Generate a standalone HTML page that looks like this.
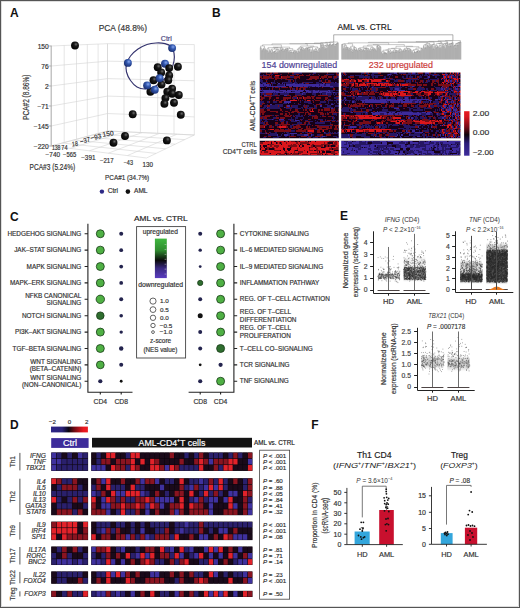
<!DOCTYPE html>
<html><head><meta charset="utf-8"><style>
html,body{margin:0;padding:0;background:#fff;}
#fig{position:relative;width:520px;height:608px;overflow:hidden;background:#fff;}
svg{position:absolute;left:0;top:0;font-family:"Liberation Sans",sans-serif;}
</style></head><body><div id="fig">
<svg width="520" height="608" viewBox="0 0 520 608">
<defs>
<radialGradient id="gk" cx="0.62" cy="0.35" r="0.7"><stop offset="0" stop-color="#6a6a6a"/><stop offset="0.35" stop-color="#1a1a1a"/><stop offset="1" stop-color="#000"/></radialGradient>
<radialGradient id="gb" cx="0.62" cy="0.35" r="0.7"><stop offset="0" stop-color="#86a6ee"/><stop offset="0.4" stop-color="#3358ae"/><stop offset="1" stop-color="#182a6c"/></radialGradient>
<linearGradient id="gbar" x1="0" y1="0" x2="0" y2="1"><stop offset="0" stop-color="#e81c22"/><stop offset="0.12" stop-color="#d8161e"/><stop offset="0.35" stop-color="#7a0a16"/><stop offset="0.53" stop-color="#0e040c"/><stop offset="0.72" stop-color="#2a1c78"/><stop offset="1" stop-color="#3e2c9c"/></linearGradient>
<linearGradient id="ggr" x1="0" y1="0" x2="0" y2="1"><stop offset="0" stop-color="#3fb83f"/><stop offset="0.3" stop-color="#2f8a2f"/><stop offset="0.55" stop-color="#0a0a0a"/><stop offset="0.75" stop-color="#3a2a80"/><stop offset="1" stop-color="#5a3cc0"/></linearGradient>
<linearGradient id="gd" x1="0" y1="0" x2="1" y2="0"><stop offset="0" stop-color="#2e2688"/><stop offset="0.3" stop-color="#2a2278"/><stop offset="0.48" stop-color="#0a0610"/><stop offset="0.62" stop-color="#6a0a14"/><stop offset="0.88" stop-color="#e81820"/><stop offset="1" stop-color="#f01c22"/></linearGradient>
<filter id="hb" x="-5%" y="-5%" width="110%" height="110%"><feGaussianBlur stdDeviation="0.45"/></filter>
<filter id="vb" x="-20%" y="-50%" width="140%" height="200%"><feGaussianBlur stdDeviation="0.4 1.1"/></filter>
</defs>
<rect x="0" y="0" width="520" height="608" fill="#fff"/>
<text x="10" y="16.8" font-size="12" font-weight="bold" fill="#111">A</text>
<text x="98.7" y="30.6" font-size="9.9" textLength="48.4" lengthAdjust="spacingAndGlyphs" fill="#333" stroke="#333" stroke-width="0.18">PCA (48.8%)</text>
<path d="M51.2 46.00L51.2 146.00M64.2 45.47L64.2 142.54M76.5 44.97L76.5 139.26M87.3 44.53L87.3 136.38M98.1 44.08L98.1 133.50M107.5 43.70L107.5 131.00M51.2 46.00L107.5 43.70M51.2 66.00L107.5 61.16M51.2 86.00L107.5 78.62M51.2 106.00L107.5 96.08M51.2 126.00L107.5 113.54M51.2 146.00L107.5 131.00M107.5 43.70L107.5 131.00M124 43.87L124 131.76M140.4 44.04L140.4 132.52M157.7 44.22L157.7 133.31M174 44.39L174 134.06M194.3 44.60L194.3 135.00M107.5 43.70L194.3 44.60M107.5 61.16L194.3 62.68M107.5 78.62L194.3 80.76M107.5 96.08L194.3 98.84M107.5 113.54L194.3 116.92M107.5 131.00L194.3 135.00M51.20 146.00L146.50 158.00M107.50 131.00L51.20 146.00M62.46 143.00L156.06 153.40M124.86 131.80L70.26 148.40M73.72 140.00L165.62 148.80M142.22 132.60L89.32 150.80M84.98 137.00L175.18 144.20M159.58 133.40L108.38 153.20M96.24 134.00L184.74 139.60M176.94 134.20L127.44 155.60M107.50 131.00L194.30 135.00M194.30 135.00L146.50 158.00" stroke="#d4d4d4" stroke-width="0.6" fill="none"/>
<path d="M51.2 45.5L51.2 146.5M48.5 46H51.2M48.5 66H51.2M48.5 86H51.2M48.5 106H51.2M48.5 126H51.2M48.5 146H51.2" stroke="#999" stroke-width="0.7" fill="none"/>
<text x="48.7" y="48.65" font-size="6.6" text-anchor="end" fill="#333" stroke="#333" stroke-width="0.18">150</text>
<text x="48.7" y="69.15" font-size="6.6" text-anchor="end" fill="#333" stroke="#333" stroke-width="0.18">76</text>
<text x="48.7" y="89.15" font-size="6.6" text-anchor="end" fill="#333" stroke="#333" stroke-width="0.18">2</text>
<text x="48.7" y="109.15" font-size="6.6" text-anchor="end" fill="#333" stroke="#333" stroke-width="0.18">−71</text>
<text x="48.7" y="128.65" font-size="6.6" text-anchor="end" fill="#333" stroke="#333" stroke-width="0.18">−145</text>
<text x="48.7" y="148.65" font-size="6.6" text-anchor="end" fill="#333" stroke="#333" stroke-width="0.18">−220</text>
<text x="29.4" y="97.2" font-size="8.3" text-anchor="middle" textLength="45.4" lengthAdjust="spacingAndGlyphs" fill="#333" stroke="#333" stroke-width="0.18" transform="rotate(-90 29.4 97.2)">PCA#2 (8.86%)</text>
<text x="56.2" y="150.3" font-size="6.6" text-anchor="middle" fill="#333" stroke="#333" stroke-width="0.18" textLength="8.5" lengthAdjust="spacingAndGlyphs" transform="rotate(0 56.2 148.0)">138</text>
<text x="64.4" y="149.6" font-size="6.6" text-anchor="middle" fill="#333" stroke="#333" stroke-width="0.18" textLength="6.2" lengthAdjust="spacingAndGlyphs" transform="rotate(0 64.4 147.3)">74</text>
<text x="75.0" y="146.1" font-size="6.6" text-anchor="middle" fill="#333" stroke="#333" stroke-width="0.18" textLength="6.0" lengthAdjust="spacingAndGlyphs" transform="rotate(-8 75.0 143.8)">18</text>
<text x="84.9" y="142.8" font-size="6.6" text-anchor="middle" fill="#333" stroke="#333" stroke-width="0.18" textLength="10.2" lengthAdjust="spacingAndGlyphs" transform="rotate(-14 84.9 140.5)">−37</text>
<text x="95.8" y="139.3" font-size="6.6" text-anchor="middle" fill="#333" stroke="#333" stroke-width="0.18" textLength="10.9" lengthAdjust="spacingAndGlyphs" transform="rotate(-14 95.8 137.0)">−93</text>
<text x="108.1" y="136.1" font-size="6.6" text-anchor="middle" fill="#333" stroke="#333" stroke-width="0.18" textLength="11.2" lengthAdjust="spacingAndGlyphs" transform="rotate(-8 108.1 133.8)">150</text>
<text x="52.8" y="156.8" font-size="6.6" text-anchor="middle" fill="#333" stroke="#333" stroke-width="0.18" textLength="14.5" lengthAdjust="spacingAndGlyphs">−740</text>
<text x="69.6" y="156.8" font-size="6.6" text-anchor="middle" fill="#333" stroke="#333" stroke-width="0.18" textLength="13.2" lengthAdjust="spacingAndGlyphs">−565</text>
<text x="88.3" y="159.8" font-size="6.6" text-anchor="middle" fill="#333" stroke="#333" stroke-width="0.18" textLength="14.3" lengthAdjust="spacingAndGlyphs">−391</text>
<text x="106.8" y="162.8" font-size="6.6" text-anchor="middle" fill="#333" stroke="#333" stroke-width="0.18" textLength="13.7" lengthAdjust="spacingAndGlyphs">−217</text>
<text x="128.3" y="164.8" font-size="6.6" text-anchor="middle" fill="#333" stroke="#333" stroke-width="0.18" textLength="9.3" lengthAdjust="spacingAndGlyphs">−43</text>
<text x="147.8" y="166.5" font-size="6.6" text-anchor="middle" fill="#333" stroke="#333" stroke-width="0.18" textLength="10.5" lengthAdjust="spacingAndGlyphs">130</text>
<text x="29.6" y="170.4" font-size="8.3" textLength="45.6" lengthAdjust="spacingAndGlyphs" fill="#333" stroke="#333" stroke-width="0.18">PCA#3 (5.24%)</text>
<text x="105.1" y="179.5" font-size="7.8" textLength="44.1" lengthAdjust="spacingAndGlyphs" fill="#333" stroke="#333" stroke-width="0.18">PCA#1 (34.7%)</text>
<circle cx="101.9" cy="191.6" r="2.2" fill="#2e2a86"/>
<text x="107.7" y="193.2" font-size="6.4" textLength="10.4" lengthAdjust="spacingAndGlyphs" fill="#333" stroke="#333" stroke-width="0.18">Ctrl</text>
<circle cx="127.9" cy="191.6" r="2.3" fill="#111"/>
<text x="134" y="193.2" font-size="6.4" textLength="13.5" lengthAdjust="spacingAndGlyphs" fill="#333" stroke="#333" stroke-width="0.18">AML</text>
<path d="M156.00 43.00 C159.00 42.85 162.50 43.02 165.00 43.60 C167.50 44.18 169.50 44.93 171.00 46.50 C172.50 48.07 173.50 50.58 174.00 53.00 C174.50 55.42 174.50 58.17 174.00 61.00 C173.50 63.83 172.67 66.92 171.00 70.00 C169.33 73.08 166.67 76.75 164.00 79.50 C161.33 82.25 158.17 84.92 155.00 86.50 C151.83 88.08 148.00 88.92 145.00 89.00 C142.00 89.08 139.42 88.42 137.00 87.00 C134.58 85.58 132.25 83.00 130.50 80.50 C128.75 78.00 127.17 74.75 126.50 72.00 C125.83 69.25 125.83 66.67 126.50 64.00 C127.17 61.33 128.58 58.50 130.50 56.00 C132.42 53.50 135.25 50.92 138.00 49.00 C140.75 47.08 144.00 45.50 147.00 44.50 C150.00 43.50 153.00 43.15 156.00 43.00 Z" fill="none" stroke="#34336e" stroke-width="1.15"/>
<text x="160.8" y="40.8" font-size="6.5" textLength="11" lengthAdjust="spacingAndGlyphs" fill="#4b4a80" stroke="#4b4a80" stroke-width="0.18">Ctrl</text>
<circle cx="75" cy="45.5" r="3.95" fill="url(#gk)"/>
<circle cx="177.9" cy="66.7" r="3.95" fill="url(#gk)"/>
<circle cx="157.7" cy="67.3" r="3.95" fill="url(#gk)"/>
<circle cx="161.2" cy="72.5" r="3.95" fill="url(#gk)"/>
<circle cx="169.2" cy="75.4" r="3.95" fill="url(#gk)"/>
<circle cx="153.5" cy="80.2" r="3.95" fill="url(#gk)"/>
<circle cx="168.3" cy="80.2" r="3.95" fill="url(#gk)"/>
<circle cx="161.5" cy="84.6" r="3.95" fill="url(#gk)"/>
<circle cx="172.1" cy="88.8" r="3.95" fill="url(#gk)"/>
<circle cx="150.4" cy="91.7" r="3.95" fill="url(#gk)"/>
<circle cx="167.3" cy="91.7" r="3.95" fill="url(#gk)"/>
<circle cx="172.1" cy="93.7" r="3.95" fill="url(#gk)"/>
<circle cx="178.8" cy="95" r="3.95" fill="url(#gk)"/>
<circle cx="165.4" cy="98.1" r="3.95" fill="url(#gk)"/>
<circle cx="174" cy="102.7" r="3.95" fill="url(#gk)"/>
<circle cx="164.4" cy="103.8" r="3.95" fill="url(#gk)"/>
<circle cx="132.7" cy="114.2" r="3.95" fill="url(#gk)"/>
<circle cx="180.8" cy="114.8" r="3.95" fill="url(#gk)"/>
<circle cx="125" cy="136" r="3.95" fill="url(#gk)"/>
<circle cx="166.9" cy="140.4" r="3.95" fill="url(#gk)"/>
<circle cx="113.5" cy="142.7" r="3.95" fill="url(#gk)"/>
<circle cx="172.1" cy="48.1" r="3.95" fill="url(#gb)"/>
<circle cx="127.9" cy="62.9" r="3.95" fill="url(#gb)"/>
<circle cx="165" cy="63.8" r="3.95" fill="url(#gb)"/>
<circle cx="159.6" cy="78.3" r="3.95" fill="url(#gb)"/>
<circle cx="147.1" cy="85.4" r="3.95" fill="url(#gb)"/>
<circle cx="154.8" cy="89.8" r="3.95" fill="url(#gb)"/>
<circle cx="169.2" cy="68.1" r="3.95" fill="url(#gk)"/>
<text x="212.1" y="16.7" font-size="12" font-weight="bold" fill="#111">B</text>
<text x="337.4" y="29.8" font-size="8.9" textLength="54.2" lengthAdjust="spacingAndGlyphs" fill="#222" stroke="#222" stroke-width="0.18">AML vs. CTRL</text>
<path d="M260.77 59.80V48.00H261.28V59.80M260.26 59.80V47.64H261.02V48.00M262.30 59.80V50.78H262.81V59.80M261.79 59.80V50.40H262.55V50.78M263.32 59.80V50.55H263.83V59.80M262.17 50.40V49.26H263.57V50.55M262.87 49.26V49.16H264.34V59.80M265.36 59.80V50.36H265.87V59.80M264.85 59.80V49.49H265.61V50.36M263.60 49.16V48.16H265.23V49.49M260.64 47.64V45.97H264.42V48.16M267.91 59.80V52.73H268.42V59.80M267.40 59.80V51.58H268.17V52.73M266.89 59.80V50.80H267.78V51.58M266.38 59.80V50.46H267.34V50.80M268.93 59.80V50.22H269.44V59.80M266.86 50.46V48.91H269.19V50.22M270.97 59.80V53.06H271.48V59.80M270.46 59.80V51.87H271.23V53.06M269.95 59.80V51.54H270.85V51.87M271.99 59.80V50.24H272.50V59.80M270.40 51.54V50.14H272.25V50.24M273.01 59.80V52.14H273.53V59.80M274.04 59.80V52.64H274.55V59.80M275.06 59.80V53.06H275.57V59.80M274.29 52.64V51.92H275.31V53.06M273.27 52.14V51.79H274.80V51.92M276.08 59.80V52.50H276.59V59.80M274.04 51.79V51.51H276.33V52.50M277.10 59.80V52.81H277.61V59.80M277.35 52.81V51.56H278.12V59.80M275.18 51.51V50.27H277.74V51.56M279.14 59.80V51.35H279.65V59.80M278.63 59.80V50.12H279.39V51.35M276.46 50.27V49.42H279.01V50.12M271.32 50.14V49.12H277.74V49.42M280.16 59.80V49.63H280.67V59.80M281.69 59.80V50.27H282.20V59.80M281.18 59.80V50.07H281.95V50.27M282.71 59.80V50.82H283.22V59.80M281.56 50.07V49.38H282.97V50.82M282.27 49.38V49.25H283.73V59.80M280.42 49.63V48.09H283.00V49.25M274.53 49.12V47.80H281.71V48.09M268.02 48.91V47.63H278.12V47.80M284.24 59.80V50.75H284.75V59.80M284.50 50.75V49.72H285.26V59.80M285.77 59.80V49.59H286.29V59.80M284.88 49.72V49.20H286.03V49.59M286.80 59.80V50.01H287.31V59.80M287.82 59.80V49.68H288.33V59.80M287.05 50.01V48.95H288.07V49.68M285.46 49.20V48.71H287.56V48.95M288.84 59.80V52.38H289.35V59.80M289.09 52.38V50.99H289.86V59.80M290.37 59.80V52.54H290.88V59.80M291.39 59.80V52.21H291.90V59.80M290.62 52.54V52.06H291.64V52.21M289.48 50.99V50.71H291.13V52.06M292.92 59.80V53.51H293.43V59.80M293.18 53.51V52.75H293.94V59.80M293.56 52.75V52.57H294.45V59.80M292.41 59.80V52.31H294.00V52.57M294.96 59.80V51.87H295.47V59.80M293.21 52.31V51.41H295.22V51.87M295.98 59.80V51.70H296.49V59.80M294.21 51.41V50.92H296.24V51.70M290.30 50.71V50.29H295.22V50.92M286.51 48.71V48.61H292.76V50.29M273.07 47.63V47.14H289.64V48.61M262.53 45.97V44.85H281.35V47.14M297.51 59.80V53.08H298.02V59.80M297.77 53.08V51.79H298.53V59.80M299.04 59.80V52.15H299.56V59.80M298.15 51.79V51.21H299.30V52.15M297.00 59.80V49.61H298.73V51.21M297.86 49.61V48.65H300.07V59.80M300.58 59.80V49.12H301.09V59.80M301.60 59.80V48.89H302.11V59.80M300.83 49.12V48.73H301.85V48.89M302.62 59.80V49.90H303.13V59.80M302.87 49.90V48.40H303.64V59.80M301.34 48.73V47.68H303.26V48.40M298.97 48.65V47.30H302.30V47.68M304.15 59.80V49.67H304.66V59.80M305.17 59.80V50.54H305.68V59.80M305.42 50.54V49.19H306.19V59.80M304.40 49.67V48.92H305.81V49.19M307.72 59.80V49.71H308.23V59.80M307.21 59.80V49.42H307.98V49.71M307.59 49.42V48.60H308.74V59.80M306.70 59.80V48.46H308.17V48.60M305.11 48.92V48.22H307.43V48.46M309.25 59.80V49.78H309.76V59.80M309.51 49.78V49.36H310.27V59.80M306.27 48.22V47.66H309.89V49.36M310.78 59.80V52.26H311.29V59.80M311.04 52.26V51.90H311.80V59.80M311.42 51.90V50.63H312.31V59.80M312.83 59.80V50.34H313.34V59.80M311.87 50.63V49.23H313.08V50.34M308.08 47.66V47.39H312.47V49.23M313.85 59.80V51.24H314.36V59.80M314.87 59.80V51.13H315.38V59.80M314.10 51.24V50.19H315.12V51.13M315.89 59.80V51.00H316.40V59.80M316.14 51.00V49.72H316.91V59.80M314.61 50.19V49.41H316.53V49.72M317.93 59.80V51.81H318.44V59.80M317.42 59.80V51.66H318.18V51.81M317.80 51.66V50.20H318.95V59.80M318.38 50.20V49.48H319.46V59.80M318.92 49.48V48.63H319.97V59.80M315.57 49.41V48.09H319.44V48.63M310.28 47.39V46.85H317.51V48.09M300.63 47.30V46.02H313.89V46.85M271.94 44.85V43.87H307.26V46.02M320.99 59.80V44.87H321.50V59.80M320.48 59.80V44.53H321.25V44.87M289.60 43.87V43.72H320.86V44.53M322.01 59.80V47.26H322.52V59.80M322.27 47.26V44.87H323.03V59.80M322.65 44.87V44.71H323.54V59.80M305.23 43.72V43.50H323.10V44.71M324.05 59.80V47.38H324.56V59.80M325.07 59.80V49.06H325.59V59.80M325.33 49.06V48.39H326.10V59.80M326.61 59.80V48.29H327.12V59.80M325.71 48.39V46.61H326.86V48.29M324.31 47.38V45.55H326.29V46.61M325.30 45.55V45.13H327.63V59.80M326.46 45.13V44.88H328.14V59.80M314.16 43.50V43.01H327.30V44.88M328.65 59.80V45.25H329.16V59.80M328.90 45.25V44.83H329.67V59.80M329.29 44.83V44.43H330.18V59.80M329.73 44.43V44.05H330.69V59.80M320.73 43.01V42.68H330.21V44.05M331.20 59.80V45.65H331.71V59.80M331.45 45.65V45.04H332.22V59.80M331.84 45.04V44.90H332.73V59.80M332.28 44.90V44.49H333.24V59.80M332.76 44.49V44.14H333.75V59.80M333.26 44.14V43.80H334.26V59.80M325.47 42.68V42.33H333.76V43.80M334.77 59.80V46.15H335.28V59.80M335.03 46.15V44.52H335.79V59.80M335.41 44.52V44.36H336.30V59.80M335.86 44.36V44.20H336.81V59.80M336.34 44.20V43.77H337.32V59.80M336.83 43.77V43.47H337.83V59.80M337.33 43.47V42.96H338.34V59.80M329.62 42.33V42.00H337.84V42.96" stroke="#7a7a7a" stroke-width="0.4" fill="none"/>
<path d="M342.17 59.50V44.73H342.69V59.50M341.66 59.50V44.49H342.43V44.73M343.21 59.50V49.34H343.72V59.50M343.47 49.34V48.28H344.24V59.50M343.85 48.28V46.23H344.76V59.50M345.79 59.50V48.67H346.31V59.50M346.82 59.50V49.07H347.34V59.50M347.08 49.07V48.70H347.85V59.50M346.05 48.67V48.09H347.47V48.70M346.76 48.09V47.43H348.37V59.50M345.27 59.50V47.26H347.56V47.43M344.30 46.23V45.37H346.42V47.26M342.05 44.49V44.18H345.36V45.37M348.89 59.50V49.81H349.40V59.50M349.92 59.50V48.90H350.44V59.50M349.15 49.81V48.34H350.18V48.90M351.99 59.50V51.98H352.50V59.50M351.47 59.50V51.14H352.24V51.98M351.86 51.14V50.39H353.02V59.50M350.95 59.50V49.57H352.44V50.39M349.66 48.34V47.89H351.70V49.57M354.57 59.50V49.43H355.08V59.50M354.05 59.50V49.32H354.83V49.43M355.60 59.50V50.16H356.12V59.50M357.15 59.50V51.20H357.67V59.50M356.63 59.50V50.10H357.41V51.20M355.86 50.16V49.80H357.02V50.10M354.44 49.32V47.92H356.44V49.80M353.53 59.50V47.44H355.44V47.92M350.68 47.89V46.24H354.49V47.44M343.70 44.18V43.70H352.58V46.24M358.18 59.50V48.65H358.70V59.50M359.22 59.50V50.40H359.73V59.50M359.47 50.40V50.01H360.25V59.50M360.76 59.50V50.61H361.28V59.50M361.02 50.61V49.59H361.80V59.50M359.86 50.01V49.40H361.41V49.59M358.44 48.65V48.38H360.64V49.40M362.31 59.50V50.92H362.83V59.50M364.38 59.50V51.35H364.90V59.50M363.86 59.50V50.51H364.64V51.35M363.35 59.50V50.04H364.25V50.51M362.57 50.92V49.87H363.80V50.04M365.41 59.50V50.39H365.93V59.50M363.18 49.87V48.83H365.67V50.39M366.44 59.50V49.41H366.96V59.50M364.43 48.83V48.60H366.70V49.41M367.48 59.50V50.47H367.99V59.50M369.03 59.50V50.68H369.54V59.50M368.51 59.50V49.63H369.28V50.68M367.74 50.47V48.76H368.90V49.63M365.56 48.60V48.36H368.32V48.76M359.54 48.38V47.77H366.94V48.36M370.58 59.50V51.23H371.09V59.50M370.83 51.23V49.94H371.61V59.50M370.06 59.50V49.13H371.22V49.94M373.16 59.50V49.96H373.67V59.50M372.64 59.50V49.41H373.42V49.96M372.12 59.50V48.98H373.03V49.41M374.19 59.50V49.49H374.71V59.50M375.74 59.50V50.81H376.26V59.50M375.22 59.50V50.14H376.00V50.81M374.45 49.49V49.01H375.61V50.14M372.58 48.98V48.67H375.03V49.01M370.64 49.13V47.61H373.80V48.67M363.24 47.77V46.09H372.22V47.61M377.29 59.50V46.25H377.80V59.50M376.77 59.50V45.94H377.55V46.25M378.32 59.50V48.14H378.84V59.50M379.35 59.50V48.82H379.87V59.50M378.58 48.14V47.40H379.61V48.82M380.39 59.50V47.08H380.90V59.50M379.10 47.40V46.59H380.64V47.08M377.16 45.94V45.70H379.87V46.59M367.73 46.09V44.98H378.51V45.70M381.42 59.50V52.71H381.94V59.50M382.45 59.50V54.34H382.97V59.50M382.71 54.34V53.46H383.48V59.50M384.00 59.50V53.68H384.52V59.50M385.03 59.50V53.52H385.55V59.50M384.26 53.68V53.14H385.29V53.52M386.58 59.50V53.73H387.10V59.50M386.07 59.50V53.42H386.84V53.73M384.78 53.14V52.91H386.45V53.42M383.10 53.46V52.72H385.61V52.91M381.68 52.71V51.67H384.36V52.72M387.62 59.50V51.73H388.13V59.50M388.65 59.50V51.55H389.17V59.50M387.87 51.73V51.21H388.91V51.55M383.02 51.67V50.19H388.39V51.21M390.20 59.50V53.03H390.71V59.50M390.46 53.03V52.74H391.23V59.50M390.84 52.74V52.30H391.75V59.50M389.68 59.50V51.10H391.30V52.30M385.70 50.19V49.89H390.49V51.10M392.26 59.50V51.97H392.78V59.50M393.30 59.50V52.33H393.81V59.50M393.55 52.33V52.26H394.33V59.50M392.52 51.97V51.38H393.94V52.26M395.88 59.50V52.29H396.39V59.50M395.36 59.50V52.08H396.14V52.29M395.75 52.08V51.84H396.91V59.50M394.85 59.50V51.16H396.33V51.84M395.59 51.16V50.59H397.43V59.50M393.23 51.38V50.20H396.51V50.59M388.10 49.89V48.70H394.87V50.20M397.94 59.50V51.10H398.46V59.50M399.49 59.50V52.27H400.01V59.50M398.98 59.50V51.82H399.75V52.27M399.36 51.82V50.78H400.53V59.50M398.20 51.10V50.20H399.94V50.78M401.04 59.50V51.36H401.56V59.50M402.07 59.50V51.46H402.59V59.50M401.30 51.36V50.47H402.33V51.46M399.07 50.20V49.46H401.82V50.47M391.48 48.70V48.33H400.44V49.46M403.62 59.50V51.05H404.14V59.50M403.11 59.50V50.53H403.88V51.05M405.17 59.50V51.38H405.69V59.50M405.43 51.38V50.13H406.21V59.50M404.66 59.50V50.03H405.82V50.13M403.49 50.53V49.48H405.24V50.03M406.72 59.50V50.01H407.24V59.50M406.98 50.01V49.16H407.75V59.50M408.27 59.50V51.33H408.79V59.50M408.53 51.33V50.21H409.30V59.50M409.82 59.50V50.12H410.34V59.50M410.85 59.50V50.66H411.37V59.50M410.08 50.12V49.65H411.11V50.66M408.92 50.21V49.16H410.59V49.65M407.37 49.16V48.52H409.76V49.16M404.37 49.48V48.33H408.56V48.52M412.92 59.50V53.70H413.43V59.50M412.40 59.50V53.07H413.18V53.70M411.89 59.50V52.06H412.79V53.07M414.47 59.50V52.40H414.98V59.50M414.73 52.40V52.27H415.50V59.50M413.95 59.50V52.06H415.11V52.27M412.34 52.06V50.70H414.53V52.06M416.02 59.50V52.01H416.53V59.50M417.57 59.50V52.44H418.08V59.50M417.05 59.50V51.83H417.82V52.44M417.44 51.83V51.59H418.60V59.50M416.27 52.01V51.41H418.02V51.59M419.12 59.50V51.75H419.63V59.50M419.37 51.75V51.11H420.15V59.50M417.15 51.41V50.79H419.76V51.11M413.43 50.70V49.63H418.45V50.79M420.66 59.50V50.47H421.18V59.50M420.92 50.47V48.75H421.70V59.50M422.21 59.50V49.52H422.73V59.50M421.31 48.75V48.43H422.47V49.52M415.94 49.63V48.08H421.89V48.43M406.46 48.33V46.71H418.92V48.08M395.96 48.33V46.30H412.69V46.71M373.12 44.98V44.59H404.33V46.30M348.14 43.70V42.85H388.72V44.59M423.76 59.50V46.82H424.28V59.50M423.25 59.50V46.66H424.02V46.82M424.80 59.50V48.40H425.31V59.50M425.05 48.40V48.09H425.83V59.50M425.44 48.09V47.18H426.34V59.50M423.63 46.66V45.02H425.89V47.18M427.38 59.50V46.60H427.89V59.50M427.64 46.60V46.17H428.41V59.50M426.86 59.50V45.47H428.02V46.17M424.76 45.02V44.63H427.44V45.47M429.44 59.50V47.11H429.96V59.50M430.48 59.50V46.15H430.99V59.50M429.70 47.11V44.98H430.73V46.15M428.93 59.50V44.04H430.22V44.98M426.10 44.63V43.42H429.57V44.04M368.43 42.85V42.34H427.84V43.42M432.02 59.50V45.60H432.54V59.50M431.51 59.50V44.79H432.28V45.60M433.57 59.50V49.32H434.09V59.50M433.06 59.50V48.75H433.83V49.32M433.44 48.75V46.83H434.61V59.50M431.90 44.79V44.53H434.03V46.83M432.96 44.53V44.16H435.12V59.50M398.14 42.34V41.96H434.04V44.16M436.16 59.50V48.03H436.67V59.50M437.19 59.50V47.47H437.70V59.50M436.41 48.03V46.98H437.45V47.47M436.93 46.98V46.76H438.22V59.50M435.64 59.50V45.61H437.58V46.76M439.25 59.50V48.46H439.77V59.50M438.74 59.50V46.78H439.51V48.46M440.29 59.50V48.38H440.80V59.50M440.54 48.38V47.46H441.32V59.50M439.12 46.78V45.57H440.93V47.46M436.61 45.61V43.59H440.03V45.57M438.32 43.59V43.40H441.84V59.50M440.08 43.40V43.01H442.35V59.50M416.09 41.96V41.63H441.21V43.01M442.87 59.50V46.39H443.38V59.50M443.13 46.39V44.34H443.90V59.50M444.93 59.50V48.64H445.45V59.50M444.42 59.50V46.91H445.19V48.64M445.97 59.50V45.09H446.48V59.50M444.80 46.91V44.92H446.23V45.09M443.51 44.34V43.62H445.51V44.92M444.51 43.62V43.33H447.00V59.50M445.76 43.33V43.02H447.52V59.50M446.64 43.02V42.74H448.03V59.50M428.65 41.63V41.39H447.33V42.74M448.55 59.50V46.35H449.07V59.50M450.10 59.50V46.07H450.61V59.50M450.36 46.07V45.66H451.13V59.50M449.58 59.50V44.31H450.74V45.66M448.81 46.35V43.98H450.16V44.31M449.48 43.98V43.64H451.65V59.50M450.57 43.64V43.44H452.16V59.50M451.36 43.44V43.17H452.68V59.50M452.02 43.17V42.76H453.20V59.50M437.99 41.39V40.81H452.61V42.76M453.71 59.50V46.16H454.23V59.50M455.26 59.50V48.02H455.78V59.50M454.75 59.50V45.79H455.52V48.02M453.97 46.16V45.45H455.13V45.79M454.55 45.45V45.32H456.29V59.50M455.42 45.32V43.86H456.81V59.50M457.33 59.50V45.18H457.84V59.50M457.59 45.18V44.88H458.36V59.50M456.12 43.86V43.46H457.97V44.88M457.04 43.46V43.01H458.88V59.50M457.96 43.01V42.75H459.39V59.50M458.68 42.75V42.32H459.91V59.50M459.29 42.32V42.15H460.43V59.50M459.86 42.15V41.96H460.94V59.50M445.30 40.81V40.50H460.40V41.96" stroke="#7a7a7a" stroke-width="0.4" fill="none"/>
<path d="M333.7 42.0V34.8H452.9V40.5" stroke="#7a7a7a" stroke-width="0.6" fill="none"/>
<text x="261.6" y="68.4" font-size="8.6" textLength="75.6" lengthAdjust="spacingAndGlyphs" fill="#4e3f94" stroke="#4e3f94" stroke-width="0.18">154 downregulated</text>
<text x="368.8" y="68.4" font-size="8.6" textLength="64.2" lengthAdjust="spacingAndGlyphs" fill="#cc3b3b" stroke="#cc3b3b" stroke-width="0.18">232 upregulated</text>
<clipPath id="c1"><rect x="259.7" y="72.4" width="79.1" height="65.9"/></clipPath><g clip-path="url(#c1)"><g filter="url(#hb)">
<rect x="258.7" y="71.4" width="81.1" height="67.9" fill="#1a0616"/>
<path stroke="#da161c" stroke-width="1.318" shape-rendering="crispEdges" d="M274.7 75.7h4m2 1.31h1m38 1.32h1m-24 19.77h1m5 0h1m-14 2.64h7m10 0h3m2 9.22h1m-3 1.32h4m-50 15.82h1m14 0h7m-16 2.63h4m34 1.32h6m9 0h1"/>
<path stroke="#7a0818" stroke-width="1.318" shape-rendering="crispEdges" d="M265.7 73.06h1m3 0h2m2 0h4m10 0h1m3 0h2m33 0h1m8 0h1m-71 1.32h5m10 0h1m14 0h3m3 0h1m6 0h1m3 0h1m22 0h3.1m-76.1 1.32h1m5 0h1m1 0h1m7 0h1m7 0h1m2 0h4m5 0h5m2 0h4m9 0h1m4 0h4m9 0h2.1m-79.1 1.31h2m1 0h9m3 0h4m3 0h8m4 0h6m10 0h9m2 0h6m1 0h4m2 0h3m-76 1.32h8m2 0h3m1 0h12m7 0h3m2 0h1m9 0h10m3 0h2m3 0h1m6 0h1m-60 1.32h2m9 0h5m16 0h5m3 0h2m-51 1.32h1m23 0h1m2 0h1m27 0h1m3 0h1m2 0h2m-27 1.32h1m19 0h8m8 0h0.1m-72.1 1.31h3m1 0h1m34 0h3m-43 3.96h1m5 0h1m2 0h3m4 0h6m1 0h3m4 0h2m2 0h7m15 0h1m-63 1.32h1m11 0h1m6 0h1m10 0h1m1 0h1m3 0h2m1 0h2m2 0h2m28 0h2m-72 5.27h1m2 0h6m66 0h1.1m-69.1 1.32h1m4 0h2m1 0h1m8 0h3m5 0h2m1 0h3m17 0h10m-68 1.31h2m2 0h8m18 0h1m2 0h4m5 0h2m3 0h3m1 0h4m14 0h2m5 0h3m-78 1.32h3m5 0h2m5 0h3m4 0h8m1 0h1m6 0h3m2 0h7m1 0h2m2 0h5m4 0h3m-68 1.32h3m6 0h1m4 0h1m8 0h3m1 0h1m5 0h2m3 0h1m5 0h2m8 0h1m10 0h2m1 0h1m8 0h2m-78 1.32h1m11 0h2m1 0h3m2 0h5m12 0h1m1 0h1m4 0h1m4 0h1m1 0h1m2 0h5m4 0h1m2 0h1m-59 1.32h1m9 0h3m31 0h1m-52 1.31h3m33 0h1m-37 1.32h1m53 0h6m-62 1.32h2m5 0h3m8 0h1m7 0h1m4 0h1m12 0h1m1 0h1m9 0h1m-31 1.32h3m15 0h3m-27 1.32h1m30 0h4m9 0h6m4 0h1m4 0h0.1m-79.1 1.31h4m3 0h3m10 0h2m8 0h1m4 0h3m5 0h1m1 0h2m2 0h2m7 0h2m1 0h2m1 0h6m1 0h4m3 0h1.1m-79.1 1.32h6m4 0h8m4 0h1m2 0h3m4 0h7m8 0h1m10 0h1m12 0h3m1 0h1m3 0h0.1m-79.1 1.32h5m11 0h2m10 0h2m1 0h3m3 0h7m1 0h4m9 0h5m6 0h10.1m-79.1 1.32h1m1 0h2m16 0h3m2 0h2m2 0h1m15 0h1m2 0h3m9 0h4m1 0h1m1 0h2m3 0h1m-68 1.32h1m1 0h5m3 0h3m6 0h5m1 0h2m12 0h1m10 0h2m-55 1.31h8m15 0h6m3 0h1m17 0h6m4 0h4m2 0h3m-71 1.32h3m1 0h3m9 0h3m1 0h5m27 0h1m1 0h4m14 0h1m-66 1.32h1m32 0h1m7 0h2m-33 1.32h1m2 0h1m9 0h1m10 0h1m18 0h1m4 0h1m1 0h4m6 0h1m-76 1.32h1m20 0h1m21 0h4m11 0h4m8 0h3m3 0h1m-75 1.31h1m1 0h2m7 0h3m3 0h3m3 0h1m16 0h2m3 0h1m-45 1.32h4m7 0h1m2 0h11m2 0h1m5 0h1m1 0h5m25 0h3m-73 1.32h6m4 0h2m3 0h1m4 0h1m1 0h5m9 0h4m12 0h1m2 0h4m13 0h1m1 0h5m-79 1.32h4m5 0h3m1 0h1m3 0h2m7 0h2m5 0h8m5 0h2m1 0h1m7 0h12m1 0h2m3 0h2m1 0h1.1m-59.1 1.32h1m7 0h1m2 0h4m1 0h2m3 0h2m3 0h5m1 0h4m3 0h3m4 0h6m2 0h3m-77 1.31h1m7 0h2m5 0h4m1 0h4m4 0h3m7 0h4m2 0h10m4 0h10m6 0h4m1 0h0.1m-79.1 1.32h2m3 0h1m8 0h17m5 0h10m1 0h1m9 0h3m2 0h1m6 0h1m9 0h0.1m-73.1 1.32h1m2 0h1m42 0h2m3 0h4m-56 1.32h1m1 0h2m31 0h2m5 0h5m17 0h1m3 0h1m-26 1.31h1m11 0h3m3 0h5m-67 1.32h2m2 0h3m18 0h7m5 0h5m9 0h6m-12 1.32h2"/>
<path stroke="#180414" stroke-width="1.318" shape-rendering="crispEdges" d="M260.7 73.06h5m1 0h3m2 0h1m5 0h10m1 0h3m10 0h11m3 0h11m1 0h8m2 0h1.1m-79.1 1.32h3m1 0h2m7 0h7m2 0h10m7 0h3m1 0h6m2 0h1m2 0h4m1 0h7m8 0h2m-69 1.32h2m1 0h1m1 0h3m5 0h7m1 0h2m4 0h3m1 0h1m5 0h2m4 0h9m1 0h4m4 0h8m-74 1.31h1m9 0h2m5 0h2m19 0h10m9 0h2m6 0h1m4 0h1m-73 1.32h1m13 0h1m12 0h7m3 0h2m1 0h9m10 0h1m1 0h1m2 0h3m1 0h5m4 0h2.1m-77.1 1.32h3m3 0h7m2 0h4m1 0h3m8 0h2m1 0h10m6 0h3m2 0h8m3 0h6m1 0h3m1 0h0.1m-76.1 1.32h3m1 0h7m1 0h13m3 0h2m1 0h1m1 0h23m3 0h3m1 0h2m3 0h8m-79 1.32h1m7 0h3m4 0h2m1 0h4m10 0h2m3 0h5m11 0h3m3 0h3m12 0h1m2 0h2m-78 1.31h1m4 0h1m3 0h1m5 0h2m2 0h2m1 0h1m1 0h1m12 0h1m5 0h1m4 0h7m6 0h1m2 0h1m13 0h0.1m-68.1 1.32h1m1 0h4m8 0h1m53 0h0.1m-53.1 1.32h3m3 0h1m-33 1.32h6m1 0h5m2 0h1m5 0h1m7 0h1m3 0h4m2 0h2m8 0h1m1 0h8m1 0h3m1 0h7m4 0h5.1m-78.1 1.32h1m1 0h6m1 0h2m1 0h6m1 0h10m1 0h1m3 0h1m2 0h1m2 0h2m3 0h27m2 0h4.1m-53.1 1.31h1m17 0h1m30 0h1m3 0h0.1m-79.1 1.32h2m29 0h1m11 0h3m27 0h6m-39 1.32h2m-42 1.32h1m11 0h1m5 0h2m9 0h6m11 0h6m4 0h4m1 0h1m10 0h1m1 0h1m2 0h1m-78 1.32h1m1 0h2m16 0h4m7 0h4m7 0h12m2 0h2m13 0h3m1 0h4.1m-77.1 1.31h2m8 0h18m1 0h2m4 0h5m2 0h3m3 0h1m4 0h13m3 0h5m-76 1.32h1m4 0h4m2 0h5m3 0h4m8 0h1m6 0h1m3 0h1m8 0h1m2 0h2m5 0h4m3 0h6m5 0h0.1m-76.1 1.32h6m1 0h4m1 0h8m3 0h1m1 0h5m2 0h3m1 0h5m2 0h8m1 0h10m2 0h1m3 0h5m3 0h0.1m-79.1 1.32h1m1 0h11m2 0h1m3 0h2m5 0h4m7 0h1m1 0h1m1 0h1m1 0h2m1 0h1m4 0h1m2 0h1m5 0h4m1 0h2m6 0h1m5 0h0.1m-75.1 1.32h3m3 0h3m4 0h2m3 0h2m7 0h9m1 0h3m7 0h2m1 0h6m6 0h2m1 0h7m1 0h2.1m-74.1 1.31h18m4 0h1m1 0h5m1 0h3m1 0h9m4 0h7m2 0h7m1 0h2m2 0h1m1 0h2m-74 1.32h4m1 0h2m2 0h3m8 0h15m3 0h3m1 0h8m1 0h2m6 0h3m3 0h3m3 0h5.1m-77.1 1.32h2m19 0h3m4 0h1m7 0h5m6 0h5m3 0h3m2 0h5m4 0h4m-75 1.32h3m3 0h1m13 0h4m14 0h3m2 0h1m4 0h1m4 0h1m3 0h6m10 0h1m1 0h4.1m-74.1 1.32h1m15 0h5m6 0h3m6 0h1m1 0h2m12 0h7m6 0h1m4 0h3m-74 1.31h3m3 0h10m2 0h8m1 0h4m3 0h5m1 0h1m2 0h2m2 0h1m1 0h5m2 0h1m2 0h1m6 0h1m4 0h3m-72 1.32h4m8 0h4m1 0h2m3 0h4m7 0h8m1 0h2m4 0h4m1 0h12m3 0h1m1 0h3m-74 1.32h11m2 0h10m2 0h1m3 0h3m7 0h1m4 0h9m5 0h4m1 0h1m-68 1.32h1m2 0h16m3 0h2m2 0h2m1 0h8m2 0h5m1 0h2m3 0h9m4 0h1m1 0h1m2 0h3m5 0h2.1m-78.1 1.32h4m9 0h1m4 0h5m5 0h1m2 0h1m1 0h1m5 0h1m2 0h1m1 0h4m8 0h5m2 0h12m1 0h2.1m-69.1 1.31h6m1 0h8m6 0h2m2 0h1m7 0h5m1 0h3m6 0h2m1 0h1m4 0h2m6 0h5.1m-72.1 1.32h6m6 0h1m5 0h6m1 0h3m3 0h5m1 0h8m1 0h1m4 0h14m3 0h4.1m-77.1 1.32h1m11 0h5m5 0h4m6 0h1m1 0h4m3 0h5m3 0h7m5 0h2m1 0h7m1 0h5.1m-77.1 1.32h3m2 0h8m3 0h1m6 0h5m4 0h1m5 0h1m1 0h3m3 0h7m1 0h4m3 0h2m1 0h1m9 0h1m-76 1.32h1m1 0h1m4 0h12m4 0h2m2 0h3m6 0h2m1 0h5m8 0h4m1 0h2m10 0h2m3 0h1m3 0h0.1m-74.1 1.31h1m2 0h7m3 0h3m3 0h2m2 0h9m5 0h2m2 0h2m2 0h5m10 0h5m1 0h8.1m-79.1 1.32h3m6 0h6m15 0h2m14 0h1m4 0h19m3 0h5m1 0h0.1m-72.1 1.32h2m3 0h3m3 0h1m2 0h1m5 0h3m4 0h2m4 0h7m1 0h4m1 0h2m18 0h1m-69 1.32h4m5 0h3m11 0h2m2 0h1m8 0h5m2 0h1m1 0h7m12 0h1m2 0h3m2 0h1m-78 1.32h20m1 0h7m1 0h2m4 0h1m3 0h2m2 0h3m11 0h2m3 0h4m6 0h2m4 0h1.1m-74.1 1.31h3m6 0h1m4 0h1m4 0h1m6 0h7m4 0h2m10 0h1m13 0h6m4 0h1m-77 1.32h3m1 0h8m21 0h1m10 0h1m7 0h3m3 0h2m2 0h5m1 0h9m-77 1.32h3m2 0h2m2 0h4m2 0h7m1 0h1m3 0h13m2 0h1m3 0h1m5 0h3m4 0h3m2 0h2m3 0h1m1 0h1m2 0h1m2 0h0.1m-70.1 1.32h1m7 0h5m1 0h4m10 0h3m2 0h5m5 0h12m-64 1.31h8m10 0h3m1 0h2m6 0h1m3 0h3m12 0h2m3 0h3m6 0h3m5 0h7m1 0h0.1m-79.1 1.32h4m3 0h1m3 0h6m4 0h4m2 0h2m7 0h5m6 0h1m4 0h3m12 0h6m4 0h2m-79 1.32h3m3 0h7m6 0h10m1 0h9m1 0h7m4 0h2m5 0h2m3 0h13"/>
<path stroke="#281664" stroke-width="1.318" shape-rendering="crispEdges" d="M259.7 73.06h1m12 0h1m20 0h8m11 0h3m21 0h1m-75 1.32h1m7 0h2m7 0h1m11 0h4m14 0h1m1 0h1m5 0h1m7 0h8m-74 1.32h3m1 0h3m30 0h1m38 0h1m-63 1.31h1m15 0h4m39 0h1m3 0h2.1m-70.1 1.32h2m62 0h1m1 0h2m-77 1.32h2m3 0h3m13 0h1m3 0h1m5 0h2m2 0h1m10 0h1m18 0h3m6 0h1m3 0h1m-79 1.32h3m11 0h1m13 0h2m5 0h1m23 0h2m9 0h1m8 0h0.1m-78.1 1.32h7m4 0h3m2 0h1m4 0h10m2 0h3m5 0h1m1 0h9m3 0h3m12 0h3m2 0h1m-77 1.31h1m1 0h1m9 0h4m8 0h1m1 0h7m2 0h3m1 0h3m1 0h1m1 0h1m10 0h6m4 0h13m-76 1.32h1m5 0h1m2 0h1m4 0h7m35 0h1m4 0h2m4 0h9m-75 1.32h3m36 0h1m4 0h4m3 0h1m5 0h1m11 0h6.1m-66.1 1.32h1m4 0h2m1 0h1m25 0h1m1 0h1m8 0h1m11 0h4m-72 1.32h1m6 0h1m23 0h2m10 0h1m-44 1.31h1m12 0h5m17 0h1m11 0h4m2 0h3m1 0h9m2 0h5m1 0h3m-77 1.32h2m15 0h4m9 0h3m16 0h2m6 0h1m8 0h1m1 0h3m-60 1.32h1m1 0h1m8 0h1m1 0h1m15 0h1m2 0h1m1 0h1m3 0h2m5 0h1m3 0h4m5 0h2m2 0h4.1m-78.1 1.32h2m1 0h2m7 0h5m2 0h9m6 0h7m1 0h3m6 0h4m4 0h1m1 0h4m1 0h5m1 0h1m1 0h2m-76 1.32h1m5 0h3m1 0h4m2 0h1m1 0h1m10 0h1m6 0h1m3 0h1m12 0h2m12 0h3m3 0h1m-7 1.31h1m10 0h0.1m-75.1 1.32h1m28 0h4m37 0h5m-10 1.32h2m5 0h1m-35 1.32h1m10 0h1m14 0h5m1 0h5m-79 1.32h4m3 0h2m4 0h4m23 0h1m3 0h7m9 0h6m2 0h1m7 0h1m-77 1.31h2m21 0h4m7 0h1m13 0h4m7 0h2m7 0h1m2 0h2m1 0h1m2 0h2.1m-79.1 1.32h2m5 0h1m7 0h8m15 0h3m3 0h1m8 0h1m11 0h3m5 0h1m-70 1.32h3m3 0h8m1 0h4m9 0h6m5 0h1m1 0h1m1 0h2m5 0h2m11 0h4m4 0h4.1m-76.1 1.32h3m2 0h12m5 0h1m3 0h9m3 0h2m4 0h1m1 0h4m1 0h3m6 0h10m1 0h1m-75 1.32h5m1 0h14m6 0h6m3 0h6m1 0h1m2 0h6m4 0h2m16 0h1m4 0h1m-12 3.95h1m-30 1.32h2m33 0h4m-77 1.32h1m5 0h1m5 0h2m4 0h1m14 0h1m1 0h5m1 0h2m6 0h6m7 0h2m12 0h1m-77 1.31h2m14 0h1m16 0h1m2 0h7m5 0h1m11 0h1m10 0h3m-71 1.32h1m9 0h3m15 0h1m3 0h3m5 0h1m29 0h2m-75 1.32h2m1 0h4m1 0h4m1 0h1m14 0h6m1 0h1m5 0h2m7 0h1m7 0h5m2 0h1m7 0h1m-74 1.32h2m3 0h2m8 0h2m2 0h1m1 0h4m6 0h3m5 0h1m5 0h3m7 0h1m5 0h2m8 0h5m2 0h1.1m-79.1 1.32h1m3 0h4m12 0h3m3 0h2m3 0h6m2 0h1m9 0h4m4 0h1m6 0h6m6 0h2m-78 1.31h4m22 0h1m10 0h5m6 0h1m6 0h10m5 0h1m-68 1.32h2m10 0h1m1 0h2m14 0h5m1 0h1m5 0h1m1 0h4m27 0h1m-73 1.32h1m2 0h1m6 0h2m1 0h1m10 0h4m13 0h1m11 0h13m7 0h0.1m-67.1 1.32h1m17 0h2m6 1.32h1m12 0h1m4 0h1m20 0h1m-77 1.31h4m20 0h3m27 0h3m-27 1.32h4m-35 1.32h2m3 0h1m4 0h1m4 0h2m7 0h1m1 0h3m13 0h2m1 0h3m1 0h3m13 0h1m2 0h3m1 0h1m1 0h2m1 0h1m-78 1.32h5m5 0h7m5 0h1m4 0h3m34 0h5m1 0h3m1 0h5.1m-71.1 1.31h9m4 0h1m6 0h2m1 0h3m3 0h7m8 0h2m3 0h3m18 0h1m-73 1.32h1m10 0h4m4 0h2m19 0h1m1 0h4m9 0h1m3 0h2m6 0h4m2 0h0.1m-76.1 1.32h3m7 0h6m10 0h1m9 0h1m7 0h2m4 0h5m2 0h3m13 0h3.1"/>
<path stroke="#3e2a9c" stroke-width="1.318" shape-rendering="crispEdges" d="M270.7 82.29h1m50 0h1m12 0h1m-73 1.31h3m12 0h2m2 0h1m10 0h2m7 0h1m20 0h2m-65 1.32h3m1 0h5m1 0h1m13 0h1m1 0h33m1 0h4m2 0h4m-70 1.32h4m3 0h19m3 0h3m1 0h10m1 0h4m4 0h3m1 0h5m1 0h11m-73 3.95h2m1 0h12m5 0h6m1 0h10m1 0h6m1 0h4m4 0h2m3 0h1m9 0h2m-66 1.32h15m4 0h8m4 0h8m3 0h5m2 0h6m1 0h8m1 0h1m9 0h0.1m-79.1 1.32h13m1 0h1m1 0h8m1 0h1m1 0h13m3 0h2m1 0h1m1 0h3m2 0h5m1 0h3m4 0h5m2 0h2m-33 1.32h1m23 0h1m-63 1.32h3m17 0h3m-3 6.59h7m-3 1.31h1m-19 1.32h2m59 0h2m-46 1.32h3m30 0h2m-55 1.32h1m16 0h1m46 1.32h2m-61 10.54h1m6 0h5m11 1.32h4m25 11.86h1m13 0h1m-73 1.32h1m23 0h7m-20 1.31h1m6 0h4m16 0h4m3 0h1m10 1.32h3"/>
</g></g>
<clipPath id="c2"><rect x="259.7" y="140.7" width="79.1" height="14.8"/></clipPath><g clip-path="url(#c2)"><g filter="url(#hb)">
<rect x="258.7" y="139.7" width="81.1" height="16.8" fill="#1a0616"/>
<path stroke="#da161c" stroke-width="1.480" shape-rendering="crispEdges" d="M264.7 141.44h1m3 0h2m1 0h2m2 0h8m2 0h2m1 0h2m9 0h5m2 0h1m3 0h4m1 0h13m5 0h1m2 0h1m1 0h0.1m-76.1 1.48h8m1 0h4m2 0h1m3 0h4m1 0h9m2 0h2m9 0h15m1 0h2m6 0h1m3 0h2.1m-79.1 1.48h7m7 0h7m1 0h9m1 0h1m3 0h2m1 0h1m3 0h4m3 0h2m2 0h7m9 0h2m5 0h2.1m-78.1 1.48h2m4 0h3m2 0h2m5 0h9m9 0h2m1 0h2m2 0h7m12 0h1m12 0h2m-76 1.48h2m1 0h1m4 0h2m2 0h2m2 0h5m1 0h6m2 0h8m2 0h7m4 0h2m2 0h4m5 0h5m1 0h4m-75 1.48h4m10 0h8m2 0h2m4 0h6m1 0h11m1 0h6m2 0h11m-69 1.48h2m4 0h8m7 0h3m1 0h3m2 0h4m4 0h6m1 0h4m4 0h1m6 0h1m3 0h2m4 0h4m-74 1.48h1m1 0h2m4 0h17m2 0h7m1 0h3m5 0h4m1 0h9m1 0h1m1 0h2m3 0h1m9 0h3m-78 1.48h9m2 0h6m4 0h3m5 0h1m2 0h1m8 0h9m13 0h3m1 0h4m6 0h2.1m-78.1 1.48h15m1 0h2m6 0h1m5 0h1m7 0h3m6 0h2m1 0h6m4 0h1m1 0h2m3 0h5m2 0h4.1"/>
<path stroke="#7a0818" stroke-width="1.480" shape-rendering="crispEdges" d="M265.7 141.44h3m2 0h1m13 0h1m5 0h4m2 0h2m6 0h2m2 0h1m19 0h5m1 0h2m-77 1.48h3m14 0h1m1 0h1m1 0h1m4 0h1m9 0h2m2 0h9m15 0h1m2 0h1m6 0h3m-70 1.48h1m1 0h5m17 0h1m1 0h3m2 0h1m2 0h2m9 0h2m7 0h9m2 0h5m-67 1.48h2m2 0h5m9 0h9m14 0h2m2 0h8m3 0h2m1 0h2m4 0h1m2 0h1.1m-79.1 1.48h2m4 0h4m2 0h2m2 0h2m5 0h1m7 0h1m8 0h2m8 0h3m3 0h1m8 0h1m5 0h1m4 0h3.1m-72.1 1.48h2m5 0h1m22 0h1m11 0h1m6 0h2m11 0h3m1 0h6.1m-65.1 1.48h6m14 0h1m9 0h1m4 0h4m3 0h4m1 0h3m2 0h4m-69 1.48h1m2 0h4m17 0h2m7 0h1m3 0h5m14 0h1m13 0h4m3 0h1.1m-70.1 1.48h1m7 0h4m3 0h1m2 0h2m1 0h1m2 0h5m1 0h2m9 0h13m3 0h1m4 0h6m-77 1.48h1m18 0h6m2 0h4m1 0h7m3 0h6m2 0h1m6 0h4m5 0h2m5 0h1"/>
<path stroke="#180414" stroke-width="1.480" shape-rendering="crispEdges" d="M259.7 141.44h5m9 0h2m8 0h1m3 0h1m6 0h2m2 0h1m8 0h1m1 0h1m4 0h1m22 0h1m-68 1.48h1m4 0h1m3 0h1m47 0h5m-65 1.48h1m12 0h1m18 0h1m6 0h3m-50 1.48h1m2 0h4m32 0h1m2 0h2m9 0h2m9 0h2m2 0h1m2 0h4m-71 1.48h1m25 0h1m18 0h1m5 0h1m5 0h4m-65 1.48h1m4 0h2m2 0h5m9 0h2m2 0h4m41 0h1m-71 1.48h4m14 0h1m3 0h1m3 0h2m5 0h3m16 0h2m18 0h5.1m-32.1 1.48h1m11 0h1m2 0h3m1 0h5m-61 1.48h1m14 0h2m4 0h1m6 0h1m-23 1.48h1m9 0h1m35 0h1m2 0h1m8 0h1"/>
</g></g>
<clipPath id="c3"><rect x="341.2" y="72.4" width="119.3" height="65.9"/></clipPath><g clip-path="url(#c3)"><g filter="url(#hb)">
<rect x="340.2" y="71.4" width="121.3" height="67.9" fill="#1a0616"/>
<path stroke="#da161c" stroke-width="1.318" shape-rendering="crispEdges" d="M450.2 73.06h1m2 0h1m3 0h1m-16 1.32h3m10 1.32h1m-12 1.31h2m2 0h1m2 0h1m-10 1.32h1m1 0h1m8 0h3m1 0h1m1 0h1m-116 1.32h5m2 0h1m6 0h1m3 0h7m1 0h2m2 0h11m61 0h1m7 0h4m-116 1.32h2m6 0h1m3 0h2m2 0h4m5 0h2m2 0h10m5 0h2m56 0h1m1 0h2m9 0h1m-16 1.32h2m4 0h1m5 0h1m-111 1.31h1m1 0h1m6 0h1m1 0h3m5 0h2m2 0h10m1 0h5m1 0h5m5 0h1m48 0h1m2 0h1m3 0h1m1 0h2m-113 1.32h1m10 0h2m3 0h1m1 0h7m1 0h1m6 0h1m1 0h4m1 0h4m1 0h1m1 0h4m5 0h2m1 0h1m1 0h6m46 1.32h1m4 0h1.3m-14.3 1.32h1m6 0h1m-9 2.63h1m1 0h1m-97 1.32h1m36 0h3m2 0h4m2 0h1m1 0h9m5 0h3m3 0h4m4 0h2m6 0h1m16 0h3m2 0h1.3m-110.3 1.32h1m13 0h1m18 0h1m11 0h1m2 0h5m5 0h2m3 0h5m2 0h1m3 0h9m2 0h10m2 0h1m6 0h1m5 0h0.3m-103.3 1.32h2m22 0h1m1 0h1m1 0h4m1 0h2m1 0h4m3 0h6m22 0h3m6 0h2m7 0h1m-97 1.32h1m2 0h1m30 0h9m1 0h1m3 0h14m11 0h1m4 0h1m16 0h1m13 0h1.3m-18.3 1.31h1m-2 2.64h1m2 0h1m2 0h1m-7 1.32h1m4 0h1m11 0h1m-12 1.32h1m7 1.31h1m-111 1.32h1m98 0h3m1 0h1m8 0h1m2 0h0.3m-91.3 1.32h1m59 0h1m13 0h1m0 1.32h1m6 0h2m-1 1.32h1m-12 1.31h1m4 0h1m-5 1.32h3m2 0h2m1 1.32h1m-9 1.32h2m6 0h1m4 0h1m-115 1.32h4m1 0h3m6 0h18m3 0h2m67 0h1m3 0h1m-106 1.31h1m6 0h1m1 0h1m4 0h6m1 0h4m3 0h4m4 0h2m62 0h1m5 0h1m4 0h1m2 0h1m-113 1.32h1m9 0h1m2 0h22m2 0h1m9 0h8m55 0h1m-13 1.32h1m9 0h1m-99 1.32h1m39 0h1m1 0h2m1 0h3m9 0h2m5 0h2m8 0h1m1 0h3m2 0h1m1 0h3m9 0h1m-61 1.32h6m2 0h3m1 0h2m9 0h11m4 0h2m4 0h4m1 0h2m10 0h1m-76 1.31h3m2 0h1m13 0h4m2 0h1m17 0h12m1 0h2m22 0h1m-10 1.32h3m-9 1.32h1m1 0h1m2 0h4m8 0h1m-13 1.32h2m2 0h1m4 0h1m-3 1.32h2m-115 1.31h1m4 0h8m2 0h3m4 0h28m51 0h2m-102 1.32h2m3 0h3m1 0h1m4 0h7m1 0h1m4 0h5m2 0h6m60 0h1m10 0h1m1 0h1m-13 1.32h2m11 0h1m-14 1.32h1m4 0h2m4 0h4m-13 1.31h1m5 1.32h2"/>
<path stroke="#7a0818" stroke-width="1.318" shape-rendering="crispEdges" d="M343.2 73.06h2m19 0h2m2 0h1m9 0h3m30 0h1m6 0h5m6 0h2m15 0h1m8 0h1m4 0h0.3m-116.3 1.32h2m55 0h1m1 0h3m28 0h3m12 0h1m1 0h2m1 0h2m1 0h1m1 0h1m-95 1.32h3m12 0h3m46 0h1m14 0h1m2 0h3m7 0h1m1 0h1m-110 1.31h4m41 0h3m19 0h2m28 0h1m8 0h1m-116 1.32h1m21 0h1m1 0h2m2 0h1m3 0h1m12 0h1m2 0h3m14 0h5m1 0h5m24 0h1m9 0h2m-112 1.32h3m8 0h3m2 0h1m1 0h3m7 0h1m2 0h2m11 0h1m32 0h1m9 0h1m9 0h1m6 0h1m2 0h2m8 0h1m1 0h0.3m-119.3 1.32h1m2 0h6m1 0h3m10 0h3m14 0h1m6 0h2m8 0h6m8 0h1m2 0h1m4 0h3m3 0h1m5 0h3m1 0h3m10 0h1m2 0h3m-109 1.32h3m6 0h1m6 0h3m6 0h2m15 0h1m28 0h1m1 0h2m1 0h1m9 0h2m4 0h1m5 0h2m14 0h0.3m-119.3 1.31h1m1 0h1m3 0h6m7 0h3m3 0h1m16 0h1m5 0h2m1 0h1m4 0h1m1 0h2m4 0h6m6 0h1m13 0h2m1 0h2m2 0h1m2 0h1m9 0h1m4 0h4m-118 1.32h7m2 0h1m3 0h2m9 0h1m1 0h2m1 0h3m1 0h1m9 0h1m1 0h1m4 0h2m1 0h2m4 0h1m6 0h8m1 0h5m1 0h4m4 0h2m5 0h13m2 0h1m-108 1.32h1m4 0h2m2 0h5m8 0h1m74 0h6m6 0h1m-103 1.32h1m14 0h1m6 0h1m4 0h6m20 0h1m3 0h2m10 0h2m18 0h1m1 0h1m15 0h0.3m-117.3 1.32h3m13 0h1m7 0h1m2 0h2m4 0h2m35 0h3m15 0h3m11 0h1m3 0h1m4 0h1m3 0h1m-104 1.31h3m18 0h1m50 0h1m7 0h1m10 0h1m6 0h3m4 0h0.3m-108.3 1.32h7m7 0h2m1 0h1m1 0h3m6 0h3m8 0h2m5 0h1m1 0h1m9 0h2m6 0h1m6 0h4m2 0h2m5 0h7m-104 1.32h3m4 0h1m3 0h2m1 0h4m2 0h3m1 0h4m1 0h4m1 0h4m1 0h1m3 0h6m1 0h3m9 0h1m6 0h3m6 0h1m1 0h1m12 0h1m11 0h1m8 0h5m-119 1.32h4m6 0h3m1 0h1m3 0h3m1 0h5m1 0h6m4 0h2m1 0h1m1 0h1m4 0h1m2 0h1m4 0h2m8 0h4m5 0h5m3 0h4m7 0h2m2 0h3m3 0h1m10 0h1m1 0h1m-117 1.32h8m4 0h1m13 0h1m13 0h2m12 0h2m14 0h2m4 0h5m3 0h2m6 0h1m2 0h3m3 0h1m2 0h1m2 0h1m3 0h1m3 0h1m-68 1.31h6m5 0h3m21 0h1m2 0h1m15 0h6m2 0h1m1 0h3m2 0h1.3m-107.3 1.32h1m17 0h1m8 0h1m47 0h2m11 0h2m6 0h2m1 0h1m5 0h1m1 0h0.3m-119.3 1.32h1m87 0h2m23 0h1m2 0h3m-18 1.32h1m8 0h1m1 0h3m3 0h1m-39 1.32h2m16 0h3m12 0h1m2 0h1m-114 1.31h1m10 0h1m1 0h6m1 0h1m16 0h3m2 0h1m5 0h2m4 0h1m2 0h2m1 0h12m3 0h3m1 0h1m1 0h1m1 0h1m1 0h7m7 0h2m3 0h2m1 0h4m3 0h2.3m-112.3 1.32h2m1 0h1m1 0h4m2 0h9m2 0h3m2 0h6m5 0h2m3 0h1m1 0h1m9 0h4m1 0h1m2 0h1m12 0h9m10 0h1m6 0h2m1 0h1m-113 1.32h1m6 0h1m1 0h11m1 0h2m8 0h1m3 0h1m4 0h1m3 0h2m2 0h5m9 0h4m4 0h3m5 0h8m1 0h1m5 0h3m5 0h1m9 0h2m2 0h1m3 0h0.3m-119.3 1.32h1m7 0h2m14 0h1m23 0h1m7 0h2m22 0h2m5 0h3m7 0h1m4 0h1m6 0h1m6 0h1m1 0h1m-56 1.32h1m25 0h2m16 0h1m9 0h1m-105 1.31h1m6 0h1m4 0h3m82 0h1m5 0h1m1 0h1.3m-109.3 1.32h1m1 0h10m3 0h3m4 0h2m50 0h5m4 0h1m14 0h1m6 0h1m-23 1.32h5m3 0h1m4 0h2m2 0h1m2 0h1m4 0h1.3m-116.3 1.32h1m96 0h1m15 0h1m2 0h0.3m-115.3 1.32h1m3 0h6m20 0h1m3 0h15m1 0h7m11 0h1m23 0h1m6 0h1m1 0h3m6 0h1m-115 1.31h3m1 0h6m1 0h1m2 0h3m6 0h1m4 0h3m11 0h4m3 0h1m1 0h3m11 0h3m7 0h1m5 0h2m4 0h5m13 0h3m11 0h0.3m-119.3 1.32h5m3 0h7m1 0h2m22 0h2m1 0h2m1 0h2m2 0h2m13 0h1m17 0h1m8 0h2m11 0h2m10 0h2m-119 1.32h2m13 0h2m3 0h1m12 0h3m10 0h5m1 0h2m12 0h5m10 0h6m7 0h1m20 0h1m2 0h1m-119 1.32h5m1 0h2m4 0h1m1 0h1m7 0h2m6 0h3m8 0h2m1 0h1m1 0h9m1 0h1m2 0h1m3 0h8m3 0h4m3 0h8m1 0h1m3 0h2m7 0h5m3 0h1m2 0h3m-110 1.32h3m2 0h3m7 0h6m1 0h1m5 0h1m4 0h4m5 0h1m14 0h1m1 0h7m11 0h4m2 0h4m4 0h1m8 0h1m8 0h2m1 0h0.3m-119.3 1.31h1m2 0h1m7 0h2m5 0h12m5 0h1m3 0h2m4 0h2m7 0h1m7 0h9m3 0h5m12 0h1m5 0h5m1 0h1m6 0h2m2 0h1m4 0h0.3m-119.3 1.32h1m11 0h1m6 0h2m40 0h1m5 0h1m15 0h3m7 0h1m16 0h1m2 0h4m-114 1.32h6m95 0h2m4 0h1m2 0h2m-97 1.32h2m14 0h3m37 0h3m14 0h5m13 0h1m4 0h1m-89 1.32h1m1 0h1m5 0h5m19 0h1m46 0h1m2 0h4m4 0h3m-118 1.31h4m8 0h2m3 0h4m67 0h1m8 0h1m8 0h2m1 0h1m2 0h1m3 0h1m-118 1.32h1m3 0h1m17 0h1m1 0h4m5 0h1m8 0h4m2 0h4m1 0h2m6 0h3m3 0h2m12 0h1m20 0h1m2 0h4m4 0h1m2 0h1m2 0h0.3m-119.3 1.32h4m11 0h1m19 0h1m8 0h1m2 0h1m21 0h1m14 0h4m7 0h1m4 0h2m6 0h7m-92 1.32h1m3 0h5m10 0h2m4 0h1m16 0h2m34 0h1m8 0h1m-102 1.31h3m21 0h2m3 0h3m4 0h3m36 0h1m2 0h1m4 0h2m3 0h2m7 0h1m2 0h3m2 0h2m1 0h1m-109 1.32h2m27 0h2m9 0h5m41 0h1m12 0h2m4 0h1m-104 1.32h1m27 0h2m64 0h1m1 0h1m3 0h1m2 0h1m2 0h1"/>
<path stroke="#180414" stroke-width="1.318" shape-rendering="crispEdges" d="M341.2 73.06h1m4 0h15m8 0h3m9 0h9m7 0h2m7 0h2m8 0h1m6 0h2m6 0h3m2 0h6m1 0h2m2 0h3m1 0h1m2 0h1m4 0h1m-119 1.32h1m1 0h1m3 0h14m1 0h5m3 0h1m3 0h13m5 0h4m2 0h3m1 0h1m16 0h3m1 0h2m2 0h1m11 0h3m6 0h1m4 0h1m-112 1.32h1m1 0h1m1 0h4m4 0h1m9 0h1m3 0h3m12 0h4m2 0h1m1 0h1m1 0h13m2 0h2m1 0h4m1 0h4m1 0h1m1 0h1m4 0h1m1 0h2m8 0h3m11 0h1m5 0h0.3m-118.3 1.31h6m6 0h5m11 0h2m2 0h1m3 0h6m2 0h3m1 0h5m3 0h4m2 0h2m2 0h1m4 0h2m1 0h1m5 0h5m3 0h5m2 0h6m15 0h2.3m-118.3 1.32h4m1 0h3m1 0h12m1 0h1m2 0h1m2 0h3m1 0h9m10 0h10m15 0h1m1 0h4m5 0h8m2 0h2m6 0h2m-100 1.32h2m4 0h2m29 0h4m5 0h1m5 0h7m11 0h9m1 0h1m9 0h2m1 0h1m4 0h1m2 0h1m8 0h1m-104 1.32h2m4 0h2m5 0h2m11 0h4m4 0h4m11 0h1m5 0h1m2 0h1m1 0h4m4 0h2m4 0h2m7 0h5m15 0h1.3m-119.3 1.32h4m9 0h1m1 0h6m7 0h2m2 0h5m11 0h2m1 0h1m1 0h12m2 0h1m2 0h4m3 0h1m2 0h1m2 0h1m3 0h4m2 0h3m2 0h3m4 0h1m5 0h1m2 0h1m2 0h1m-117 1.31h1m2 0h1m8 0h1m3 0h2m5 0h1m11 0h1m13 0h1m1 0h1m1 0h2m1 0h1m12 0h6m1 0h13m2 0h1m2 0h2m1 0h2m1 0h1m1 0h2m2 0h2m4 0h2m4 0h0.3m-111.3 1.32h2m3 0h1m3 0h1m11 0h1m9 0h1m18 0h1m16 0h1m5 0h1m4 0h4m2 0h5m14 0h1m1 0h3m-116 1.32h2m4 0h4m2 0h2m6 0h4m2 0h1m2 0h2m2 0h7m1 0h3m3 0h1m1 0h5m4 0h1m1 0h1m2 0h4m7 0h4m2 0h13m1 0h7m7 0h2m-110 1.32h4m4 0h1m2 0h1m1 0h7m2 0h1m1 0h1m1 0h1m1 0h2m15 0h3m13 0h3m2 0h3m3 0h5m6 0h11m5 0h1m8 0h4m3 0h1m1 0h2m-119 1.32h2m3 0h4m1 0h1m6 0h1m1 0h2m1 0h4m1 0h2m8 0h12m3 0h1m7 0h7m8 0h1m8 0h1m2 0h3m3 0h2m16 0h1m-111 1.31h2m2 0h6m9 0h4m5 0h1m7 0h9m1 0h3m1 0h1m12 0h1m1 0h9m5 0h1m1 0h4m2 0h1m7 0h1m6 0h1m3 0h3m-110 1.32h2m1 0h1m3 0h3m10 0h5m2 0h1m1 0h1m6 0h3m3 0h5m9 0h1m14 0h3m4 0h2m12 0h4m14 0h1m-108 1.32h4m1 0h1m1 0h1m2 0h1m4 0h2m8 0h1m4 0h1m4 0h1m1 0h2m11 0h1m1 0h2m6 0h4m10 0h1m3 0h2m9 0h1m15 0h1m1 0h2m-107 1.32h5m3 0h1m1 0h1m11 0h1m6 0h4m20 0h1m6 0h1m6 0h3m5 0h3m7 0h4m8 0h2m3 0h1m-108 1.32h1m9 0h2m2 0h13m1 0h13m11 0h1m1 0h1m18 0h4m6 0h2m4 0h4m1 0h2m3 0h2m6 0h1m1 0h2m4 0h1m1 0h1m-118 1.31h6m10 0h1m17 0h3m4 0h2m5 0h1m6 0h3m12 0h8m3 0h3m1 0h2m1 0h9m1 0h1m11 0h1m5 0h2m-118 1.32h3m2 0h6m3 0h1m13 0h2m5 0h1m1 0h1m4 0h3m2 0h3m4 0h2m6 0h1m5 0h1m1 0h4m2 0h4m2 0h2m1 0h2m4 0h6m5 0h2m8 0h1m2 0h1m-115 1.32h1m4 0h8m41 0h1m34 0h4m8 0h1m9 0h1m-110 1.32h1m6 0h1m3 0h1m1 0h1m1 0h1m43 0h2m17 0h4m1 0h1m4 0h3m3 0h2m4 0h1m3 0h3m5 0h2m-116 1.32h2m1 0h4m1 0h2m4 0h6m27 0h1m39 0h1m1 0h2m9 0h3m11 0h1m1 0h1m-118 1.31h3m1 0h10m1 0h1m6 0h1m1 0h16m4 0h1m1 0h5m2 0h4m1 0h2m2 0h1m12 0h3m3 0h1m1 0h1m1 0h1m1 0h1m10 0h2m1 0h1m3 0h1m3 0h1m5 0h1m-116 1.32h4m1 0h2m2 0h1m1 0h1m4 0h2m9 0h2m3 0h2m6 0h5m2 0h3m1 0h1m1 0h9m4 0h1m1 0h2m1 0h5m3 0h4m9 0h1m5 0h4m6 0h1m2 0h1m3 0h1m2 0h1m-118 1.32h6m1 0h1m11 0h1m2 0h5m1 0h1m2 0h3m1 0h4m1 0h3m2 0h2m5 0h4m4 0h1m4 0h4m3 0h1m3 0h1m8 0h1m19 0h1m7 0h1m-114 1.32h1m8 0h4m3 0h7m1 0h1m1 0h4m1 0h4m2 0h3m5 0h2m1 0h1m8 0h8m3 0h3m13 0h1m7 0h4m1 0h2m5 0h1m9 0h1m1 0h1m-118 1.32h1m10 0h5m1 0h2m6 0h6m2 0h2m1 0h6m1 0h10m5 0h4m2 0h4m4 0h4m3 0h4m8 0h7m1 0h1m16 0h1m-109 1.31h1m6 0h5m1 0h4m6 0h10m6 0h8m4 0h9m2 0h2m10 0h1m1 0h10m1 0h1m1 0h1m1 0h1m3 0h1m7 0h1m5 0h1m-118 1.32h1m10 0h1m16 0h4m2 0h2m1 0h1m17 0h4m12 0h13m6 0h2m3 0h6m3 0h1m-105 1.32h9m3 0h1m14 0h3m16 0h2m6 0h2m29 0h1m5 0h2m5 0h3m10 0h1m-112 1.32h2m3 0h10m5 0h1m1 0h2m3 0h4m61 0h3m10 0h4m1 0h1m7 0h1m-87 1.32h2m3 0h1m15 0h1m7 0h1m1 0h4m4 0h1m1 0h2m3 0h3m4 0h6m1 0h4m3 0h4m9 0h1m-100 1.31h1m21 0h4m2 0h1m4 0h3m1 0h1m3 0h8m2 0h1m5 0h3m3 0h3m4 0h1m1 0h2m5 0h1m1 0h2m1 0h2m9 0h1m1 0h1m2 0h1m4 0h1m-113 1.32h2m37 0h1m2 0h1m11 0h5m1 0h1m2 0h1m3 0h1m3 0h2m7 0h2m2 0h2m3 0h2m10 0h1m1 0h2m1 0h2m-112 1.32h8m1 0h4m7 0h9m1 0h1m3 0h9m6 0h1m2 0h2m1 0h2m5 0h2m6 0h1m3 0h1m1 0h3m8 0h5m1 0h5m1 0h2m2 0h1m8 0h1m-107 1.32h4m1 0h1m2 0h6m2 0h6m4 0h7m2 0h1m1 0h1m25 0h1m6 0h1m18 0h1m3 0h2m14 0h2m-119 1.32h7m3 0h2m3 0h1m2 0h4m8 0h5m1 0h4m4 0h5m7 0h2m3 0h1m3 0h1m35 0h1m1 0h4m1 0h3m-110 1.31h2m1 0h7m2 0h5m12 0h5m7 0h3m2 0h7m5 0h2m10 0h3m20 0h3m5 0h1m2 0h1m6 0h2m-113 1.32h2m1 0h4m2 0h1m2 0h2m7 0h2m4 0h6m1 0h1m1 0h1m7 0h2m4 0h1m5 0h1m7 0h2m1 0h4m4 0h3m7 0h2m1 0h1m1 0h2m4 0h5m2 0h2m5 0h2m-113 1.32h2m7 0h7m4 0h1m5 0h1m2 0h1m1 0h2m1 0h1m8 0h1m2 0h1m2 0h2m7 0h4m7 0h5m6 0h2m2 0h2m2 0h2m2 0h2m2 0h3m13 0h1m4 0h1m1 0h0.3m-119.3 1.32h2m1 0h4m9 0h2m5 0h1m9 0h1m3 0h1m2 0h1m5 0h1m1 0h15m15 0h3m1 0h5m1 0h2m6 0h10m2 0h1m4 0h1m-114 1.32h1m1 0h2m1 0h2m4 0h1m1 0h5m3 0h5m1 0h1m3 0h1m7 0h1m4 0h13m6 0h2m3 0h1m1 0h8m2 0h3m2 0h1m1 0h6m1 0h1m1 0h9m2 0h1m-52 1.31h6m12 0h1m3 0h8m2 0h1m1 0h8m1 0h1m6 0h1m7 0h3m2 0h0.3m-116.3 1.32h1m1 0h1m3 0h1m1 0h4m19 0h1m6 0h1m4 0h2m4 0h1m2 0h6m3 0h1m4 0h2m3 0h4m1 0h2m7 0h2m2 0h3m3 0h1m10 0h1m5 0h1m-112 1.32h1m1 0h4m4 0h1m3 0h5m1 0h1m2 0h6m1 0h1m1 0h1m11 0h4m1 0h2m6 0h2m19 0h2m4 0h6m2 0h2m18 0h1m-117 1.32h14m2 0h5m4 0h2m7 0h1m4 0h3m2 0h2m10 0h1m2 0h3m2 0h1m2 0h1m2 0h3m8 0h1m2 0h3m2 0h5m2 0h4m11 0h1m5 0h1m-93 1.31h5m6 0h2m3 0h3m13 0h1m1 0h1m2 0h6m11 0h2m5 0h1m1 0h3m4 0h1m4 0h1m2 0h1m1 0h1m10 0h1m1 0h1m-104 1.32h5m9 0h3m1 0h1m7 0h2m1 0h3m9 0h3m1 0h3m5 0h4m2 0h2m5 0h1m2 0h1m7 0h3m3 0h1m1 0h4m1 0h1m10 0h1m-108 1.32h2m4 0h8m6 0h10m6 0h2m1 0h1m3 0h7m2 0h10m4 0h7m2 0h1m2 0h3m4 0h1m2 0h3m6 0h1m2 0h1m3 0h1m1 0h1"/>
<path stroke="#281664" stroke-width="1.318" shape-rendering="crispEdges" d="M342.2 73.06h1m2 0h1m15 0h3m2 0h2m4 0h6m12 0h4m5 0h7m2 0h3m4 0h1m1 0h1m16 0h2m6 0h1m2 0h1m6 0h1m3 0h1m-115 1.32h1m3 0h1m14 0h1m5 0h3m1 0h3m13 0h1m3 0h1m4 0h2m8 0h13m3 0h1m2 0h2m1 0h6m3 0h2m11 0h1m5 0h1m1 0h1m1 0h0.3m-119.3 1.32h1m1 0h1m1 0h1m4 0h4m1 0h9m7 0h9m7 0h2m1 0h1m1 0h1m13 0h2m2 0h1m4 0h1m4 0h1m1 0h1m1 0h4m4 0h1m1 0h6m5 0h1m4 0h1m5 0h1m1 0h1m-118 1.31h1m6 0h2m9 0h11m2 0h2m1 0h3m6 0h2m3 0h1m12 0h2m2 0h2m1 0h4m2 0h1m3 0h3m5 0h1m7 0h2m9 0h1m5 0h4m-110 1.32h1m3 0h1m17 0h1m14 0h3m1 0h2m3 0h1m10 0h3m5 0h1m5 0h1m1 0h1m4 0h5m8 0h2m4 0h1m1 0h1m3 0h2m5 0h1m1 0h1m-69 1.32h5m1 0h5m7 0h10m12 0h8m5 0h2m6 0h3m-60 1.32h4m6 0h1m1 0h5m2 0h1m9 0h1m3 0h3m5 0h1m20 0h1m1 0h1m-114 1.32h1m3 0h5m11 0h4m9 0h10m3 0h1m1 0h1m12 0h2m1 0h2m4 0h2m6 0h1m1 0h3m9 0h1m9 0h1m1 0h3m4 0h2m-57 1.31h4m-11 1.32h1m62 0h1m2 0h0.3m-117.3 1.32h3m14 0h1m4 0h2m2 0h1m2 0h2m7 0h1m3 0h3m1 0h1m5 0h4m1 0h1m1 0h2m4 0h4m2 0h1m4 0h2m13 0h1m16 0h3m-109 1.32h4m1 0h2m9 0h2m1 0h1m1 0h1m4 0h1m1 0h2m1 0h4m9 0h13m3 0h1m6 0h1m5 0h4m13 0h5m3 0h1m1 0h1m1 0h2m5 0h1m2 0h1m-108 1.32h1m1 0h6m4 0h1m9 0h4m14 0h3m1 0h1m4 0h2m7 0h5m4 0h8m1 0h2m8 0h5m2 0h1m2 0h3m1 0h2m1 0h1m5 0h1.3m-119.3 1.31h1m2 0h2m6 0h3m3 0h3m4 0h5m1 0h5m1 0h1m13 0h1m1 0h4m9 0h1m9 0h5m1 0h1m5 0h1m1 0h5m1 0h1m1 0h5m13 0h4m-117 1.32h1m1 0h3m11 0h2m13 0h3m68 0h6m1 0h2m4 0h1m-69 1.32h1m57 0h1m1 0h1m2 0h1m-109 1.32h1m16 0h1m48 0h2m29 0h1m4 0h1m1 0h7m-27 1.32h1m12 0h1m1 0h1m2 0h1m4 0h1m1 0h2m-109 1.31h10m5 0h13m3 0h4m2 0h5m10 0h2m3 0h7m8 0h3m16 0h1m11 0h1m2 0h1m-102 1.32h1m1 0h1m1 0h13m3 0h4m1 0h1m1 0h1m1 0h2m3 0h2m3 0h4m2 0h6m1 0h1m3 0h1m1 0h1m4 0h2m4 0h2m2 0h1m4 0h2m6 0h3m5 0h3m2 0h1m2 0h1m2 0h1m1 0h1m-117 1.32h4m8 0h10m3 0h1m5 0h1m1 0h4m22 0h1m6 0h1m28 0h1m1 0h1m1 0h1m2 0h2m4 0h2m7 0h0.3m-119.3 1.32h3m2 0h5m1 0h3m1 0h1m1 0h1m1 0h1m25 0h1m22 0h1m3 0h4m2 0h1m1 0h1m4 0h1m1 0h1m6 0h3m2 0h1m2 0h1m1 0h1m-105 1.32h1m2 0h1m4 0h1m4 0h2m8 0h1m22 0h2m11 0h1m11 0h3m3 0h1m4 0h6m4 0h6m9 0h3m1 0h1m2 0h1m3 0h1.3m-76.3 1.31h1m51 0h2m3 0h1m5 0h1m-31 1.32h3m14 0h5m8 0h1m-77 1.32h1m26 0h4m13 0h3m12 0h4m3 0h5m4 0h1m1 0h1m9 0h2m-117 1.32h6m6 0h3m9 0h1m4 0h1m4 0h2m3 0h5m4 0h6m10 0h3m3 0h8m2 0h3m1 0h1m3 0h3m8 0h1m5 0h1m5 0h2m4 0h0.3m-118.3 1.32h9m6 0h1m2 0h6m6 0h2m2 0h1m6 0h1m19 0h1m5 0h4m4 0h3m4 0h6m9 0h1m1 0h1m2 0h4m3 0h1m2 0h2m3 0h1.3m-119.3 1.31h8m1 0h4m1 0h1m13 0h3m10 0h6m8 0h4m9 0h2m2 0h10m1 0h1m10 0h1m1 0h1m1 0h1m2 0h2m1 0h1m-104 1.32h9m12 0h3m13 0h17m4 0h12m18 0h1m2 0h1m1 0h1m10 0h1m4 0h4m-105 1.32h1m3 0h12m1 0h1m5 0h2m11 0h1m4 0h1m9 0h1m11 0h4m2 0h3m27 0h1m8 0h1m-116 1.32h1m1 0h1m10 0h5m1 0h1m2 0h3m12 0h4m3 0h1m5 0h2m3 0h1m22 0h5m4 0h3m3 0h1m1 0h3m3 0h2m10 0h1m-54 1.32h1m4 0h4m4 0h2m4 0h4m6 0h1m5 0h2m10 0h2m2 0h1m-52 1.31h2m4 0h2m3 0h2m4 0h2m3 0h1m8 0h1m2 0h1m2 0h4m9 0h1m2 0h2m-68 1.32h1m22 0h1m1 0h3m2 0h4m1 0h2m2 0h2m4 0h1m2 0h4m2 0h2m6 0h1m4 0h1m2 0h0.3m-109.3 1.32h1m6 0h3m1 0h1m9 0h1m13 0h1m10 0h1m2 0h5m7 0h1m1 0h3m1 0h1m9 0h2m11 0h1m3 0h1m1 0h3m1 0h2m7 0h0.3m-114.3 1.32h1m27 0h1m75 0h1m2 0h1m6 0h0.3m-103.3 1.32h2m10 0h1m73 0h1m9 0h4m2 0h1m-15 1.31h1m1 0h3m9 0h1m-111 1.32h2m1 0h1m3 0h4m2 0h1m2 0h4m6 0h1m1 0h1m1 0h7m2 0h4m1 0h5m1 0h3m1 0h3m7 0h4m3 0h4m5 0h1m5 0h3m6 0h1m2 0h1m12 0h0.3m-117.3 1.32h1m13 0h4m1 0h5m1 0h2m1 0h1m2 0h1m1 0h8m1 0h2m1 0h2m2 0h7m4 0h7m5 0h6m2 0h2m2 0h2m2 0h2m2 0h2m4 0h1m1 0h1m8 0h1m3 0h1m-114 1.32h1m4 0h2m6 0h1m4 0h3m1 0h9m6 0h1m1 0h5m1 0h1m15 0h11m7 0h1m5 0h1m24 0h1m3 0h3.3m-118.3 1.32h1m2 0h1m2 0h4m1 0h1m5 0h3m8 0h2m1 0h2m6 0h4m13 0h1m1 0h4m2 0h3m1 0h1m8 0h2m3 0h2m1 0h1m6 0h1m1 0h1m10 0h1m-57 1.31h6m6 0h12m2 0h2m8 0h2m12 0h1m3 0h2m3 0h1m2 0h1m5 0h1m-53 1.32h1m11 0h1m3 0h6m2 0h2m3 0h3m1 0h2m2 0h2m5 0h2m6 0h1m-114 1.32h1m4 0h4m2 0h2m5 0h1m1 0h2m6 0h1m3 0h7m1 0h2m5 0h1m2 0h5m3 0h3m4 0h4m20 0h1m3 0h2m4 0h4m10 0h1m-105 1.32h2m5 0h2m1 0h1m7 0h2m1 0h4m7 0h2m1 0h7m1 0h2m3 0h2m4 0h2m3 0h8m1 0h2m3 0h2m5 0h2m4 0h1m2 0h2m1 0h1m5 0h1m5 0h1m-119 1.31h7m1 0h1m3 0h13m5 0h3m2 0h1m8 0h1m3 0h8m2 0h1m10 0h10m2 0h3m1 0h1m5 0h1m2 0h1m1 0h1m4 0h1m5 0h2m4 0h1m5 0h0.3m-119.3 1.32h9m2 0h4m5 0h9m3 0h1m2 0h3m2 0h1m2 0h1m3 0h2m14 0h5m4 0h2m5 0h2m1 0h2m1 0h7m4 0h2m1 0h1m6 0h2m4 0h1m2 0h1m3 0h0.3m-119.3 1.32h8m4 0h3m8 0h6m12 0h4m2 0h1m1 0h3m19 0h4m7 0h2m1 0h2m3 0h4m1 0h2m6 0h1m4 0h1m9 0h1.3"/>
<path stroke="#3e2a9c" stroke-width="1.318" shape-rendering="crispEdges" d="M394.2 73.06h3m15 0h3m10 0h4m29 0h1m-71 1.32h3m54 0h3m-15 1.32h1m9 0h1m2 0h1m4 0h3m-26 1.31h2m13 0h1m5 0h2m6 0h1m-12 1.32h1m13 0h0.3m-19.3 1.32h1m3 1.32h1m2 0h1m1 0h2m3 0h1m-3 1.32h1m5 0h1m-13 1.31h1m3 1.32h1m6 0h2m-48 1.32h2m28 0h1m13 0h3m-87 1.32h1m68 0h1m13 0h1m-61 1.32h4m42 0h2m1 0h1m10 0h3m-71 1.31h1m9 0h8m38 0h1m7 0h2m4 1.32h1m-13 1.32h1m11 1.32h1m1 0h1.3m-102.3 2.63h4m78 0h2m1 0h1m-100 1.32h2m59 0h3m37 0h1m9 0h1m-91 1.32h3m1 0h5m1 0h1m4 0h16m1 0h5m1 0h6m1 0h19m6 0h3m1 0h1m8 0h3m4 0h2m-112 1.32h1m15 0h25m1 0h16m2 0h4m1 0h3m4 0h2m1 0h1m8 0h3m15 0h1m4 0h1m7 0h0.3m-108.3 1.32h2m8 0h2m1 0h22m3 0h10m1 0h11m3 0h3m1 0h2m9 0h1m14 0h2m4 0h1m1 0h1m-16 1.31h1m6 0h1m11 0h1m-4 1.32h2m2 0h1m-15 1.32h2m3 0h3m2 0h1m2 0h1m-17 1.32h1m3 0h1m1 0h1m1 0h1m3 0h1m-103 1.32h1m42 0h5m43 0h2m5 0h2m2 0h1m2 0h1m-10 1.31h4m2 0h4m-80 1.32h1m72 0h1m4 0h1m1 0h3.3m-109.3 1.32h2m13 0h1m4 0h2m2 0h11m3 0h2m1 0h3m2 0h4m1 0h11m4 0h2m3 0h4m1 0h5m11 0h4m6 0h1m1 0h3m-86 1.32h8m4 0h3m1 0h5m2 0h3m1 0h22m5 0h4m7 0h1m14 0h3m3 0h1m-41 1.32h1m33 0h1m3 0h4.3m-15.3 1.31h1m6 0h1m-45 1.32h2m1 0h2m29 0h2m5 0h1m5 0h1m-6 1.32h1m2 0h1m3 0h2m-10 1.32h1m4 0h1m-5 2.63h1m5 0h1m1 0h1m-115 1.32h1m86 0h1m11 0h1m14 0h2m-20 1.32h1m16 0h1m-108 1.32h6m23 0h1m38 0h1m12 0h1m20 0h1m0 1.32h1m2 0h1m3 0h0.3m-44.3 1.31h1m27 0h1m7 0h1m-47 1.32h1m5 0h3m43 0h1m-58 1.32h1m5 0h3m5 0h8m35 0h1m1 0h0.3m-14.3 1.32h1m3 0h1m9 0h0.3m-112.3 1.31h1m48 0h1m3 0h2m6 0h1m30 0h1m2 0h1m9 0h1m-79 1.32h1m19 0h2m3 0h1m16 0h3m25 0h1m8 0h1m3 0h2m-111 1.32h1m50 0h2m39 0h3m1 0h1m5 0h1m1 0h1m3 0h1"/>
</g></g>
<clipPath id="c4"><rect x="341.2" y="140.7" width="119.3" height="14.8"/></clipPath><g clip-path="url(#c4)"><g filter="url(#hb)">
<rect x="340.2" y="139.7" width="121.3" height="16.8" fill="#1a0616"/>
<path stroke="#180414" stroke-width="1.480" shape-rendering="crispEdges" d="M352.2 141.44h1m60 0h6m6 0h1m4 0h1m16 0h1m-80 1.48h4m9 0h1m5 0h6m15 0h2m-23 1.48h1m17 0h3m5 0h1m24 0h1m2 0h1m9 0h1m5 0h1m-109 1.48h1m3 0h2m20 0h1m16 0h4m-55 1.48h1m20 0h1m1 0h1m12 0h1m8 0h1m8 0h1m35 0h1m2 0h2m-89 1.48h1m52 0h3m3 0h4m23 0h1m16 0h2m-98 1.48h1m27 0h1m13 0h4m7 0h2m23 0h3m17 0h1m-54 1.48h1m3 0h2m29 0h6m-62 1.48h1m16 0h2m1 0h1m8 0h1m42 0h7m-78 1.48h2m24 0h1m9 0h2m2 0h1m21 0h1"/>
<path stroke="#281664" stroke-width="1.480" shape-rendering="crispEdges" d="M344.2 141.44h4m5 0h3m3 0h3m3 0h1m2 0h4m1 0h7m6 0h2m13 0h2m5 0h2m2 0h1m7 0h5m1 0h2m20 0h1m11 0h0.3m-114.3 1.48h1m1 0h4m7 0h7m1 0h1m4 0h9m18 0h6m1 0h2m10 0h6m5 0h5m2 0h3m1 0h3m12 0h5m-116 1.48h3m2 0h1m2 0h2m1 0h16m17 0h1m2 0h8m9 0h5m1 0h5m1 0h10m5 0h3m4 0h7m3 0h4m2 0h2.3m-110.3 1.48h3m2 0h6m8 0h1m4 0h1m2 0h15m4 0h5m4 0h2m3 0h4m2 0h10m7 0h2m2 0h2m2 0h6m1 0h3m5 0h3m-117 1.48h5m1 0h1m6 0h4m1 0h2m3 0h2m9 0h1m1 0h6m12 0h5m6 0h6m2 0h5m5 0h1m7 0h1m3 0h1m4 0h2m1 0h1m4 0h8m2 0h0.3m-114.3 1.48h1m5 0h1m5 0h3m7 0h3m3 0h6m1 0h1m1 0h6m1 0h4m28 0h4m3 0h1m1 0h2m1 0h1m2 0h2m3 0h2m1 0h5m9 0h1.3m-119.3 1.48h1m9 0h2m3 0h1m13 0h2m6 0h1m1 0h2m1 0h1m4 0h2m3 0h3m4 0h7m3 0h3m1 0h1m1 0h3m5 0h8m3 0h11m10 0h1m2 0h1.3m-117.3 1.48h1m12 0h2m10 0h2m3 0h8m2 0h3m2 0h3m7 0h1m6 0h9m4 0h4m5 0h1m12 0h1m1 0h2m1 0h1m3 0h3m4 0h4.3m-113.3 1.48h3m20 0h2m4 0h1m2 0h2m4 0h5m14 0h3m1 0h3m2 0h2m6 0h1m1 0h3m1 0h4m4 0h8m2 0h2m1 0h2m8 0h2m-119 1.48h6m21 0h1m3 0h7m2 0h1m1 0h11m4 0h1m3 0h2m2 0h1m7 0h1m5 0h2m3 0h7m2 0h4m1 0h2m2 0h1m2 0h1m1 0h3m1 0h1m5 0h1m1 0h0.3"/>
<path stroke="#3e2a9c" stroke-width="1.480" shape-rendering="crispEdges" d="M341.2 141.44h3m4 0h4m4 0h3m3 0h3m1 0h2m4 0h1m7 0h6m2 0h13m2 0h5m2 0h2m7 0h1m8 0h2m1 0h16m2 0h11m-119 1.48h5m1 0h1m4 0h7m7 0h1m15 0h5m6 0h6m6 0h1m4 0h8m6 0h5m5 0h2m3 0h1m3 0h12m5 0h0.3m-119.3 1.48h3m3 0h2m1 0h2m2 0h1m16 0h16m2 0h2m8 0h6m14 0h1m10 0h5m4 0h2m8 0h2m5 0h1m-116 1.48h8m12 0h8m1 0h4m2 0h1m24 0h4m2 0h3m4 0h2m10 0h7m2 0h2m2 0h2m6 0h1m3 0h5m3 0h1.3m-113.3 1.48h1m1 0h6m4 0h1m3 0h1m3 0h9m8 0h2m1 0h8m6 0h6m6 0h2m5 0h5m1 0h5m1 0h1m3 0h1m1 0h4m2 0h1m1 0h4m8 0h2m-119 1.48h5m2 0h4m1 0h5m3 0h7m3 0h3m6 0h1m1 0h1m6 0h1m4 0h6m3 0h3m4 0h12m4 0h3m1 0h1m4 0h2m2 0h3m2 0h1m7 0h7m-117 1.48h9m2 0h1m1 0h1m1 0h13m2 0h6m1 0h1m4 0h4m2 0h3m16 0h1m3 0h1m1 0h1m3 0h5m22 0h6m1 0h3m1 0h2m-118 1.48h2m1 0h12m2 0h10m2 0h3m8 0h2m3 0h2m3 0h7m2 0h3m11 0h4m4 0h5m1 0h6m7 0h1m2 0h1m1 0h3m3 0h4m-115 1.48h6m3 0h20m2 0h4m1 0h1m3 0h4m5 0h5m2 0h1m1 0h5m7 0h2m2 0h6m1 0h1m3 0h1m4 0h4m8 0h2m2 0h1m9 0h1m2 0h0.3m-113.3 1.48h21m1 0h3m10 0h1m11 0h4m1 0h3m2 0h1m2 0h7m3 0h2m3 0h3m7 0h2m4 0h1m3 0h1m1 0h2m1 0h1m3 0h1m1 0h5m1 0h1"/>
</g></g>
<rect x="464.1" y="111.2" width="5.4" height="44.5" fill="url(#gbar)"/>
<text x="472.7" y="115.7" font-size="7.5" textLength="16.7" lengthAdjust="spacingAndGlyphs" fill="#333" stroke="#333" stroke-width="0.18">2.00</text>
<text x="472.7" y="135.3" font-size="7.5" textLength="16.7" lengthAdjust="spacingAndGlyphs" fill="#333" stroke="#333" stroke-width="0.18">0.00</text>
<text x="472.7" y="155.2" font-size="7.5" textLength="21" lengthAdjust="spacingAndGlyphs" fill="#333" stroke="#333" stroke-width="0.18">−2.00</text>
<text x="255.3" y="105.8" font-size="8.0" text-anchor="middle" textLength="50.4" lengthAdjust="spacingAndGlyphs" fill="#333" stroke="#333" stroke-width="0.18" transform="rotate(-90 255.3 105.8)">AML-CD4⁺T cells</text>
<text x="256.7" y="147" font-size="7.1" text-anchor="end" textLength="15.1" lengthAdjust="spacingAndGlyphs" fill="#333" stroke="#333" stroke-width="0.18">CTRL</text>
<text x="256.7" y="154.4" font-size="7.1" text-anchor="end" textLength="34" lengthAdjust="spacingAndGlyphs" fill="#333" stroke="#333" stroke-width="0.18">CD4⁺T cells</text>
<text x="10" y="220.5" font-size="12" font-weight="bold" fill="#111">C</text>
<text x="134" y="220.7" font-size="7.9" textLength="53.7" lengthAdjust="spacingAndGlyphs" fill="#222" stroke="#222" stroke-width="0.18">AML vs. CTRL</text>
<text x="81.3" y="235.85" font-size="6.4" text-anchor="end" fill="#333" stroke="#333" stroke-width="0.18" letter-spacing="0">HEDGEHOG SIGNALING</text>
<text x="81.3" y="252.23999999999998" font-size="6.4" text-anchor="end" fill="#333" stroke="#333" stroke-width="0.18" letter-spacing="0">JAK–STAT SIGNALING</text>
<text x="81.3" y="268.63" font-size="6.4" text-anchor="end" fill="#333" stroke="#333" stroke-width="0.18" letter-spacing="0">MAPK SIGNALING</text>
<text x="81.3" y="285.02000000000004" font-size="6.4" text-anchor="end" fill="#333" stroke="#333" stroke-width="0.18" letter-spacing="0">MAPK–ERK SIGNALING</text>
<text x="81.3" y="298.21" font-size="6.4" text-anchor="end" fill="#333" stroke="#333" stroke-width="0.18" letter-spacing="0">NFKB CANONICAL</text>
<text x="81.3" y="305.40999999999997" font-size="6.4" text-anchor="end" fill="#333" stroke="#333" stroke-width="0.18" letter-spacing="0">SIGNALING</text>
<text x="81.3" y="317.8" font-size="6.4" text-anchor="end" fill="#333" stroke="#333" stroke-width="0.18" letter-spacing="0">NOTCH SIGNALING</text>
<text x="81.3" y="334.19000000000005" font-size="6.4" text-anchor="end" fill="#333" stroke="#333" stroke-width="0.18" letter-spacing="0">PI3K–AKT SIGNALING</text>
<text x="81.3" y="350.58000000000004" font-size="6.4" text-anchor="end" fill="#333" stroke="#333" stroke-width="0.18" letter-spacing="0">TGF–BETA SIGNALING</text>
<text x="81.3" y="363.77" font-size="6.4" text-anchor="end" fill="#333" stroke="#333" stroke-width="0.18" letter-spacing="0">WNT SIGNALING</text>
<text x="81.3" y="370.96999999999997" font-size="6.4" text-anchor="end" fill="#333" stroke="#333" stroke-width="0.18" letter-spacing="0">(BETA–CATENIN)</text>
<text x="81.3" y="380.15999999999997" font-size="6.4" text-anchor="end" fill="#333" stroke="#333" stroke-width="0.18" letter-spacing="0">WNT SIGNALING</text>
<text x="81.3" y="387.35999999999996" font-size="6.4" text-anchor="end" fill="#333" stroke="#333" stroke-width="0.18" letter-spacing="0">(NON–CANONICAL)</text>
<text x="239.8" y="235.85" font-size="6.4" fill="#333" stroke="#333" stroke-width="0.18" letter-spacing="0">CYTOKINE SIGNALING</text>
<text x="239.8" y="252.23999999999998" font-size="6.4" fill="#333" stroke="#333" stroke-width="0.18" letter-spacing="0">IL–6 MEDIATED SIGNALING</text>
<text x="239.8" y="268.63" font-size="6.4" fill="#333" stroke="#333" stroke-width="0.18" letter-spacing="0">IL–9 MEDIATED SIGNALING</text>
<text x="239.8" y="285.02000000000004" font-size="6.4" fill="#333" stroke="#333" stroke-width="0.18" letter-spacing="0">INFLAMMATION PATHWAY</text>
<text x="239.8" y="301.41" font-size="6.4" fill="#333" stroke="#333" stroke-width="0.18" letter-spacing="0">REG. OF T–CELL ACTIVATION</text>
<text x="239.8" y="314.0" font-size="6.4" fill="#333" stroke="#333" stroke-width="0.18" letter-spacing="0">REG. OF T–CELL</text>
<text x="239.8" y="321.7" font-size="6.4" fill="#333" stroke="#333" stroke-width="0.18" letter-spacing="0">DIFFERENTIATION</text>
<text x="239.8" y="330.39000000000004" font-size="6.4" fill="#333" stroke="#333" stroke-width="0.18" letter-spacing="0">REG. OF T–CELL</text>
<text x="239.8" y="338.09000000000003" font-size="6.4" fill="#333" stroke="#333" stroke-width="0.18" letter-spacing="0">PROLIFERATION</text>
<text x="239.8" y="350.58000000000004" font-size="6.4" fill="#333" stroke="#333" stroke-width="0.18" letter-spacing="0">T–CELL CO–SIGNALING</text>
<text x="239.8" y="366.97" font-size="6.4" fill="#333" stroke="#333" stroke-width="0.18" letter-spacing="0">TCR SIGNALING</text>
<text x="239.8" y="383.36" font-size="6.4" fill="#333" stroke="#333" stroke-width="0.18" letter-spacing="0">TNF SIGNALING</text>
<path d="M87.9 223.7V392.2H132.5M84.6 233.75H87.9M84.6 250.14H87.9M84.6 266.53H87.9M84.6 282.92H87.9M84.6 299.31H87.9M84.6 315.70H87.9M84.6 332.09H87.9M84.6 348.48H87.9M84.6 364.87H87.9M84.6 381.26H87.9M100.3 392.2V394.6M121.2 392.2V394.6M233.9 223.7V392.2H188.6M233.9 233.75H237.2M233.9 250.14H237.2M233.9 266.53H237.2M233.9 282.92H237.2M233.9 299.31H237.2M233.9 315.70H237.2M233.9 332.09H237.2M233.9 348.48H237.2M233.9 364.87H237.2M233.9 381.26H237.2M200.2 392.2V394.6M220.6 392.2V394.6" stroke="#222" stroke-width="1.1" fill="none"/>
<text x="100.3" y="404" font-size="6.8" text-anchor="middle" fill="#333" stroke="#333" stroke-width="0.18">CD4</text>
<text x="121.2" y="404" font-size="6.8" text-anchor="middle" fill="#333" stroke="#333" stroke-width="0.18">CD8</text>
<text x="200.2" y="404" font-size="6.8" text-anchor="middle" fill="#333" stroke="#333" stroke-width="0.18">CD8</text>
<text x="220.6" y="404" font-size="6.8" text-anchor="middle" fill="#333" stroke="#333" stroke-width="0.18">CD4</text>
<circle cx="100.3" cy="233.75" r="4" fill="#4fb044" stroke="#173a17" stroke-width="0.8"/>
<circle cx="121.2" cy="233.75" r="2.0" fill="#24244e"/>
<circle cx="200.2" cy="233.75" r="2.0" fill="#24244e"/>
<circle cx="220.6" cy="233.75" r="4" fill="#4fb044" stroke="#173a17" stroke-width="0.8"/>
<circle cx="100.3" cy="250.14" r="4" fill="#4fb044" stroke="#173a17" stroke-width="0.8"/>
<circle cx="121.2" cy="250.14" r="1.9" fill="#24244e"/>
<circle cx="200.2" cy="250.14" r="1.7" fill="#24244e"/>
<circle cx="220.6" cy="250.14" r="4" fill="#4fb044" stroke="#173a17" stroke-width="0.8"/>
<circle cx="100.3" cy="266.53" r="4" fill="#4fb044" stroke="#173a17" stroke-width="0.8"/>
<circle cx="121.2" cy="266.53" r="1.9" fill="#24244e"/>
<circle cx="200.2" cy="266.53" r="1.4" fill="#24244e"/>
<circle cx="220.6" cy="266.53" r="4" fill="#4fb044" stroke="#173a17" stroke-width="0.8"/>
<circle cx="100.3" cy="282.92" r="4" fill="#4fb044" stroke="#173a17" stroke-width="0.8"/>
<circle cx="121.2" cy="282.92" r="1.9" fill="#24244e"/>
<circle cx="200.2" cy="282.92" r="2.6" fill="#2f6e2f" stroke="#173a17" stroke-width="0.8"/>
<circle cx="220.6" cy="282.92" r="4" fill="#4fb044" stroke="#173a17" stroke-width="0.8"/>
<circle cx="100.3" cy="299.31" r="4.2" fill="#4fb044" stroke="#173a17" stroke-width="0.8"/>
<circle cx="121.2" cy="299.31" r="2.0" fill="#24244e"/>
<circle cx="200.2" cy="299.31" r="2.0" fill="#24244e"/>
<circle cx="220.6" cy="299.31" r="4" fill="#4fb044" stroke="#173a17" stroke-width="0.8"/>
<circle cx="100.3" cy="315.70" r="3.8" fill="#2f6e2f" stroke="#173a17" stroke-width="0.8"/>
<circle cx="121.2" cy="315.70" r="1.8" fill="#24244e"/>
<circle cx="200.2" cy="315.70" r="2.5" fill="#111"/>
<circle cx="220.6" cy="315.70" r="4" fill="#4fb044" stroke="#173a17" stroke-width="0.8"/>
<circle cx="100.3" cy="332.09" r="4" fill="#4fb044" stroke="#173a17" stroke-width="0.8"/>
<circle cx="121.2" cy="332.09" r="1.7" fill="#24244e"/>
<circle cx="200.2" cy="332.09" r="2.0" fill="#24244e"/>
<circle cx="220.6" cy="332.09" r="4" fill="#4fb044" stroke="#173a17" stroke-width="0.8"/>
<circle cx="100.3" cy="348.48" r="4" fill="#4fb044" stroke="#173a17" stroke-width="0.8"/>
<circle cx="121.2" cy="348.48" r="2.2" fill="#24244e"/>
<circle cx="200.2" cy="348.48" r="2.0" fill="#24244e"/>
<circle cx="220.6" cy="348.48" r="4" fill="#2f6e2f" stroke="#173a17" stroke-width="0.8"/>
<circle cx="100.3" cy="364.87" r="3.9" fill="#4fb044" stroke="#173a17" stroke-width="0.8"/>
<circle cx="121.2" cy="364.87" r="2.0" fill="#24244e"/>
<circle cx="200.2" cy="364.87" r="1.4" fill="#111"/>
<circle cx="220.6" cy="364.87" r="2.1" fill="#24244e"/>
<circle cx="100.3" cy="381.26" r="2.1" fill="#24244e"/>
<circle cx="121.2" cy="381.26" r="1.4" fill="#111"/>
<circle cx="200.2" cy="381.26" r="2.1" fill="#24244e"/>
<circle cx="220.6" cy="381.26" r="4" fill="#4fb044" stroke="#173a17" stroke-width="0.8"/>
<rect x="136.6" y="226.6" width="49" height="131.4" fill="none" stroke="#444" stroke-width="0.9"/>
<text x="142.7" y="234.3" font-size="6.6" textLength="35.2" lengthAdjust="spacingAndGlyphs" fill="#333" stroke="#333" stroke-width="0.18">upregulated</text>
<rect x="154.9" y="238.6" width="11.9" height="39.5" fill="url(#ggr)"/>
<path d="M164.6 244.53H166.3M164.6 249.45H166.3M164.6 254.38H166.3M164.6 259.30H166.3M164.6 264.23H166.3M164.6 269.15H166.3M164.6 274.07H166.3" stroke="#ddd" stroke-width="0.5"/>
<text x="138.2" y="286.6" font-size="6.6" textLength="44.8" lengthAdjust="spacingAndGlyphs" fill="#333" stroke="#333" stroke-width="0.18">downregulated</text>
<circle cx="153" cy="301.1" r="3.1" fill="none" stroke="#333" stroke-width="0.75"/>
<text x="160" y="302.8" font-size="6.2" textLength="8.8" lengthAdjust="spacingAndGlyphs" fill="#333" stroke="#333" stroke-width="0.18">1.0</text>
<circle cx="153" cy="309.6" r="2.9" fill="none" stroke="#333" stroke-width="0.75"/>
<text x="160" y="311.7" font-size="6.2" textLength="8.8" lengthAdjust="spacingAndGlyphs" fill="#333" stroke="#333" stroke-width="0.18">0.5</text>
<circle cx="153" cy="317.8" r="2.7" fill="none" stroke="#333" stroke-width="0.75"/>
<text x="160" y="320" font-size="6.2" textLength="8.8" lengthAdjust="spacingAndGlyphs" fill="#333" stroke="#333" stroke-width="0.18">0.0</text>
<circle cx="153" cy="325.5" r="2.2" fill="none" stroke="#333" stroke-width="0.75"/>
<text x="159.7" y="327.7" font-size="6.2" textLength="12.5" lengthAdjust="spacingAndGlyphs" fill="#333" stroke="#333" stroke-width="0.18">−0.5</text>
<circle cx="153" cy="332.1" r="1.4" fill="none" stroke="#333" stroke-width="0.75"/>
<text x="159.7" y="334.3" font-size="6.2" textLength="12.5" lengthAdjust="spacingAndGlyphs" fill="#333" stroke="#333" stroke-width="0.18">−1.0</text>
<text x="150" y="343.2" font-size="6.4" textLength="21.2" lengthAdjust="spacingAndGlyphs" fill="#333" stroke="#333" stroke-width="0.18">z-score</text>
<text x="143.4" y="351.7" font-size="6.4" textLength="34" lengthAdjust="spacingAndGlyphs" fill="#333" stroke="#333" stroke-width="0.18">(NES value)</text>
<text x="10" y="428.8" font-size="12" font-weight="bold" fill="#111">D</text>
<rect x="51" y="426.6" width="36.9" height="5.8" fill="url(#gd)"/>
<text x="49" y="424.2" font-size="6.2" textLength="7" lengthAdjust="spacingAndGlyphs" fill="#333" stroke="#333" stroke-width="0.18">−2</text>
<text x="69.5" y="424.2" font-size="6.2" text-anchor="middle" fill="#333" stroke="#333" stroke-width="0.18">0</text>
<text x="86.7" y="424.2" font-size="6.2" text-anchor="middle" fill="#333" stroke="#333" stroke-width="0.18">2</text>
<rect x="51.2" y="438.1" width="37.4" height="9.8" fill="#3d2c9a"/>
<text x="62.9" y="445.6" font-size="8.7" textLength="14.2" lengthAdjust="spacingAndGlyphs" fill="#fff" stroke="#fff" stroke-width="0.18">Ctrl</text>
<rect x="92" y="437.8" width="160" height="9.7" fill="#141414"/>
<text x="138.5" y="445.5" font-size="9.2" textLength="66.9" lengthAdjust="spacingAndGlyphs" fill="#fff" stroke="#fff" stroke-width="0.18">AML-CD4⁺T cells</text>
<text x="254" y="445" font-size="6.5" textLength="40.7" lengthAdjust="spacingAndGlyphs" fill="#222" stroke="#222" stroke-width="0.18">AML vs. CTRL</text>
<rect x="51.2" y="452.4" width="36.9" height="18.51" fill="#0e060e"/>
<rect x="91.2" y="452.4" width="161.3" height="18.51" fill="#0e060e"/>
<text x="45.8" y="457.78499999999997" font-size="6.6" text-anchor="end" font-style="italic" fill="#333" stroke="#333" stroke-width="0.18">IFNG</text>
<text x="263" y="457.68499999999995" font-size="6.2" fill="#333" stroke="#333" stroke-width="0.18"><tspan font-style="italic">P</tspan> < .001</text>
<text x="45.8" y="463.955" font-size="6.6" text-anchor="end" font-style="italic" fill="#333" stroke="#333" stroke-width="0.18">TNF</text>
<text x="263" y="463.85499999999996" font-size="6.2" fill="#333" stroke="#333" stroke-width="0.18"><tspan font-style="italic">P</tspan> < .001</text>
<text x="45.8" y="470.12499999999994" font-size="6.6" text-anchor="end" font-style="italic" fill="#333" stroke="#333" stroke-width="0.18">TBX21</text>
<text x="263" y="470.0249999999999" font-size="6.2" fill="#333" stroke="#333" stroke-width="0.18"><tspan font-style="italic">P</tspan> < .001</text>
<rect x="51.50" y="452.70" width="4.67" height="5.57" fill="#3f319e"/>
<rect x="56.77" y="452.70" width="4.67" height="5.57" fill="#2a206c"/>
<rect x="62.04" y="452.70" width="4.67" height="5.57" fill="#1a0a1a"/>
<rect x="67.31" y="452.70" width="4.67" height="5.57" fill="#2a206c"/>
<rect x="72.59" y="452.70" width="4.67" height="5.57" fill="#1a0a1a"/>
<rect x="77.86" y="452.70" width="4.67" height="5.57" fill="#3f319e"/>
<rect x="83.13" y="452.70" width="4.67" height="5.57" fill="#2a206c"/>
<rect x="91.50" y="452.70" width="4.29" height="5.57" fill="#1a0a1a"/>
<rect x="96.39" y="452.70" width="4.29" height="5.57" fill="#2a206c"/>
<rect x="101.28" y="452.70" width="4.29" height="5.57" fill="#1a0a1a"/>
<rect x="106.16" y="452.70" width="4.29" height="5.57" fill="#e2222a"/>
<rect x="111.05" y="452.70" width="4.29" height="5.57" fill="#e2222a"/>
<rect x="115.94" y="452.70" width="4.29" height="5.57" fill="#1a0a1a"/>
<rect x="120.83" y="452.70" width="4.29" height="5.57" fill="#1a0a1a"/>
<rect x="125.72" y="452.70" width="4.29" height="5.57" fill="#2a206c"/>
<rect x="130.60" y="452.70" width="4.29" height="5.57" fill="#e2222a"/>
<rect x="135.49" y="452.70" width="4.29" height="5.57" fill="#e2222a"/>
<rect x="140.38" y="452.70" width="4.29" height="5.57" fill="#1a0a1a"/>
<rect x="145.27" y="452.70" width="4.29" height="5.57" fill="#1a0a1a"/>
<rect x="150.15" y="452.70" width="4.29" height="5.57" fill="#1a0a1a"/>
<rect x="155.04" y="452.70" width="4.29" height="5.57" fill="#1a0a1a"/>
<rect x="159.93" y="452.70" width="4.29" height="5.57" fill="#1a0a1a"/>
<rect x="164.82" y="452.70" width="4.29" height="5.57" fill="#1a0a1a"/>
<rect x="169.71" y="452.70" width="4.29" height="5.57" fill="#8a1420"/>
<rect x="174.59" y="452.70" width="4.29" height="5.57" fill="#1a0a1a"/>
<rect x="179.48" y="452.70" width="4.29" height="5.57" fill="#1a0a1a"/>
<rect x="184.37" y="452.70" width="4.29" height="5.57" fill="#2a206c"/>
<rect x="189.26" y="452.70" width="4.29" height="5.57" fill="#1a0a1a"/>
<rect x="194.15" y="452.70" width="4.29" height="5.57" fill="#2a206c"/>
<rect x="199.03" y="452.70" width="4.29" height="5.57" fill="#8a1420"/>
<rect x="203.92" y="452.70" width="4.29" height="5.57" fill="#1a0a1a"/>
<rect x="208.81" y="452.70" width="4.29" height="5.57" fill="#2a206c"/>
<rect x="213.70" y="452.70" width="4.29" height="5.57" fill="#2a206c"/>
<rect x="218.58" y="452.70" width="4.29" height="5.57" fill="#2a206c"/>
<rect x="223.47" y="452.70" width="4.29" height="5.57" fill="#1a0a1a"/>
<rect x="228.36" y="452.70" width="4.29" height="5.57" fill="#2a206c"/>
<rect x="233.25" y="452.70" width="4.29" height="5.57" fill="#8a1420"/>
<rect x="238.14" y="452.70" width="4.29" height="5.57" fill="#2a206c"/>
<rect x="243.02" y="452.70" width="4.29" height="5.57" fill="#1a0a1a"/>
<rect x="247.91" y="452.70" width="4.29" height="5.57" fill="#8a1420"/>
<rect x="51.50" y="458.87" width="4.67" height="5.57" fill="#3f319e"/>
<rect x="56.77" y="458.87" width="4.67" height="5.57" fill="#3f319e"/>
<rect x="62.04" y="458.87" width="4.67" height="5.57" fill="#2a206c"/>
<rect x="67.31" y="458.87" width="4.67" height="5.57" fill="#2a206c"/>
<rect x="72.59" y="458.87" width="4.67" height="5.57" fill="#2a206c"/>
<rect x="77.86" y="458.87" width="4.67" height="5.57" fill="#2a206c"/>
<rect x="83.13" y="458.87" width="4.67" height="5.57" fill="#2a206c"/>
<rect x="91.50" y="458.87" width="4.29" height="5.57" fill="#1a0a1a"/>
<rect x="96.39" y="458.87" width="4.29" height="5.57" fill="#2a206c"/>
<rect x="101.28" y="458.87" width="4.29" height="5.57" fill="#8a1420"/>
<rect x="106.16" y="458.87" width="4.29" height="5.57" fill="#8a1420"/>
<rect x="111.05" y="458.87" width="4.29" height="5.57" fill="#1a0a1a"/>
<rect x="115.94" y="458.87" width="4.29" height="5.57" fill="#8a1420"/>
<rect x="120.83" y="458.87" width="4.29" height="5.57" fill="#8a1420"/>
<rect x="125.72" y="458.87" width="4.29" height="5.57" fill="#8a1420"/>
<rect x="130.60" y="458.87" width="4.29" height="5.57" fill="#e2222a"/>
<rect x="135.49" y="458.87" width="4.29" height="5.57" fill="#1a0a1a"/>
<rect x="140.38" y="458.87" width="4.29" height="5.57" fill="#e2222a"/>
<rect x="145.27" y="458.87" width="4.29" height="5.57" fill="#1a0a1a"/>
<rect x="150.15" y="458.87" width="4.29" height="5.57" fill="#e2222a"/>
<rect x="155.04" y="458.87" width="4.29" height="5.57" fill="#8a1420"/>
<rect x="159.93" y="458.87" width="4.29" height="5.57" fill="#1a0a1a"/>
<rect x="164.82" y="458.87" width="4.29" height="5.57" fill="#1a0a1a"/>
<rect x="169.71" y="458.87" width="4.29" height="5.57" fill="#1a0a1a"/>
<rect x="174.59" y="458.87" width="4.29" height="5.57" fill="#1a0a1a"/>
<rect x="179.48" y="458.87" width="4.29" height="5.57" fill="#8a1420"/>
<rect x="184.37" y="458.87" width="4.29" height="5.57" fill="#1a0a1a"/>
<rect x="189.26" y="458.87" width="4.29" height="5.57" fill="#1a0a1a"/>
<rect x="194.15" y="458.87" width="4.29" height="5.57" fill="#8a1420"/>
<rect x="199.03" y="458.87" width="4.29" height="5.57" fill="#e2222a"/>
<rect x="203.92" y="458.87" width="4.29" height="5.57" fill="#8a1420"/>
<rect x="208.81" y="458.87" width="4.29" height="5.57" fill="#3f319e"/>
<rect x="213.70" y="458.87" width="4.29" height="5.57" fill="#8a1420"/>
<rect x="218.58" y="458.87" width="4.29" height="5.57" fill="#8a1420"/>
<rect x="223.47" y="458.87" width="4.29" height="5.57" fill="#8a1420"/>
<rect x="228.36" y="458.87" width="4.29" height="5.57" fill="#e2222a"/>
<rect x="233.25" y="458.87" width="4.29" height="5.57" fill="#e2222a"/>
<rect x="238.14" y="458.87" width="4.29" height="5.57" fill="#1a0a1a"/>
<rect x="243.02" y="458.87" width="4.29" height="5.57" fill="#1a0a1a"/>
<rect x="247.91" y="458.87" width="4.29" height="5.57" fill="#3f319e"/>
<rect x="51.50" y="465.04" width="4.67" height="5.57" fill="#3f319e"/>
<rect x="56.77" y="465.04" width="4.67" height="5.57" fill="#2a206c"/>
<rect x="62.04" y="465.04" width="4.67" height="5.57" fill="#2a206c"/>
<rect x="67.31" y="465.04" width="4.67" height="5.57" fill="#2a206c"/>
<rect x="72.59" y="465.04" width="4.67" height="5.57" fill="#2a206c"/>
<rect x="77.86" y="465.04" width="4.67" height="5.57" fill="#2a206c"/>
<rect x="83.13" y="465.04" width="4.67" height="5.57" fill="#2a206c"/>
<rect x="91.50" y="465.04" width="4.29" height="5.57" fill="#3f319e"/>
<rect x="96.39" y="465.04" width="4.29" height="5.57" fill="#3f319e"/>
<rect x="101.28" y="465.04" width="4.29" height="5.57" fill="#3f319e"/>
<rect x="106.16" y="465.04" width="4.29" height="5.57" fill="#1a0a1a"/>
<rect x="111.05" y="465.04" width="4.29" height="5.57" fill="#e2222a"/>
<rect x="115.94" y="465.04" width="4.29" height="5.57" fill="#8a1420"/>
<rect x="120.83" y="465.04" width="4.29" height="5.57" fill="#8a1420"/>
<rect x="125.72" y="465.04" width="4.29" height="5.57" fill="#2a206c"/>
<rect x="130.60" y="465.04" width="4.29" height="5.57" fill="#e2222a"/>
<rect x="135.49" y="465.04" width="4.29" height="5.57" fill="#8a1420"/>
<rect x="140.38" y="465.04" width="4.29" height="5.57" fill="#1a0a1a"/>
<rect x="145.27" y="465.04" width="4.29" height="5.57" fill="#1a0a1a"/>
<rect x="150.15" y="465.04" width="4.29" height="5.57" fill="#e2222a"/>
<rect x="155.04" y="465.04" width="4.29" height="5.57" fill="#e2222a"/>
<rect x="159.93" y="465.04" width="4.29" height="5.57" fill="#8a1420"/>
<rect x="164.82" y="465.04" width="4.29" height="5.57" fill="#3f319e"/>
<rect x="169.71" y="465.04" width="4.29" height="5.57" fill="#e2222a"/>
<rect x="174.59" y="465.04" width="4.29" height="5.57" fill="#8a1420"/>
<rect x="179.48" y="465.04" width="4.29" height="5.57" fill="#2a206c"/>
<rect x="184.37" y="465.04" width="4.29" height="5.57" fill="#2a206c"/>
<rect x="189.26" y="465.04" width="4.29" height="5.57" fill="#2a206c"/>
<rect x="194.15" y="465.04" width="4.29" height="5.57" fill="#2a206c"/>
<rect x="199.03" y="465.04" width="4.29" height="5.57" fill="#e2222a"/>
<rect x="203.92" y="465.04" width="4.29" height="5.57" fill="#1a0a1a"/>
<rect x="208.81" y="465.04" width="4.29" height="5.57" fill="#1a0a1a"/>
<rect x="213.70" y="465.04" width="4.29" height="5.57" fill="#8a1420"/>
<rect x="218.58" y="465.04" width="4.29" height="5.57" fill="#2a206c"/>
<rect x="223.47" y="465.04" width="4.29" height="5.57" fill="#e2222a"/>
<rect x="228.36" y="465.04" width="4.29" height="5.57" fill="#e2222a"/>
<rect x="233.25" y="465.04" width="4.29" height="5.57" fill="#1a0a1a"/>
<rect x="238.14" y="465.04" width="4.29" height="5.57" fill="#1a0a1a"/>
<rect x="243.02" y="465.04" width="4.29" height="5.57" fill="#1a0a1a"/>
<rect x="247.91" y="465.04" width="4.29" height="5.57" fill="#e2222a"/>
<path d="M19.9 452.90V470.41" stroke="#555" stroke-width="1"/>
<text x="14.8" y="461.655" font-size="6.6" text-anchor="middle" fill="#333" stroke="#333" stroke-width="0.18" transform="rotate(-90 14.8 461.655)">Th1</text>
<rect x="51.2" y="478.2" width="36.9" height="37.02" fill="#0e060e"/>
<rect x="91.2" y="478.2" width="161.3" height="37.02" fill="#0e060e"/>
<text x="45.8" y="483.585" font-size="6.6" text-anchor="end" font-style="italic" fill="#333" stroke="#333" stroke-width="0.18">IL4</text>
<text x="263" y="483.48499999999996" font-size="6.2" fill="#333" stroke="#333" stroke-width="0.18"><tspan font-style="italic">P</tspan> = .60</text>
<text x="45.8" y="489.755" font-size="6.6" text-anchor="end" font-style="italic" fill="#333" stroke="#333" stroke-width="0.18">IL5</text>
<text x="263" y="489.655" font-size="6.2" fill="#333" stroke="#333" stroke-width="0.18"><tspan font-style="italic">P</tspan> = .88</text>
<text x="45.8" y="495.92499999999995" font-size="6.6" text-anchor="end" font-style="italic" fill="#333" stroke="#333" stroke-width="0.18">IL10</text>
<text x="263" y="495.82499999999993" font-size="6.2" fill="#333" stroke="#333" stroke-width="0.18"><tspan font-style="italic">P</tspan> < .05</text>
<text x="45.8" y="502.09499999999997" font-size="6.6" text-anchor="end" font-style="italic" fill="#333" stroke="#333" stroke-width="0.18">IL13</text>
<text x="263" y="501.99499999999995" font-size="6.2" fill="#333" stroke="#333" stroke-width="0.18"><tspan font-style="italic">P</tspan> = .84</text>
<text x="45.8" y="508.265" font-size="6.6" text-anchor="end" font-style="italic" fill="#333" stroke="#333" stroke-width="0.18">GATA3</text>
<text x="263" y="508.16499999999996" font-size="6.2" fill="#333" stroke="#333" stroke-width="0.18"><tspan font-style="italic">P</tspan> = .41</text>
<text x="45.8" y="514.435" font-size="6.6" text-anchor="end" font-style="italic" fill="#333" stroke="#333" stroke-width="0.18">STAT6</text>
<text x="263" y="514.335" font-size="6.2" fill="#333" stroke="#333" stroke-width="0.18"><tspan font-style="italic">P</tspan> = .32</text>
<rect x="51.50" y="478.50" width="4.67" height="5.57" fill="#e2222a"/>
<rect x="56.77" y="478.50" width="4.67" height="5.57" fill="#8a1420"/>
<rect x="62.04" y="478.50" width="4.67" height="5.57" fill="#2a206c"/>
<rect x="67.31" y="478.50" width="4.67" height="5.57" fill="#2a206c"/>
<rect x="72.59" y="478.50" width="4.67" height="5.57" fill="#8a1420"/>
<rect x="77.86" y="478.50" width="4.67" height="5.57" fill="#1a0a1a"/>
<rect x="83.13" y="478.50" width="4.67" height="5.57" fill="#1a0a1a"/>
<rect x="91.50" y="478.50" width="4.29" height="5.57" fill="#1a0a1a"/>
<rect x="96.39" y="478.50" width="4.29" height="5.57" fill="#8a1420"/>
<rect x="101.28" y="478.50" width="4.29" height="5.57" fill="#3f319e"/>
<rect x="106.16" y="478.50" width="4.29" height="5.57" fill="#e2222a"/>
<rect x="111.05" y="478.50" width="4.29" height="5.57" fill="#1a0a1a"/>
<rect x="115.94" y="478.50" width="4.29" height="5.57" fill="#1a0a1a"/>
<rect x="120.83" y="478.50" width="4.29" height="5.57" fill="#8a1420"/>
<rect x="125.72" y="478.50" width="4.29" height="5.57" fill="#1a0a1a"/>
<rect x="130.60" y="478.50" width="4.29" height="5.57" fill="#1a0a1a"/>
<rect x="135.49" y="478.50" width="4.29" height="5.57" fill="#8a1420"/>
<rect x="140.38" y="478.50" width="4.29" height="5.57" fill="#3f319e"/>
<rect x="145.27" y="478.50" width="4.29" height="5.57" fill="#8a1420"/>
<rect x="150.15" y="478.50" width="4.29" height="5.57" fill="#8a1420"/>
<rect x="155.04" y="478.50" width="4.29" height="5.57" fill="#3f319e"/>
<rect x="159.93" y="478.50" width="4.29" height="5.57" fill="#1a0a1a"/>
<rect x="164.82" y="478.50" width="4.29" height="5.57" fill="#2a206c"/>
<rect x="169.71" y="478.50" width="4.29" height="5.57" fill="#2a206c"/>
<rect x="174.59" y="478.50" width="4.29" height="5.57" fill="#1a0a1a"/>
<rect x="179.48" y="478.50" width="4.29" height="5.57" fill="#e2222a"/>
<rect x="184.37" y="478.50" width="4.29" height="5.57" fill="#1a0a1a"/>
<rect x="189.26" y="478.50" width="4.29" height="5.57" fill="#2a206c"/>
<rect x="194.15" y="478.50" width="4.29" height="5.57" fill="#2a206c"/>
<rect x="199.03" y="478.50" width="4.29" height="5.57" fill="#3f319e"/>
<rect x="203.92" y="478.50" width="4.29" height="5.57" fill="#2a206c"/>
<rect x="208.81" y="478.50" width="4.29" height="5.57" fill="#8a1420"/>
<rect x="213.70" y="478.50" width="4.29" height="5.57" fill="#2a206c"/>
<rect x="218.58" y="478.50" width="4.29" height="5.57" fill="#e2222a"/>
<rect x="223.47" y="478.50" width="4.29" height="5.57" fill="#2a206c"/>
<rect x="228.36" y="478.50" width="4.29" height="5.57" fill="#1a0a1a"/>
<rect x="233.25" y="478.50" width="4.29" height="5.57" fill="#8a1420"/>
<rect x="238.14" y="478.50" width="4.29" height="5.57" fill="#1a0a1a"/>
<rect x="243.02" y="478.50" width="4.29" height="5.57" fill="#2a206c"/>
<rect x="247.91" y="478.50" width="4.29" height="5.57" fill="#8a1420"/>
<rect x="51.50" y="484.67" width="4.67" height="5.57" fill="#1a0a1a"/>
<rect x="56.77" y="484.67" width="4.67" height="5.57" fill="#2a206c"/>
<rect x="62.04" y="484.67" width="4.67" height="5.57" fill="#8a1420"/>
<rect x="67.31" y="484.67" width="4.67" height="5.57" fill="#8a1420"/>
<rect x="72.59" y="484.67" width="4.67" height="5.57" fill="#8a1420"/>
<rect x="77.86" y="484.67" width="4.67" height="5.57" fill="#2a206c"/>
<rect x="83.13" y="484.67" width="4.67" height="5.57" fill="#1a0a1a"/>
<rect x="91.50" y="484.67" width="4.29" height="5.57" fill="#2a206c"/>
<rect x="96.39" y="484.67" width="4.29" height="5.57" fill="#8a1420"/>
<rect x="101.28" y="484.67" width="4.29" height="5.57" fill="#1a0a1a"/>
<rect x="106.16" y="484.67" width="4.29" height="5.57" fill="#e2222a"/>
<rect x="111.05" y="484.67" width="4.29" height="5.57" fill="#2a206c"/>
<rect x="115.94" y="484.67" width="4.29" height="5.57" fill="#2a206c"/>
<rect x="120.83" y="484.67" width="4.29" height="5.57" fill="#2a206c"/>
<rect x="125.72" y="484.67" width="4.29" height="5.57" fill="#1a0a1a"/>
<rect x="130.60" y="484.67" width="4.29" height="5.57" fill="#e2222a"/>
<rect x="135.49" y="484.67" width="4.29" height="5.57" fill="#2a206c"/>
<rect x="140.38" y="484.67" width="4.29" height="5.57" fill="#2a206c"/>
<rect x="145.27" y="484.67" width="4.29" height="5.57" fill="#1a0a1a"/>
<rect x="150.15" y="484.67" width="4.29" height="5.57" fill="#1a0a1a"/>
<rect x="155.04" y="484.67" width="4.29" height="5.57" fill="#1a0a1a"/>
<rect x="159.93" y="484.67" width="4.29" height="5.57" fill="#3f319e"/>
<rect x="164.82" y="484.67" width="4.29" height="5.57" fill="#1a0a1a"/>
<rect x="169.71" y="484.67" width="4.29" height="5.57" fill="#1a0a1a"/>
<rect x="174.59" y="484.67" width="4.29" height="5.57" fill="#1a0a1a"/>
<rect x="179.48" y="484.67" width="4.29" height="5.57" fill="#8a1420"/>
<rect x="184.37" y="484.67" width="4.29" height="5.57" fill="#2a206c"/>
<rect x="189.26" y="484.67" width="4.29" height="5.57" fill="#3f319e"/>
<rect x="194.15" y="484.67" width="4.29" height="5.57" fill="#8a1420"/>
<rect x="199.03" y="484.67" width="4.29" height="5.57" fill="#2a206c"/>
<rect x="203.92" y="484.67" width="4.29" height="5.57" fill="#3f319e"/>
<rect x="208.81" y="484.67" width="4.29" height="5.57" fill="#e2222a"/>
<rect x="213.70" y="484.67" width="4.29" height="5.57" fill="#3f319e"/>
<rect x="218.58" y="484.67" width="4.29" height="5.57" fill="#e2222a"/>
<rect x="223.47" y="484.67" width="4.29" height="5.57" fill="#2a206c"/>
<rect x="228.36" y="484.67" width="4.29" height="5.57" fill="#1a0a1a"/>
<rect x="233.25" y="484.67" width="4.29" height="5.57" fill="#1a0a1a"/>
<rect x="238.14" y="484.67" width="4.29" height="5.57" fill="#1a0a1a"/>
<rect x="243.02" y="484.67" width="4.29" height="5.57" fill="#2a206c"/>
<rect x="247.91" y="484.67" width="4.29" height="5.57" fill="#8a1420"/>
<rect x="51.50" y="490.84" width="4.67" height="5.57" fill="#2a206c"/>
<rect x="56.77" y="490.84" width="4.67" height="5.57" fill="#2a206c"/>
<rect x="62.04" y="490.84" width="4.67" height="5.57" fill="#2a206c"/>
<rect x="67.31" y="490.84" width="4.67" height="5.57" fill="#2a206c"/>
<rect x="72.59" y="490.84" width="4.67" height="5.57" fill="#2a206c"/>
<rect x="77.86" y="490.84" width="4.67" height="5.57" fill="#2a206c"/>
<rect x="83.13" y="490.84" width="4.67" height="5.57" fill="#2a206c"/>
<rect x="91.50" y="490.84" width="4.29" height="5.57" fill="#3f319e"/>
<rect x="96.39" y="490.84" width="4.29" height="5.57" fill="#2a206c"/>
<rect x="101.28" y="490.84" width="4.29" height="5.57" fill="#8a1420"/>
<rect x="106.16" y="490.84" width="4.29" height="5.57" fill="#1a0a1a"/>
<rect x="111.05" y="490.84" width="4.29" height="5.57" fill="#e2222a"/>
<rect x="115.94" y="490.84" width="4.29" height="5.57" fill="#3f319e"/>
<rect x="120.83" y="490.84" width="4.29" height="5.57" fill="#3f319e"/>
<rect x="125.72" y="490.84" width="4.29" height="5.57" fill="#e2222a"/>
<rect x="130.60" y="490.84" width="4.29" height="5.57" fill="#e2222a"/>
<rect x="135.49" y="490.84" width="4.29" height="5.57" fill="#e2222a"/>
<rect x="140.38" y="490.84" width="4.29" height="5.57" fill="#3f319e"/>
<rect x="145.27" y="490.84" width="4.29" height="5.57" fill="#2a206c"/>
<rect x="150.15" y="490.84" width="4.29" height="5.57" fill="#1a0a1a"/>
<rect x="155.04" y="490.84" width="4.29" height="5.57" fill="#8a1420"/>
<rect x="159.93" y="490.84" width="4.29" height="5.57" fill="#1a0a1a"/>
<rect x="164.82" y="490.84" width="4.29" height="5.57" fill="#2a206c"/>
<rect x="169.71" y="490.84" width="4.29" height="5.57" fill="#1a0a1a"/>
<rect x="174.59" y="490.84" width="4.29" height="5.57" fill="#8a1420"/>
<rect x="179.48" y="490.84" width="4.29" height="5.57" fill="#8a1420"/>
<rect x="184.37" y="490.84" width="4.29" height="5.57" fill="#1a0a1a"/>
<rect x="189.26" y="490.84" width="4.29" height="5.57" fill="#e2222a"/>
<rect x="194.15" y="490.84" width="4.29" height="5.57" fill="#1a0a1a"/>
<rect x="199.03" y="490.84" width="4.29" height="5.57" fill="#2a206c"/>
<rect x="203.92" y="490.84" width="4.29" height="5.57" fill="#e2222a"/>
<rect x="208.81" y="490.84" width="4.29" height="5.57" fill="#2a206c"/>
<rect x="213.70" y="490.84" width="4.29" height="5.57" fill="#8a1420"/>
<rect x="218.58" y="490.84" width="4.29" height="5.57" fill="#2a206c"/>
<rect x="223.47" y="490.84" width="4.29" height="5.57" fill="#1a0a1a"/>
<rect x="228.36" y="490.84" width="4.29" height="5.57" fill="#3f319e"/>
<rect x="233.25" y="490.84" width="4.29" height="5.57" fill="#3f319e"/>
<rect x="238.14" y="490.84" width="4.29" height="5.57" fill="#1a0a1a"/>
<rect x="243.02" y="490.84" width="4.29" height="5.57" fill="#e2222a"/>
<rect x="247.91" y="490.84" width="4.29" height="5.57" fill="#8a1420"/>
<rect x="51.50" y="497.01" width="4.67" height="5.57" fill="#e2222a"/>
<rect x="56.77" y="497.01" width="4.67" height="5.57" fill="#2a206c"/>
<rect x="62.04" y="497.01" width="4.67" height="5.57" fill="#1a0a1a"/>
<rect x="67.31" y="497.01" width="4.67" height="5.57" fill="#2a206c"/>
<rect x="72.59" y="497.01" width="4.67" height="5.57" fill="#8a1420"/>
<rect x="77.86" y="497.01" width="4.67" height="5.57" fill="#2a206c"/>
<rect x="83.13" y="497.01" width="4.67" height="5.57" fill="#8a1420"/>
<rect x="91.50" y="497.01" width="4.29" height="5.57" fill="#e2222a"/>
<rect x="96.39" y="497.01" width="4.29" height="5.57" fill="#1a0a1a"/>
<rect x="101.28" y="497.01" width="4.29" height="5.57" fill="#3f319e"/>
<rect x="106.16" y="497.01" width="4.29" height="5.57" fill="#e2222a"/>
<rect x="111.05" y="497.01" width="4.29" height="5.57" fill="#8a1420"/>
<rect x="115.94" y="497.01" width="4.29" height="5.57" fill="#2a206c"/>
<rect x="120.83" y="497.01" width="4.29" height="5.57" fill="#8a1420"/>
<rect x="125.72" y="497.01" width="4.29" height="5.57" fill="#2a206c"/>
<rect x="130.60" y="497.01" width="4.29" height="5.57" fill="#2a206c"/>
<rect x="135.49" y="497.01" width="4.29" height="5.57" fill="#8a1420"/>
<rect x="140.38" y="497.01" width="4.29" height="5.57" fill="#8a1420"/>
<rect x="145.27" y="497.01" width="4.29" height="5.57" fill="#e2222a"/>
<rect x="150.15" y="497.01" width="4.29" height="5.57" fill="#8a1420"/>
<rect x="155.04" y="497.01" width="4.29" height="5.57" fill="#3f319e"/>
<rect x="159.93" y="497.01" width="4.29" height="5.57" fill="#3f319e"/>
<rect x="164.82" y="497.01" width="4.29" height="5.57" fill="#3f319e"/>
<rect x="169.71" y="497.01" width="4.29" height="5.57" fill="#3f319e"/>
<rect x="174.59" y="497.01" width="4.29" height="5.57" fill="#1a0a1a"/>
<rect x="179.48" y="497.01" width="4.29" height="5.57" fill="#e2222a"/>
<rect x="184.37" y="497.01" width="4.29" height="5.57" fill="#1a0a1a"/>
<rect x="189.26" y="497.01" width="4.29" height="5.57" fill="#2a206c"/>
<rect x="194.15" y="497.01" width="4.29" height="5.57" fill="#3f319e"/>
<rect x="199.03" y="497.01" width="4.29" height="5.57" fill="#8a1420"/>
<rect x="203.92" y="497.01" width="4.29" height="5.57" fill="#2a206c"/>
<rect x="208.81" y="497.01" width="4.29" height="5.57" fill="#3f319e"/>
<rect x="213.70" y="497.01" width="4.29" height="5.57" fill="#3f319e"/>
<rect x="218.58" y="497.01" width="4.29" height="5.57" fill="#1a0a1a"/>
<rect x="223.47" y="497.01" width="4.29" height="5.57" fill="#3f319e"/>
<rect x="228.36" y="497.01" width="4.29" height="5.57" fill="#e2222a"/>
<rect x="233.25" y="497.01" width="4.29" height="5.57" fill="#1a0a1a"/>
<rect x="238.14" y="497.01" width="4.29" height="5.57" fill="#1a0a1a"/>
<rect x="243.02" y="497.01" width="4.29" height="5.57" fill="#8a1420"/>
<rect x="247.91" y="497.01" width="4.29" height="5.57" fill="#2a206c"/>
<rect x="51.50" y="503.18" width="4.67" height="5.57" fill="#1a0a1a"/>
<rect x="56.77" y="503.18" width="4.67" height="5.57" fill="#2a206c"/>
<rect x="62.04" y="503.18" width="4.67" height="5.57" fill="#2a206c"/>
<rect x="67.31" y="503.18" width="4.67" height="5.57" fill="#2a206c"/>
<rect x="72.59" y="503.18" width="4.67" height="5.57" fill="#1a0a1a"/>
<rect x="77.86" y="503.18" width="4.67" height="5.57" fill="#1a0a1a"/>
<rect x="83.13" y="503.18" width="4.67" height="5.57" fill="#2a206c"/>
<rect x="91.50" y="503.18" width="4.29" height="5.57" fill="#8a1420"/>
<rect x="96.39" y="503.18" width="4.29" height="5.57" fill="#1a0a1a"/>
<rect x="101.28" y="503.18" width="4.29" height="5.57" fill="#3f319e"/>
<rect x="106.16" y="503.18" width="4.29" height="5.57" fill="#3f319e"/>
<rect x="111.05" y="503.18" width="4.29" height="5.57" fill="#8a1420"/>
<rect x="115.94" y="503.18" width="4.29" height="5.57" fill="#8a1420"/>
<rect x="120.83" y="503.18" width="4.29" height="5.57" fill="#e2222a"/>
<rect x="125.72" y="503.18" width="4.29" height="5.57" fill="#8a1420"/>
<rect x="130.60" y="503.18" width="4.29" height="5.57" fill="#8a1420"/>
<rect x="135.49" y="503.18" width="4.29" height="5.57" fill="#e2222a"/>
<rect x="140.38" y="503.18" width="4.29" height="5.57" fill="#8a1420"/>
<rect x="145.27" y="503.18" width="4.29" height="5.57" fill="#3f319e"/>
<rect x="150.15" y="503.18" width="4.29" height="5.57" fill="#e2222a"/>
<rect x="155.04" y="503.18" width="4.29" height="5.57" fill="#8a1420"/>
<rect x="159.93" y="503.18" width="4.29" height="5.57" fill="#3f319e"/>
<rect x="164.82" y="503.18" width="4.29" height="5.57" fill="#1a0a1a"/>
<rect x="169.71" y="503.18" width="4.29" height="5.57" fill="#8a1420"/>
<rect x="174.59" y="503.18" width="4.29" height="5.57" fill="#8a1420"/>
<rect x="179.48" y="503.18" width="4.29" height="5.57" fill="#e2222a"/>
<rect x="184.37" y="503.18" width="4.29" height="5.57" fill="#1a0a1a"/>
<rect x="189.26" y="503.18" width="4.29" height="5.57" fill="#e2222a"/>
<rect x="194.15" y="503.18" width="4.29" height="5.57" fill="#8a1420"/>
<rect x="199.03" y="503.18" width="4.29" height="5.57" fill="#8a1420"/>
<rect x="203.92" y="503.18" width="4.29" height="5.57" fill="#1a0a1a"/>
<rect x="208.81" y="503.18" width="4.29" height="5.57" fill="#3f319e"/>
<rect x="213.70" y="503.18" width="4.29" height="5.57" fill="#1a0a1a"/>
<rect x="218.58" y="503.18" width="4.29" height="5.57" fill="#1a0a1a"/>
<rect x="223.47" y="503.18" width="4.29" height="5.57" fill="#1a0a1a"/>
<rect x="228.36" y="503.18" width="4.29" height="5.57" fill="#e2222a"/>
<rect x="233.25" y="503.18" width="4.29" height="5.57" fill="#3f319e"/>
<rect x="238.14" y="503.18" width="4.29" height="5.57" fill="#1a0a1a"/>
<rect x="243.02" y="503.18" width="4.29" height="5.57" fill="#8a1420"/>
<rect x="247.91" y="503.18" width="4.29" height="5.57" fill="#3f319e"/>
<rect x="51.50" y="509.35" width="4.67" height="5.57" fill="#1a0a1a"/>
<rect x="56.77" y="509.35" width="4.67" height="5.57" fill="#8a1420"/>
<rect x="62.04" y="509.35" width="4.67" height="5.57" fill="#8a1420"/>
<rect x="67.31" y="509.35" width="4.67" height="5.57" fill="#8a1420"/>
<rect x="72.59" y="509.35" width="4.67" height="5.57" fill="#2a206c"/>
<rect x="77.86" y="509.35" width="4.67" height="5.57" fill="#8a1420"/>
<rect x="83.13" y="509.35" width="4.67" height="5.57" fill="#1a0a1a"/>
<rect x="91.50" y="509.35" width="4.29" height="5.57" fill="#8a1420"/>
<rect x="96.39" y="509.35" width="4.29" height="5.57" fill="#8a1420"/>
<rect x="101.28" y="509.35" width="4.29" height="5.57" fill="#8a1420"/>
<rect x="106.16" y="509.35" width="4.29" height="5.57" fill="#3f319e"/>
<rect x="111.05" y="509.35" width="4.29" height="5.57" fill="#1a0a1a"/>
<rect x="115.94" y="509.35" width="4.29" height="5.57" fill="#2a206c"/>
<rect x="120.83" y="509.35" width="4.29" height="5.57" fill="#e2222a"/>
<rect x="125.72" y="509.35" width="4.29" height="5.57" fill="#2a206c"/>
<rect x="130.60" y="509.35" width="4.29" height="5.57" fill="#2a206c"/>
<rect x="135.49" y="509.35" width="4.29" height="5.57" fill="#8a1420"/>
<rect x="140.38" y="509.35" width="4.29" height="5.57" fill="#1a0a1a"/>
<rect x="145.27" y="509.35" width="4.29" height="5.57" fill="#3f319e"/>
<rect x="150.15" y="509.35" width="4.29" height="5.57" fill="#1a0a1a"/>
<rect x="155.04" y="509.35" width="4.29" height="5.57" fill="#8a1420"/>
<rect x="159.93" y="509.35" width="4.29" height="5.57" fill="#1a0a1a"/>
<rect x="164.82" y="509.35" width="4.29" height="5.57" fill="#1a0a1a"/>
<rect x="169.71" y="509.35" width="4.29" height="5.57" fill="#8a1420"/>
<rect x="174.59" y="509.35" width="4.29" height="5.57" fill="#3f319e"/>
<rect x="179.48" y="509.35" width="4.29" height="5.57" fill="#8a1420"/>
<rect x="184.37" y="509.35" width="4.29" height="5.57" fill="#1a0a1a"/>
<rect x="189.26" y="509.35" width="4.29" height="5.57" fill="#8a1420"/>
<rect x="194.15" y="509.35" width="4.29" height="5.57" fill="#8a1420"/>
<rect x="199.03" y="509.35" width="4.29" height="5.57" fill="#8a1420"/>
<rect x="203.92" y="509.35" width="4.29" height="5.57" fill="#8a1420"/>
<rect x="208.81" y="509.35" width="4.29" height="5.57" fill="#3f319e"/>
<rect x="213.70" y="509.35" width="4.29" height="5.57" fill="#1a0a1a"/>
<rect x="218.58" y="509.35" width="4.29" height="5.57" fill="#1a0a1a"/>
<rect x="223.47" y="509.35" width="4.29" height="5.57" fill="#8a1420"/>
<rect x="228.36" y="509.35" width="4.29" height="5.57" fill="#8a1420"/>
<rect x="233.25" y="509.35" width="4.29" height="5.57" fill="#8a1420"/>
<rect x="238.14" y="509.35" width="4.29" height="5.57" fill="#1a0a1a"/>
<rect x="243.02" y="509.35" width="4.29" height="5.57" fill="#8a1420"/>
<rect x="247.91" y="509.35" width="4.29" height="5.57" fill="#3f319e"/>
<path d="M19.9 478.70V514.72" stroke="#555" stroke-width="1"/>
<text x="14.8" y="496.71" font-size="6.6" text-anchor="middle" fill="#333" stroke="#333" stroke-width="0.18" transform="rotate(-90 14.8 496.71)">Th2</text>
<rect x="51.2" y="521.6" width="36.9" height="18.51" fill="#0e060e"/>
<rect x="91.2" y="521.6" width="161.3" height="18.51" fill="#0e060e"/>
<text x="45.8" y="526.985" font-size="6.6" text-anchor="end" font-style="italic" fill="#333" stroke="#333" stroke-width="0.18">IL9</text>
<text x="263" y="526.8850000000001" font-size="6.2" fill="#333" stroke="#333" stroke-width="0.18"><tspan font-style="italic">P</tspan> < .001</text>
<text x="45.8" y="533.155" font-size="6.6" text-anchor="end" font-style="italic" fill="#333" stroke="#333" stroke-width="0.18">IRF4</text>
<text x="263" y="533.0550000000001" font-size="6.2" fill="#333" stroke="#333" stroke-width="0.18"><tspan font-style="italic">P</tspan> < .001</text>
<text x="45.8" y="539.325" font-size="6.6" text-anchor="end" font-style="italic" fill="#333" stroke="#333" stroke-width="0.18">SPI1</text>
<text x="263" y="539.2250000000001" font-size="6.2" fill="#333" stroke="#333" stroke-width="0.18"><tspan font-style="italic">P</tspan> = .08</text>
<rect x="51.50" y="521.90" width="4.67" height="5.57" fill="#8a1420"/>
<rect x="56.77" y="521.90" width="4.67" height="5.57" fill="#e2222a"/>
<rect x="62.04" y="521.90" width="4.67" height="5.57" fill="#e2222a"/>
<rect x="67.31" y="521.90" width="4.67" height="5.57" fill="#e2222a"/>
<rect x="72.59" y="521.90" width="4.67" height="5.57" fill="#e2222a"/>
<rect x="77.86" y="521.90" width="4.67" height="5.57" fill="#1a0a1a"/>
<rect x="83.13" y="521.90" width="4.67" height="5.57" fill="#e2222a"/>
<rect x="91.50" y="521.90" width="4.29" height="5.57" fill="#1a0a1a"/>
<rect x="96.39" y="521.90" width="4.29" height="5.57" fill="#2a206c"/>
<rect x="101.28" y="521.90" width="4.29" height="5.57" fill="#2a206c"/>
<rect x="106.16" y="521.90" width="4.29" height="5.57" fill="#2a206c"/>
<rect x="111.05" y="521.90" width="4.29" height="5.57" fill="#1a0a1a"/>
<rect x="115.94" y="521.90" width="4.29" height="5.57" fill="#2a206c"/>
<rect x="120.83" y="521.90" width="4.29" height="5.57" fill="#2a206c"/>
<rect x="125.72" y="521.90" width="4.29" height="5.57" fill="#1a0a1a"/>
<rect x="130.60" y="521.90" width="4.29" height="5.57" fill="#2a206c"/>
<rect x="135.49" y="521.90" width="4.29" height="5.57" fill="#1a0a1a"/>
<rect x="140.38" y="521.90" width="4.29" height="5.57" fill="#2a206c"/>
<rect x="145.27" y="521.90" width="4.29" height="5.57" fill="#1a0a1a"/>
<rect x="150.15" y="521.90" width="4.29" height="5.57" fill="#2a206c"/>
<rect x="155.04" y="521.90" width="4.29" height="5.57" fill="#2a206c"/>
<rect x="159.93" y="521.90" width="4.29" height="5.57" fill="#2a206c"/>
<rect x="164.82" y="521.90" width="4.29" height="5.57" fill="#2a206c"/>
<rect x="169.71" y="521.90" width="4.29" height="5.57" fill="#1a0a1a"/>
<rect x="174.59" y="521.90" width="4.29" height="5.57" fill="#2a206c"/>
<rect x="179.48" y="521.90" width="4.29" height="5.57" fill="#2a206c"/>
<rect x="184.37" y="521.90" width="4.29" height="5.57" fill="#3f319e"/>
<rect x="189.26" y="521.90" width="4.29" height="5.57" fill="#2a206c"/>
<rect x="194.15" y="521.90" width="4.29" height="5.57" fill="#2a206c"/>
<rect x="199.03" y="521.90" width="4.29" height="5.57" fill="#8a1420"/>
<rect x="203.92" y="521.90" width="4.29" height="5.57" fill="#2a206c"/>
<rect x="208.81" y="521.90" width="4.29" height="5.57" fill="#2a206c"/>
<rect x="213.70" y="521.90" width="4.29" height="5.57" fill="#2a206c"/>
<rect x="218.58" y="521.90" width="4.29" height="5.57" fill="#2a206c"/>
<rect x="223.47" y="521.90" width="4.29" height="5.57" fill="#2a206c"/>
<rect x="228.36" y="521.90" width="4.29" height="5.57" fill="#2a206c"/>
<rect x="233.25" y="521.90" width="4.29" height="5.57" fill="#2a206c"/>
<rect x="238.14" y="521.90" width="4.29" height="5.57" fill="#2a206c"/>
<rect x="243.02" y="521.90" width="4.29" height="5.57" fill="#2a206c"/>
<rect x="247.91" y="521.90" width="4.29" height="5.57" fill="#2a206c"/>
<rect x="51.50" y="528.07" width="4.67" height="5.57" fill="#e2222a"/>
<rect x="56.77" y="528.07" width="4.67" height="5.57" fill="#e2222a"/>
<rect x="62.04" y="528.07" width="4.67" height="5.57" fill="#e2222a"/>
<rect x="67.31" y="528.07" width="4.67" height="5.57" fill="#e2222a"/>
<rect x="72.59" y="528.07" width="4.67" height="5.57" fill="#e2222a"/>
<rect x="77.86" y="528.07" width="4.67" height="5.57" fill="#1a0a1a"/>
<rect x="83.13" y="528.07" width="4.67" height="5.57" fill="#8a1420"/>
<rect x="91.50" y="528.07" width="4.29" height="5.57" fill="#1a0a1a"/>
<rect x="96.39" y="528.07" width="4.29" height="5.57" fill="#2a206c"/>
<rect x="101.28" y="528.07" width="4.29" height="5.57" fill="#3f319e"/>
<rect x="106.16" y="528.07" width="4.29" height="5.57" fill="#8a1420"/>
<rect x="111.05" y="528.07" width="4.29" height="5.57" fill="#2a206c"/>
<rect x="115.94" y="528.07" width="4.29" height="5.57" fill="#8a1420"/>
<rect x="120.83" y="528.07" width="4.29" height="5.57" fill="#1a0a1a"/>
<rect x="125.72" y="528.07" width="4.29" height="5.57" fill="#1a0a1a"/>
<rect x="130.60" y="528.07" width="4.29" height="5.57" fill="#2a206c"/>
<rect x="135.49" y="528.07" width="4.29" height="5.57" fill="#1a0a1a"/>
<rect x="140.38" y="528.07" width="4.29" height="5.57" fill="#3f319e"/>
<rect x="145.27" y="528.07" width="4.29" height="5.57" fill="#1a0a1a"/>
<rect x="150.15" y="528.07" width="4.29" height="5.57" fill="#1a0a1a"/>
<rect x="155.04" y="528.07" width="4.29" height="5.57" fill="#2a206c"/>
<rect x="159.93" y="528.07" width="4.29" height="5.57" fill="#2a206c"/>
<rect x="164.82" y="528.07" width="4.29" height="5.57" fill="#8a1420"/>
<rect x="169.71" y="528.07" width="4.29" height="5.57" fill="#1a0a1a"/>
<rect x="174.59" y="528.07" width="4.29" height="5.57" fill="#2a206c"/>
<rect x="179.48" y="528.07" width="4.29" height="5.57" fill="#3f319e"/>
<rect x="184.37" y="528.07" width="4.29" height="5.57" fill="#2a206c"/>
<rect x="189.26" y="528.07" width="4.29" height="5.57" fill="#2a206c"/>
<rect x="194.15" y="528.07" width="4.29" height="5.57" fill="#2a206c"/>
<rect x="199.03" y="528.07" width="4.29" height="5.57" fill="#8a1420"/>
<rect x="203.92" y="528.07" width="4.29" height="5.57" fill="#1a0a1a"/>
<rect x="208.81" y="528.07" width="4.29" height="5.57" fill="#2a206c"/>
<rect x="213.70" y="528.07" width="4.29" height="5.57" fill="#1a0a1a"/>
<rect x="218.58" y="528.07" width="4.29" height="5.57" fill="#3f319e"/>
<rect x="223.47" y="528.07" width="4.29" height="5.57" fill="#3f319e"/>
<rect x="228.36" y="528.07" width="4.29" height="5.57" fill="#1a0a1a"/>
<rect x="233.25" y="528.07" width="4.29" height="5.57" fill="#8a1420"/>
<rect x="238.14" y="528.07" width="4.29" height="5.57" fill="#1a0a1a"/>
<rect x="243.02" y="528.07" width="4.29" height="5.57" fill="#1a0a1a"/>
<rect x="247.91" y="528.07" width="4.29" height="5.57" fill="#1a0a1a"/>
<rect x="51.50" y="534.24" width="4.67" height="5.57" fill="#e2222a"/>
<rect x="56.77" y="534.24" width="4.67" height="5.57" fill="#1a0a1a"/>
<rect x="62.04" y="534.24" width="4.67" height="5.57" fill="#e2222a"/>
<rect x="67.31" y="534.24" width="4.67" height="5.57" fill="#8a1420"/>
<rect x="72.59" y="534.24" width="4.67" height="5.57" fill="#8a1420"/>
<rect x="77.86" y="534.24" width="4.67" height="5.57" fill="#8a1420"/>
<rect x="83.13" y="534.24" width="4.67" height="5.57" fill="#8a1420"/>
<rect x="91.50" y="534.24" width="4.29" height="5.57" fill="#e2222a"/>
<rect x="96.39" y="534.24" width="4.29" height="5.57" fill="#1a0a1a"/>
<rect x="101.28" y="534.24" width="4.29" height="5.57" fill="#8a1420"/>
<rect x="106.16" y="534.24" width="4.29" height="5.57" fill="#8a1420"/>
<rect x="111.05" y="534.24" width="4.29" height="5.57" fill="#1a0a1a"/>
<rect x="115.94" y="534.24" width="4.29" height="5.57" fill="#8a1420"/>
<rect x="120.83" y="534.24" width="4.29" height="5.57" fill="#8a1420"/>
<rect x="125.72" y="534.24" width="4.29" height="5.57" fill="#3f319e"/>
<rect x="130.60" y="534.24" width="4.29" height="5.57" fill="#8a1420"/>
<rect x="135.49" y="534.24" width="4.29" height="5.57" fill="#2a206c"/>
<rect x="140.38" y="534.24" width="4.29" height="5.57" fill="#8a1420"/>
<rect x="145.27" y="534.24" width="4.29" height="5.57" fill="#3f319e"/>
<rect x="150.15" y="534.24" width="4.29" height="5.57" fill="#2a206c"/>
<rect x="155.04" y="534.24" width="4.29" height="5.57" fill="#8a1420"/>
<rect x="159.93" y="534.24" width="4.29" height="5.57" fill="#8a1420"/>
<rect x="164.82" y="534.24" width="4.29" height="5.57" fill="#8a1420"/>
<rect x="169.71" y="534.24" width="4.29" height="5.57" fill="#2a206c"/>
<rect x="174.59" y="534.24" width="4.29" height="5.57" fill="#e2222a"/>
<rect x="179.48" y="534.24" width="4.29" height="5.57" fill="#1a0a1a"/>
<rect x="184.37" y="534.24" width="4.29" height="5.57" fill="#1a0a1a"/>
<rect x="189.26" y="534.24" width="4.29" height="5.57" fill="#8a1420"/>
<rect x="194.15" y="534.24" width="4.29" height="5.57" fill="#1a0a1a"/>
<rect x="199.03" y="534.24" width="4.29" height="5.57" fill="#3f319e"/>
<rect x="203.92" y="534.24" width="4.29" height="5.57" fill="#3f319e"/>
<rect x="208.81" y="534.24" width="4.29" height="5.57" fill="#1a0a1a"/>
<rect x="213.70" y="534.24" width="4.29" height="5.57" fill="#8a1420"/>
<rect x="218.58" y="534.24" width="4.29" height="5.57" fill="#1a0a1a"/>
<rect x="223.47" y="534.24" width="4.29" height="5.57" fill="#e2222a"/>
<rect x="228.36" y="534.24" width="4.29" height="5.57" fill="#8a1420"/>
<rect x="233.25" y="534.24" width="4.29" height="5.57" fill="#3f319e"/>
<rect x="238.14" y="534.24" width="4.29" height="5.57" fill="#3f319e"/>
<rect x="243.02" y="534.24" width="4.29" height="5.57" fill="#3f319e"/>
<rect x="247.91" y="534.24" width="4.29" height="5.57" fill="#1a0a1a"/>
<path d="M19.9 522.10V539.61" stroke="#555" stroke-width="1"/>
<text x="14.8" y="530.855" font-size="6.6" text-anchor="middle" fill="#333" stroke="#333" stroke-width="0.18" transform="rotate(-90 14.8 530.855)">Th9</text>
<rect x="51.2" y="546.5" width="36.9" height="18.51" fill="#0e060e"/>
<rect x="91.2" y="546.5" width="161.3" height="18.51" fill="#0e060e"/>
<text x="45.8" y="551.885" font-size="6.6" text-anchor="end" font-style="italic" fill="#333" stroke="#333" stroke-width="0.18">IL17A</text>
<text x="263" y="551.7850000000001" font-size="6.2" fill="#333" stroke="#333" stroke-width="0.18"><tspan font-style="italic">P</tspan> = .81</text>
<text x="45.8" y="558.055" font-size="6.6" text-anchor="end" font-style="italic" fill="#333" stroke="#333" stroke-width="0.18">RORC</text>
<text x="263" y="557.955" font-size="6.2" fill="#333" stroke="#333" stroke-width="0.18"><tspan font-style="italic">P</tspan> = .71</text>
<text x="45.8" y="564.225" font-size="6.6" text-anchor="end" font-style="italic" fill="#333" stroke="#333" stroke-width="0.18">BNC2</text>
<text x="263" y="564.1250000000001" font-size="6.2" fill="#333" stroke="#333" stroke-width="0.18"><tspan font-style="italic">P</tspan> = .14</text>
<rect x="51.50" y="546.80" width="4.67" height="5.57" fill="#1a0a1a"/>
<rect x="56.77" y="546.80" width="4.67" height="5.57" fill="#2a206c"/>
<rect x="62.04" y="546.80" width="4.67" height="5.57" fill="#8a1420"/>
<rect x="67.31" y="546.80" width="4.67" height="5.57" fill="#1a0a1a"/>
<rect x="72.59" y="546.80" width="4.67" height="5.57" fill="#8a1420"/>
<rect x="77.86" y="546.80" width="4.67" height="5.57" fill="#2a206c"/>
<rect x="83.13" y="546.80" width="4.67" height="5.57" fill="#1a0a1a"/>
<rect x="91.50" y="546.80" width="4.29" height="5.57" fill="#3f319e"/>
<rect x="96.39" y="546.80" width="4.29" height="5.57" fill="#8a1420"/>
<rect x="101.28" y="546.80" width="4.29" height="5.57" fill="#8a1420"/>
<rect x="106.16" y="546.80" width="4.29" height="5.57" fill="#e2222a"/>
<rect x="111.05" y="546.80" width="4.29" height="5.57" fill="#1a0a1a"/>
<rect x="115.94" y="546.80" width="4.29" height="5.57" fill="#2a206c"/>
<rect x="120.83" y="546.80" width="4.29" height="5.57" fill="#3f319e"/>
<rect x="125.72" y="546.80" width="4.29" height="5.57" fill="#1a0a1a"/>
<rect x="130.60" y="546.80" width="4.29" height="5.57" fill="#1a0a1a"/>
<rect x="135.49" y="546.80" width="4.29" height="5.57" fill="#2a206c"/>
<rect x="140.38" y="546.80" width="4.29" height="5.57" fill="#1a0a1a"/>
<rect x="145.27" y="546.80" width="4.29" height="5.57" fill="#8a1420"/>
<rect x="150.15" y="546.80" width="4.29" height="5.57" fill="#8a1420"/>
<rect x="155.04" y="546.80" width="4.29" height="5.57" fill="#1a0a1a"/>
<rect x="159.93" y="546.80" width="4.29" height="5.57" fill="#e2222a"/>
<rect x="164.82" y="546.80" width="4.29" height="5.57" fill="#2a206c"/>
<rect x="169.71" y="546.80" width="4.29" height="5.57" fill="#3f319e"/>
<rect x="174.59" y="546.80" width="4.29" height="5.57" fill="#1a0a1a"/>
<rect x="179.48" y="546.80" width="4.29" height="5.57" fill="#e2222a"/>
<rect x="184.37" y="546.80" width="4.29" height="5.57" fill="#2a206c"/>
<rect x="189.26" y="546.80" width="4.29" height="5.57" fill="#3f319e"/>
<rect x="194.15" y="546.80" width="4.29" height="5.57" fill="#1a0a1a"/>
<rect x="199.03" y="546.80" width="4.29" height="5.57" fill="#1a0a1a"/>
<rect x="203.92" y="546.80" width="4.29" height="5.57" fill="#3f319e"/>
<rect x="208.81" y="546.80" width="4.29" height="5.57" fill="#e2222a"/>
<rect x="213.70" y="546.80" width="4.29" height="5.57" fill="#3f319e"/>
<rect x="218.58" y="546.80" width="4.29" height="5.57" fill="#e2222a"/>
<rect x="223.47" y="546.80" width="4.29" height="5.57" fill="#1a0a1a"/>
<rect x="228.36" y="546.80" width="4.29" height="5.57" fill="#8a1420"/>
<rect x="233.25" y="546.80" width="4.29" height="5.57" fill="#1a0a1a"/>
<rect x="238.14" y="546.80" width="4.29" height="5.57" fill="#3f319e"/>
<rect x="243.02" y="546.80" width="4.29" height="5.57" fill="#1a0a1a"/>
<rect x="247.91" y="546.80" width="4.29" height="5.57" fill="#1a0a1a"/>
<rect x="51.50" y="552.97" width="4.67" height="5.57" fill="#2a206c"/>
<rect x="56.77" y="552.97" width="4.67" height="5.57" fill="#1a0a1a"/>
<rect x="62.04" y="552.97" width="4.67" height="5.57" fill="#8a1420"/>
<rect x="67.31" y="552.97" width="4.67" height="5.57" fill="#2a206c"/>
<rect x="72.59" y="552.97" width="4.67" height="5.57" fill="#1a0a1a"/>
<rect x="77.86" y="552.97" width="4.67" height="5.57" fill="#1a0a1a"/>
<rect x="83.13" y="552.97" width="4.67" height="5.57" fill="#2a206c"/>
<rect x="91.50" y="552.97" width="4.29" height="5.57" fill="#2a206c"/>
<rect x="96.39" y="552.97" width="4.29" height="5.57" fill="#1a0a1a"/>
<rect x="101.28" y="552.97" width="4.29" height="5.57" fill="#2a206c"/>
<rect x="106.16" y="552.97" width="4.29" height="5.57" fill="#8a1420"/>
<rect x="111.05" y="552.97" width="4.29" height="5.57" fill="#1a0a1a"/>
<rect x="115.94" y="552.97" width="4.29" height="5.57" fill="#8a1420"/>
<rect x="120.83" y="552.97" width="4.29" height="5.57" fill="#1a0a1a"/>
<rect x="125.72" y="552.97" width="4.29" height="5.57" fill="#e2222a"/>
<rect x="130.60" y="552.97" width="4.29" height="5.57" fill="#2a206c"/>
<rect x="135.49" y="552.97" width="4.29" height="5.57" fill="#3f319e"/>
<rect x="140.38" y="552.97" width="4.29" height="5.57" fill="#e2222a"/>
<rect x="145.27" y="552.97" width="4.29" height="5.57" fill="#3f319e"/>
<rect x="150.15" y="552.97" width="4.29" height="5.57" fill="#e2222a"/>
<rect x="155.04" y="552.97" width="4.29" height="5.57" fill="#1a0a1a"/>
<rect x="159.93" y="552.97" width="4.29" height="5.57" fill="#8a1420"/>
<rect x="164.82" y="552.97" width="4.29" height="5.57" fill="#8a1420"/>
<rect x="169.71" y="552.97" width="4.29" height="5.57" fill="#2a206c"/>
<rect x="174.59" y="552.97" width="4.29" height="5.57" fill="#e2222a"/>
<rect x="179.48" y="552.97" width="4.29" height="5.57" fill="#3f319e"/>
<rect x="184.37" y="552.97" width="4.29" height="5.57" fill="#1a0a1a"/>
<rect x="189.26" y="552.97" width="4.29" height="5.57" fill="#2a206c"/>
<rect x="194.15" y="552.97" width="4.29" height="5.57" fill="#3f319e"/>
<rect x="199.03" y="552.97" width="4.29" height="5.57" fill="#e2222a"/>
<rect x="203.92" y="552.97" width="4.29" height="5.57" fill="#1a0a1a"/>
<rect x="208.81" y="552.97" width="4.29" height="5.57" fill="#3f319e"/>
<rect x="213.70" y="552.97" width="4.29" height="5.57" fill="#1a0a1a"/>
<rect x="218.58" y="552.97" width="4.29" height="5.57" fill="#3f319e"/>
<rect x="223.47" y="552.97" width="4.29" height="5.57" fill="#1a0a1a"/>
<rect x="228.36" y="552.97" width="4.29" height="5.57" fill="#e2222a"/>
<rect x="233.25" y="552.97" width="4.29" height="5.57" fill="#3f319e"/>
<rect x="238.14" y="552.97" width="4.29" height="5.57" fill="#1a0a1a"/>
<rect x="243.02" y="552.97" width="4.29" height="5.57" fill="#8a1420"/>
<rect x="247.91" y="552.97" width="4.29" height="5.57" fill="#3f319e"/>
<rect x="51.50" y="559.14" width="4.67" height="5.57" fill="#2a206c"/>
<rect x="56.77" y="559.14" width="4.67" height="5.57" fill="#3f319e"/>
<rect x="62.04" y="559.14" width="4.67" height="5.57" fill="#3f319e"/>
<rect x="67.31" y="559.14" width="4.67" height="5.57" fill="#3f319e"/>
<rect x="72.59" y="559.14" width="4.67" height="5.57" fill="#2a206c"/>
<rect x="77.86" y="559.14" width="4.67" height="5.57" fill="#3f319e"/>
<rect x="83.13" y="559.14" width="4.67" height="5.57" fill="#2a206c"/>
<rect x="91.50" y="559.14" width="4.29" height="5.57" fill="#3f319e"/>
<rect x="96.39" y="559.14" width="4.29" height="5.57" fill="#3f319e"/>
<rect x="101.28" y="559.14" width="4.29" height="5.57" fill="#2a206c"/>
<rect x="106.16" y="559.14" width="4.29" height="5.57" fill="#e2222a"/>
<rect x="111.05" y="559.14" width="4.29" height="5.57" fill="#3f319e"/>
<rect x="115.94" y="559.14" width="4.29" height="5.57" fill="#1a0a1a"/>
<rect x="120.83" y="559.14" width="4.29" height="5.57" fill="#3f319e"/>
<rect x="125.72" y="559.14" width="4.29" height="5.57" fill="#1a0a1a"/>
<rect x="130.60" y="559.14" width="4.29" height="5.57" fill="#8a1420"/>
<rect x="135.49" y="559.14" width="4.29" height="5.57" fill="#1a0a1a"/>
<rect x="140.38" y="559.14" width="4.29" height="5.57" fill="#8a1420"/>
<rect x="145.27" y="559.14" width="4.29" height="5.57" fill="#e2222a"/>
<rect x="150.15" y="559.14" width="4.29" height="5.57" fill="#8a1420"/>
<rect x="155.04" y="559.14" width="4.29" height="5.57" fill="#2a206c"/>
<rect x="159.93" y="559.14" width="4.29" height="5.57" fill="#2a206c"/>
<rect x="164.82" y="559.14" width="4.29" height="5.57" fill="#1a0a1a"/>
<rect x="169.71" y="559.14" width="4.29" height="5.57" fill="#8a1420"/>
<rect x="174.59" y="559.14" width="4.29" height="5.57" fill="#2a206c"/>
<rect x="179.48" y="559.14" width="4.29" height="5.57" fill="#8a1420"/>
<rect x="184.37" y="559.14" width="4.29" height="5.57" fill="#e2222a"/>
<rect x="189.26" y="559.14" width="4.29" height="5.57" fill="#1a0a1a"/>
<rect x="194.15" y="559.14" width="4.29" height="5.57" fill="#1a0a1a"/>
<rect x="199.03" y="559.14" width="4.29" height="5.57" fill="#2a206c"/>
<rect x="203.92" y="559.14" width="4.29" height="5.57" fill="#2a206c"/>
<rect x="208.81" y="559.14" width="4.29" height="5.57" fill="#e2222a"/>
<rect x="213.70" y="559.14" width="4.29" height="5.57" fill="#3f319e"/>
<rect x="218.58" y="559.14" width="4.29" height="5.57" fill="#1a0a1a"/>
<rect x="223.47" y="559.14" width="4.29" height="5.57" fill="#8a1420"/>
<rect x="228.36" y="559.14" width="4.29" height="5.57" fill="#1a0a1a"/>
<rect x="233.25" y="559.14" width="4.29" height="5.57" fill="#2a206c"/>
<rect x="238.14" y="559.14" width="4.29" height="5.57" fill="#3f319e"/>
<rect x="243.02" y="559.14" width="4.29" height="5.57" fill="#3f319e"/>
<rect x="247.91" y="559.14" width="4.29" height="5.57" fill="#e2222a"/>
<path d="M19.9 547.00V564.51" stroke="#555" stroke-width="1"/>
<text x="14.8" y="555.755" font-size="6.6" text-anchor="middle" fill="#333" stroke="#333" stroke-width="0.18" transform="rotate(-90 14.8 555.755)">Th17</text>
<rect x="51.2" y="571.4" width="36.9" height="12.34" fill="#0e060e"/>
<rect x="91.2" y="571.4" width="161.3" height="12.34" fill="#0e060e"/>
<text x="45.8" y="576.785" font-size="6.6" text-anchor="end" font-style="italic" fill="#333" stroke="#333" stroke-width="0.18">IL22</text>
<text x="263" y="576.6850000000001" font-size="6.2" fill="#333" stroke="#333" stroke-width="0.18"><tspan font-style="italic">P</tspan> = .23</text>
<text x="45.8" y="582.9549999999999" font-size="6.6" text-anchor="end" font-style="italic" fill="#333" stroke="#333" stroke-width="0.18">FOXO4</text>
<text x="263" y="582.855" font-size="6.2" fill="#333" stroke="#333" stroke-width="0.18"><tspan font-style="italic">P</tspan> < .001</text>
<rect x="51.50" y="571.70" width="4.67" height="5.57" fill="#1a0a1a"/>
<rect x="56.77" y="571.70" width="4.67" height="5.57" fill="#2a206c"/>
<rect x="62.04" y="571.70" width="4.67" height="5.57" fill="#2a206c"/>
<rect x="67.31" y="571.70" width="4.67" height="5.57" fill="#2a206c"/>
<rect x="72.59" y="571.70" width="4.67" height="5.57" fill="#2a206c"/>
<rect x="77.86" y="571.70" width="4.67" height="5.57" fill="#2a206c"/>
<rect x="83.13" y="571.70" width="4.67" height="5.57" fill="#1a0a1a"/>
<rect x="91.50" y="571.70" width="4.29" height="5.57" fill="#1a0a1a"/>
<rect x="96.39" y="571.70" width="4.29" height="5.57" fill="#2a206c"/>
<rect x="101.28" y="571.70" width="4.29" height="5.57" fill="#2a206c"/>
<rect x="106.16" y="571.70" width="4.29" height="5.57" fill="#e2222a"/>
<rect x="111.05" y="571.70" width="4.29" height="5.57" fill="#3f319e"/>
<rect x="115.94" y="571.70" width="4.29" height="5.57" fill="#e2222a"/>
<rect x="120.83" y="571.70" width="4.29" height="5.57" fill="#3f319e"/>
<rect x="125.72" y="571.70" width="4.29" height="5.57" fill="#8a1420"/>
<rect x="130.60" y="571.70" width="4.29" height="5.57" fill="#1a0a1a"/>
<rect x="135.49" y="571.70" width="4.29" height="5.57" fill="#8a1420"/>
<rect x="140.38" y="571.70" width="4.29" height="5.57" fill="#1a0a1a"/>
<rect x="145.27" y="571.70" width="4.29" height="5.57" fill="#1a0a1a"/>
<rect x="150.15" y="571.70" width="4.29" height="5.57" fill="#3f319e"/>
<rect x="155.04" y="571.70" width="4.29" height="5.57" fill="#3f319e"/>
<rect x="159.93" y="571.70" width="4.29" height="5.57" fill="#1a0a1a"/>
<rect x="164.82" y="571.70" width="4.29" height="5.57" fill="#1a0a1a"/>
<rect x="169.71" y="571.70" width="4.29" height="5.57" fill="#8a1420"/>
<rect x="174.59" y="571.70" width="4.29" height="5.57" fill="#1a0a1a"/>
<rect x="179.48" y="571.70" width="4.29" height="5.57" fill="#8a1420"/>
<rect x="184.37" y="571.70" width="4.29" height="5.57" fill="#1a0a1a"/>
<rect x="189.26" y="571.70" width="4.29" height="5.57" fill="#8a1420"/>
<rect x="194.15" y="571.70" width="4.29" height="5.57" fill="#2a206c"/>
<rect x="199.03" y="571.70" width="4.29" height="5.57" fill="#2a206c"/>
<rect x="203.92" y="571.70" width="4.29" height="5.57" fill="#1a0a1a"/>
<rect x="208.81" y="571.70" width="4.29" height="5.57" fill="#e2222a"/>
<rect x="213.70" y="571.70" width="4.29" height="5.57" fill="#3f319e"/>
<rect x="218.58" y="571.70" width="4.29" height="5.57" fill="#1a0a1a"/>
<rect x="223.47" y="571.70" width="4.29" height="5.57" fill="#2a206c"/>
<rect x="228.36" y="571.70" width="4.29" height="5.57" fill="#1a0a1a"/>
<rect x="233.25" y="571.70" width="4.29" height="5.57" fill="#2a206c"/>
<rect x="238.14" y="571.70" width="4.29" height="5.57" fill="#2a206c"/>
<rect x="243.02" y="571.70" width="4.29" height="5.57" fill="#3f319e"/>
<rect x="247.91" y="571.70" width="4.29" height="5.57" fill="#8a1420"/>
<rect x="51.50" y="577.87" width="4.67" height="5.57" fill="#1a0a1a"/>
<rect x="56.77" y="577.87" width="4.67" height="5.57" fill="#2a206c"/>
<rect x="62.04" y="577.87" width="4.67" height="5.57" fill="#2a206c"/>
<rect x="67.31" y="577.87" width="4.67" height="5.57" fill="#1a0a1a"/>
<rect x="72.59" y="577.87" width="4.67" height="5.57" fill="#1a0a1a"/>
<rect x="77.86" y="577.87" width="4.67" height="5.57" fill="#8a1420"/>
<rect x="83.13" y="577.87" width="4.67" height="5.57" fill="#2a206c"/>
<rect x="91.50" y="577.87" width="4.29" height="5.57" fill="#1a0a1a"/>
<rect x="96.39" y="577.87" width="4.29" height="5.57" fill="#8a1420"/>
<rect x="101.28" y="577.87" width="4.29" height="5.57" fill="#1a0a1a"/>
<rect x="106.16" y="577.87" width="4.29" height="5.57" fill="#e2222a"/>
<rect x="111.05" y="577.87" width="4.29" height="5.57" fill="#1a0a1a"/>
<rect x="115.94" y="577.87" width="4.29" height="5.57" fill="#1a0a1a"/>
<rect x="120.83" y="577.87" width="4.29" height="5.57" fill="#1a0a1a"/>
<rect x="125.72" y="577.87" width="4.29" height="5.57" fill="#e2222a"/>
<rect x="130.60" y="577.87" width="4.29" height="5.57" fill="#8a1420"/>
<rect x="135.49" y="577.87" width="4.29" height="5.57" fill="#1a0a1a"/>
<rect x="140.38" y="577.87" width="4.29" height="5.57" fill="#1a0a1a"/>
<rect x="145.27" y="577.87" width="4.29" height="5.57" fill="#8a1420"/>
<rect x="150.15" y="577.87" width="4.29" height="5.57" fill="#8a1420"/>
<rect x="155.04" y="577.87" width="4.29" height="5.57" fill="#8a1420"/>
<rect x="159.93" y="577.87" width="4.29" height="5.57" fill="#8a1420"/>
<rect x="164.82" y="577.87" width="4.29" height="5.57" fill="#1a0a1a"/>
<rect x="169.71" y="577.87" width="4.29" height="5.57" fill="#1a0a1a"/>
<rect x="174.59" y="577.87" width="4.29" height="5.57" fill="#2a206c"/>
<rect x="179.48" y="577.87" width="4.29" height="5.57" fill="#8a1420"/>
<rect x="184.37" y="577.87" width="4.29" height="5.57" fill="#1a0a1a"/>
<rect x="189.26" y="577.87" width="4.29" height="5.57" fill="#1a0a1a"/>
<rect x="194.15" y="577.87" width="4.29" height="5.57" fill="#8a1420"/>
<rect x="199.03" y="577.87" width="4.29" height="5.57" fill="#e2222a"/>
<rect x="203.92" y="577.87" width="4.29" height="5.57" fill="#8a1420"/>
<rect x="208.81" y="577.87" width="4.29" height="5.57" fill="#1a0a1a"/>
<rect x="213.70" y="577.87" width="4.29" height="5.57" fill="#1a0a1a"/>
<rect x="218.58" y="577.87" width="4.29" height="5.57" fill="#1a0a1a"/>
<rect x="223.47" y="577.87" width="4.29" height="5.57" fill="#1a0a1a"/>
<rect x="228.36" y="577.87" width="4.29" height="5.57" fill="#e2222a"/>
<rect x="233.25" y="577.87" width="4.29" height="5.57" fill="#1a0a1a"/>
<rect x="238.14" y="577.87" width="4.29" height="5.57" fill="#1a0a1a"/>
<rect x="243.02" y="577.87" width="4.29" height="5.57" fill="#8a1420"/>
<rect x="247.91" y="577.87" width="4.29" height="5.57" fill="#3f319e"/>
<path d="M19.9 571.90V583.24" stroke="#555" stroke-width="1"/>
<text x="14.8" y="577.5699999999999" font-size="6.6" text-anchor="middle" fill="#333" stroke="#333" stroke-width="0.18" transform="rotate(-90 14.8 577.5699999999999)">Th22</text>
<rect x="51.2" y="590.8" width="36.9" height="6.17" fill="#0e060e"/>
<rect x="91.2" y="590.8" width="161.3" height="6.17" fill="#0e060e"/>
<text x="45.8" y="596.185" font-size="6.6" text-anchor="end" font-style="italic" fill="#333" stroke="#333" stroke-width="0.18">FOXP3</text>
<text x="263" y="596.085" font-size="6.2" fill="#333" stroke="#333" stroke-width="0.18"><tspan font-style="italic">P</tspan> = .50</text>
<rect x="51.50" y="591.10" width="4.67" height="5.57" fill="#8a1420"/>
<rect x="56.77" y="591.10" width="4.67" height="5.57" fill="#1a0a1a"/>
<rect x="62.04" y="591.10" width="4.67" height="5.57" fill="#2a206c"/>
<rect x="67.31" y="591.10" width="4.67" height="5.57" fill="#8a1420"/>
<rect x="72.59" y="591.10" width="4.67" height="5.57" fill="#2a206c"/>
<rect x="77.86" y="591.10" width="4.67" height="5.57" fill="#2a206c"/>
<rect x="83.13" y="591.10" width="4.67" height="5.57" fill="#e2222a"/>
<rect x="91.50" y="591.10" width="4.29" height="5.57" fill="#2a206c"/>
<rect x="96.39" y="591.10" width="4.29" height="5.57" fill="#3f319e"/>
<rect x="101.28" y="591.10" width="4.29" height="5.57" fill="#3f319e"/>
<rect x="106.16" y="591.10" width="4.29" height="5.57" fill="#8a1420"/>
<rect x="111.05" y="591.10" width="4.29" height="5.57" fill="#2a206c"/>
<rect x="115.94" y="591.10" width="4.29" height="5.57" fill="#3f319e"/>
<rect x="120.83" y="591.10" width="4.29" height="5.57" fill="#2a206c"/>
<rect x="125.72" y="591.10" width="4.29" height="5.57" fill="#1a0a1a"/>
<rect x="130.60" y="591.10" width="4.29" height="5.57" fill="#3f319e"/>
<rect x="135.49" y="591.10" width="4.29" height="5.57" fill="#1a0a1a"/>
<rect x="140.38" y="591.10" width="4.29" height="5.57" fill="#8a1420"/>
<rect x="145.27" y="591.10" width="4.29" height="5.57" fill="#1a0a1a"/>
<rect x="150.15" y="591.10" width="4.29" height="5.57" fill="#e2222a"/>
<rect x="155.04" y="591.10" width="4.29" height="5.57" fill="#1a0a1a"/>
<rect x="159.93" y="591.10" width="4.29" height="5.57" fill="#2a206c"/>
<rect x="164.82" y="591.10" width="4.29" height="5.57" fill="#2a206c"/>
<rect x="169.71" y="591.10" width="4.29" height="5.57" fill="#1a0a1a"/>
<rect x="174.59" y="591.10" width="4.29" height="5.57" fill="#3f319e"/>
<rect x="179.48" y="591.10" width="4.29" height="5.57" fill="#8a1420"/>
<rect x="184.37" y="591.10" width="4.29" height="5.57" fill="#1a0a1a"/>
<rect x="189.26" y="591.10" width="4.29" height="5.57" fill="#8a1420"/>
<rect x="194.15" y="591.10" width="4.29" height="5.57" fill="#2a206c"/>
<rect x="199.03" y="591.10" width="4.29" height="5.57" fill="#1a0a1a"/>
<rect x="203.92" y="591.10" width="4.29" height="5.57" fill="#e2222a"/>
<rect x="208.81" y="591.10" width="4.29" height="5.57" fill="#3f319e"/>
<rect x="213.70" y="591.10" width="4.29" height="5.57" fill="#e2222a"/>
<rect x="218.58" y="591.10" width="4.29" height="5.57" fill="#3f319e"/>
<rect x="223.47" y="591.10" width="4.29" height="5.57" fill="#e2222a"/>
<rect x="228.36" y="591.10" width="4.29" height="5.57" fill="#1a0a1a"/>
<rect x="233.25" y="591.10" width="4.29" height="5.57" fill="#3f319e"/>
<rect x="238.14" y="591.10" width="4.29" height="5.57" fill="#1a0a1a"/>
<rect x="243.02" y="591.10" width="4.29" height="5.57" fill="#e2222a"/>
<rect x="247.91" y="591.10" width="4.29" height="5.57" fill="#8a1420"/>
<path d="M19.9 591.30V596.47" stroke="#555" stroke-width="1"/>
<text x="14.8" y="593.885" font-size="6.6" text-anchor="middle" fill="#333" stroke="#333" stroke-width="0.18" transform="rotate(-90 14.8 593.885)">Treg</text>
<rect x="259.6" y="450.2" width="30" height="149" fill="none" stroke="#444" stroke-width="0.8"/>
<text x="340" y="220.4" font-size="12" font-weight="bold" fill="#111">E</text>
<text x="402" y="221.6" font-size="7.4" text-anchor="middle" fill="#333" textLength="34.7" lengthAdjust="spacingAndGlyphs"><tspan font-style="italic">IFNG</tspan> (CD4)</text>
<text x="383" y="232.2" font-size="7.6" fill="#333" textLength="37.4" lengthAdjust="spacingAndGlyphs"><tspan font-style="italic">P</tspan> &lt; 2.2×10<tspan font-size="4.2" dy="-3.2">−16</tspan></text>
<path d="M373.5 231.3V293.5H429.6M370.1 290.5H373.5M370.1 278.5H373.5M370.1 266.5H373.5M370.1 254.5H373.5M370.1 242.5H373.5M388.5 293.5V295.7M414.5 293.5V295.7" stroke="#222" stroke-width="1" fill="none"/>
<text x="367.5" y="292.4" font-size="6.8" text-anchor="end" fill="#444" stroke="#444" stroke-width="0.18">0</text>
<text x="367.5" y="280.45" font-size="6.8" text-anchor="end" fill="#444" stroke="#444" stroke-width="0.18">1</text>
<text x="367.5" y="268.5" font-size="6.8" text-anchor="end" fill="#444" stroke="#444" stroke-width="0.18">2</text>
<text x="367.5" y="256.55" font-size="6.8" text-anchor="end" fill="#444" stroke="#444" stroke-width="0.18">3</text>
<text x="367.5" y="244.6" font-size="6.8" text-anchor="end" fill="#444" stroke="#444" stroke-width="0.18">4</text>
<rect x="377.6" y="274.5" width="22.0" height="4.2" fill="#1a1a1a" fill-opacity="0.15" filter="url(#vb)"/>
<path d="M377.6 290.5H399.6" stroke="#3a3030" stroke-width="0.9"/>
<path d="M384.7 275.7h0.8M380.9 275.1h0.8M391.9 274.8h0.8M379.2 274.1h0.8M389.4 275.1h0.8M385.6 274.2h0.8M378.9 278.5h0.8M388.8 276.4h0.8M378.4 274.1h0.8M387.1 275.5h0.8M379.1 274.3h0.8M379.6 278.1h0.8M386.9 276.4h0.8M395.8 277.5h0.8M380.3 276.0h0.8M382.5 275.9h0.8M391.4 278.6h0.8M398.4 277.6h0.8M390.3 277.3h0.8M386.3 274.3h0.8M399.1 275.0h0.8M378.6 277.9h0.8M396.5 274.8h0.8M384.0 278.0h0.8M380.8 275.7h0.8M380.2 278.0h0.8M384.4 278.6h0.8M395.6 274.5h0.8M381.6 277.6h0.8M390.4 277.6h0.8M391.7 274.0h0.8M385.8 274.5h0.8M389.7 277.3h0.8M379.0 274.1h0.8M378.9 276.1h0.8M382.1 275.4h0.8M392.6 277.7h0.8M387.0 274.1h0.8M384.5 275.3h0.8M390.5 274.0h0.8M387.6 274.4h0.8M384.2 277.2h0.8M395.1 276.9h0.8M393.0 277.9h0.8M383.0 278.0h0.8M390.2 278.3h0.8M389.2 277.2h0.8M396.9 275.8h0.8M393.6 278.6h0.8M383.9 275.4h0.8M399.2 277.0h0.8M380.2 277.2h0.8M386.8 274.7h0.8M394.3 276.3h0.8M380.9 277.1h0.8M388.4 276.3h0.8M378.5 275.3h0.8M392.3 278.4h0.8M394.4 274.0h0.8M390.2 278.5h0.8M396.9 275.1h0.8M384.5 274.6h0.8M392.9 278.6h0.8M390.7 274.9h0.8M390.4 276.9h0.8M387.6 275.9h0.8M396.1 278.6h0.8M398.4 278.4h0.8M388.0 277.8h0.8M392.2 274.1h0.8M378.9 277.7h0.8M393.0 275.0h0.8M391.8 274.2h0.8M399.4 274.1h0.8M395.7 277.0h0.8M383.9 277.0h0.8M386.1 276.1h0.8M392.3 274.9h0.8M378.1 278.1h0.8M387.8 275.1h0.8M381.3 274.8h0.8M380.2 274.5h0.8M378.9 278.5h0.8M394.5 274.1h0.8M380.4 278.2h0.8M383.0 277.0h0.8M386.2 275.7h0.8M396.8 274.3h0.8M379.4 277.0h0.8M387.5 274.2h0.8M389.7 276.0h0.8M397.0 277.2h0.8M395.6 277.1h0.8M396.6 277.8h0.8M383.7 278.3h0.8M386.7 277.9h0.8M385.5 275.4h0.8M397.1 273.9h0.8M398.7 277.9h0.8M380.9 278.4h0.8M381.5 273.9h0.8M382.7 276.1h0.8M382.7 276.7h0.8M388.3 277.5h0.8M390.6 275.8h0.8M383.4 274.7h0.8M377.7 276.5h0.8M386.8 276.6h0.8M385.7 278.4h0.8M390.1 274.3h0.8M398.6 278.5h0.8M392.8 276.3h0.8M388.9 274.6h0.8M391.2 278.0h0.8M392.5 275.2h0.8M378.8 274.1h0.8M397.4 275.6h0.8M394.8 274.9h0.8M396.8 278.1h0.8M395.2 276.6h0.8M386.2 277.9h0.8M386.4 274.6h0.8M379.9 277.2h0.8M391.6 276.5h0.8M379.0 273.9h0.8M379.1 274.6h0.8M382.2 274.0h0.8M381.2 276.5h0.8M385.1 276.3h0.8M378.8 275.2h0.8M377.6 276.3h0.8M380.9 278.0h0.8M379.8 277.0h0.8M385.6 279.4h0.8M378.2 277.3h0.8M396.8 267.6h0.8M391.1 268.9h0.8M380.9 274.7h0.8M383.1 276.1h0.8M385.2 277.6h0.8M385.6 280.2h0.8M380.3 278.2h0.8M396.3 272.7h0.8M399.4 271.2h0.8M387.9 277.4h0.8M388.2 272.6h0.8M379.5 272.8h0.8M379.8 273.9h0.8M385.1 274.3h0.8M383.4 273.0h0.8M395.8 277.4h0.8M381.2 273.8h0.8M378.1 278.1h0.8M398.5 276.2h0.8M389.2 272.9h0.8M380.8 274.0h0.8M389.5 278.0h0.8M378.2 269.4h0.8M389.2 274.5h0.8M399.1 275.3h0.8M396.6 281.9h0.8M392.9 275.6h0.8M383.3 278.4h0.8M385.7 274.2h0.8M381.3 276.5h0.8M394.6 272.2h0.8M389.3 274.5h0.8M394.7 272.5h0.8M384.9 277.5h0.8M382.5 274.5h0.8M395.5 273.3h0.8M399.3 272.0h0.8M396.4 277.5h0.8M395.3 271.7h0.8M395.6 271.2h0.8M393.9 274.0h0.8M382.6 268.3h0.8M389.0 269.0h0.8M385.4 275.9h0.8M378.2 275.8h0.8M378.2 279.2h0.8M383.7 271.8h0.8M383.3 269.6h0.8M392.8 276.3h0.8M398.6 274.0h0.8M387.4 273.6h0.8M398.2 273.4h0.8M399.3 279.1h0.8M398.6 272.7h0.8M385.6 275.3h0.8M382.5 274.3h0.8M382.6 276.9h0.8M381.9 274.8h0.8M382.1 272.8h0.8M391.3 274.6h0.8M397.4 273.6h0.8M396.1 281.3h0.8M388.1 279.3h0.8M392.0 276.7h0.8M395.2 274.5h0.8M379.5 278.6h0.8M392.1 274.0h0.8M397.6 274.7h0.8M394.8 281.0h0.8M394.1 276.4h0.8M388.1 278.6h0.8M381.5 280.7h0.8M395.0 279.6h0.8M384.9 277.8h0.8M395.2 279.0h0.8M399.0 278.9h0.8M386.3 281.1h0.8M386.4 276.4h0.8M398.4 277.2h0.8M393.5 274.9h0.8M381.3 275.2h0.8M380.4 278.5h0.8M380.9 270.5h0.8M397.5 282.6h0.8M395.3 277.0h0.8M380.8 278.1h0.8M395.8 277.0h0.8M399.2 279.8h0.8M392.1 271.9h0.8M385.3 277.3h0.8M389.7 281.1h0.8M380.5 274.9h0.8M377.9 280.1h0.8M399.0 275.6h0.8M391.9 277.6h0.8M389.2 275.3h0.8M398.1 269.0h0.8M387.1 272.1h0.8M396.8 276.9h0.8M395.8 272.2h0.8M382.2 274.6h0.8M383.1 277.3h0.8M384.0 279.5h0.8M382.9 275.1h0.8M390.5 275.4h0.8M383.3 258.5h0.8M386.8 257.9h0.8M380.5 267.2h0.8M397.6 271.0h0.8M385.4 261.0h0.8M387.7 275.5h0.8M390.4 273.9h0.8M397.5 267.9h0.8M386.9 267.1h0.8M397.8 273.5h0.8M388.6 266.9h0.8M389.3 261.0h0.8M389.1 270.7h0.8M378.0 269.9h0.8M387.3 272.5h0.8M381.6 271.7h0.8M377.7 257.6h0.8M395.2 270.6h0.8M381.4 258.3h0.8M388.0 260.3h0.8M393.6 267.4h0.8M389.8 272.1h0.8M384.8 257.0h0.8M389.0 269.0h0.8M389.8 270.1h0.8M394.9 271.4h0.8M379.9 256.8h0.8M389.9 269.1h0.8M383.1 271.8h0.8M383.7 269.3h0.8M394.6 273.7h0.8M388.8 267.0h0.8M390.0 269.7h0.8M394.3 271.7h0.8M397.7 263.9h0.8M387.4 262.8h0.8M391.1 275.1h0.8M388.7 268.4h0.8M388.9 272.0h0.8M392.8 259.5h0.8M387.6 263.9h0.8M389.3 272.3h0.8M388.1 272.0h0.8M398.3 273.4h0.8M393.0 256.4h0.8M396.9 271.7h0.8M398.3 267.2h0.8M383.3 269.3h0.8M389.9 266.6h0.8M398.4 267.3h0.8" stroke="#2a2a2a" stroke-width="0.8" stroke-opacity="0.6"/>
<path d="M388.5 290V246.98" stroke="#4a4a4a" stroke-width="0.8"/>
<text x="388.6" y="304.2" font-size="7.6" text-anchor="middle" fill="#333" stroke="#333" stroke-width="0.18">HD</text>
<rect x="403.5" y="267.3" width="22.0" height="12.5" fill="#1a1a1a" fill-opacity="0.25" filter="url(#vb)"/>
<rect x="403.5" y="257.7" width="22.0" height="9.6" fill="#1a1a1a" fill-opacity="0.06" filter="url(#vb)"/>
<path d="M403.5 290.5H425.5" stroke="#3a3030" stroke-width="0.9"/>
<path d="M422.0 270.5h0.8M406.5 278.4h0.8M406.2 270.3h0.8M413.2 276.1h0.8M405.1 273.1h0.8M408.8 275.6h0.8M405.1 276.1h0.8M418.2 273.2h0.8M420.7 274.0h0.8M423.2 275.3h0.8M406.9 270.5h0.8M419.3 272.4h0.8M418.0 279.4h0.8M406.6 276.7h0.8M422.9 274.1h0.8M424.8 268.3h0.8M408.3 268.7h0.8M424.5 273.0h0.8M412.3 279.7h0.8M414.2 270.1h0.8M425.3 274.5h0.8M421.8 272.6h0.8M407.1 271.0h0.8M413.0 271.9h0.8M414.8 273.8h0.8M411.0 268.4h0.8M407.8 275.0h0.8M410.5 274.9h0.8M419.4 269.2h0.8M403.9 277.4h0.8M415.7 276.1h0.8M413.2 269.4h0.8M403.9 279.0h0.8M410.8 269.3h0.8M417.2 271.1h0.8M414.8 274.4h0.8M404.9 276.2h0.8M425.2 270.0h0.8M420.8 268.4h0.8M424.9 278.1h0.8M405.8 273.8h0.8M409.3 273.0h0.8M404.4 273.6h0.8M420.6 275.7h0.8M409.4 277.9h0.8M406.4 272.5h0.8M412.8 269.7h0.8M423.6 279.0h0.8M421.5 277.0h0.8M409.2 269.6h0.8M406.8 269.9h0.8M423.7 271.5h0.8M416.1 279.5h0.8M418.9 270.8h0.8M405.5 267.6h0.8M404.8 267.3h0.8M418.6 271.0h0.8M412.9 279.2h0.8M405.1 269.3h0.8M424.1 277.1h0.8M417.5 271.7h0.8M421.1 267.9h0.8M405.3 270.9h0.8M422.3 278.2h0.8M405.0 276.2h0.8M422.5 268.3h0.8M413.5 278.0h0.8M411.0 272.2h0.8M415.7 274.6h0.8M423.9 277.8h0.8M409.4 272.0h0.8M406.3 279.3h0.8M415.1 278.5h0.8M408.7 275.1h0.8M405.9 278.9h0.8M407.1 279.1h0.8M404.6 272.6h0.8M407.9 270.5h0.8M410.4 268.8h0.8M410.2 278.2h0.8M420.2 274.4h0.8M409.9 275.9h0.8M414.5 272.3h0.8M407.4 273.7h0.8M411.1 268.1h0.8M403.9 275.1h0.8M409.0 279.1h0.8M403.8 271.1h0.8M419.6 277.9h0.8M415.6 271.9h0.8M407.7 273.5h0.8M413.9 268.4h0.8M424.1 272.9h0.8M405.8 272.1h0.8M421.5 276.5h0.8M413.0 272.9h0.8M414.4 276.7h0.8M421.9 270.4h0.8M412.1 273.4h0.8M414.6 278.2h0.8M418.6 276.9h0.8M425.1 275.2h0.8M411.0 270.6h0.8M421.8 277.6h0.8M419.0 270.9h0.8M417.5 271.6h0.8M412.4 278.8h0.8M411.1 271.5h0.8M404.7 278.7h0.8M406.4 278.3h0.8M405.1 272.4h0.8M419.8 276.8h0.8M409.1 268.8h0.8M407.1 273.8h0.8M405.4 275.8h0.8M422.0 269.8h0.8M422.7 279.5h0.8M418.3 270.7h0.8M409.7 279.2h0.8M408.8 278.0h0.8M409.9 267.9h0.8M413.6 271.3h0.8M407.0 277.0h0.8M413.3 278.4h0.8M409.3 267.6h0.8M424.7 271.5h0.8M424.9 269.5h0.8M415.5 278.1h0.8M408.9 272.0h0.8M424.7 275.4h0.8M410.3 276.9h0.8M411.3 275.7h0.8M403.5 272.1h0.8M411.9 275.5h0.8M413.9 275.0h0.8M414.6 278.1h0.8M407.9 269.4h0.8M414.6 271.7h0.8M403.6 269.7h0.8M409.3 274.4h0.8M405.5 269.2h0.8M412.3 273.3h0.8M404.4 272.4h0.8M404.0 272.6h0.8M410.2 270.6h0.8M408.6 274.9h0.8M416.4 278.6h0.8M415.1 279.4h0.8M420.0 277.3h0.8M418.0 279.3h0.8M419.3 268.7h0.8M422.8 273.8h0.8M412.1 270.3h0.8M410.7 279.8h0.8M425.2 273.9h0.8M406.8 268.7h0.8M419.4 272.1h0.8M417.7 274.5h0.8M404.5 274.0h0.8M421.9 278.6h0.8M423.1 277.9h0.8M417.3 277.8h0.8M419.6 275.1h0.8M421.4 275.0h0.8M406.6 268.8h0.8M415.0 277.9h0.8M414.6 276.7h0.8M421.9 276.4h0.8M421.2 277.8h0.8M421.7 276.2h0.8M416.3 276.9h0.8M423.1 273.8h0.8M418.5 279.4h0.8M418.8 268.2h0.8M408.6 275.2h0.8M404.2 268.1h0.8M406.4 271.2h0.8M411.4 271.4h0.8M405.8 273.9h0.8M421.9 268.0h0.8M415.8 278.4h0.8M417.3 271.5h0.8M417.3 276.2h0.8M418.5 271.4h0.8M414.3 270.7h0.8M403.6 277.8h0.8M421.0 277.3h0.8M420.0 279.5h0.8M414.6 277.0h0.8M415.3 278.9h0.8M418.0 274.8h0.8M405.0 267.6h0.8M419.7 275.3h0.8M409.0 275.9h0.8M405.1 274.0h0.8M409.3 276.3h0.8M419.5 270.7h0.8M408.0 270.8h0.8M419.8 277.8h0.8M425.0 276.8h0.8M414.4 271.4h0.8M411.9 268.0h0.8M414.0 271.7h0.8M418.5 274.4h0.8M420.4 267.6h0.8M417.1 279.8h0.8M417.6 279.1h0.8M405.2 270.1h0.8M406.7 274.7h0.8M409.1 279.3h0.8M419.9 273.0h0.8M410.2 267.4h0.8M416.0 273.3h0.8M403.8 275.5h0.8M404.8 278.7h0.8M409.4 278.9h0.8M418.3 268.6h0.8M418.7 273.7h0.8M418.4 268.1h0.8M409.9 279.2h0.8M414.9 276.8h0.8M413.7 279.2h0.8M413.8 274.9h0.8M406.1 279.1h0.8M423.2 276.6h0.8M407.9 274.7h0.8M425.0 276.0h0.8M424.1 279.2h0.8M403.9 279.4h0.8M413.6 267.7h0.8M421.5 277.6h0.8M424.8 273.5h0.8M413.4 274.8h0.8M409.4 273.2h0.8M408.1 278.8h0.8M424.3 275.9h0.8M408.1 278.5h0.8M416.3 273.0h0.8M406.6 268.3h0.8M415.0 272.3h0.8M424.5 269.1h0.8M406.4 277.2h0.8M421.5 279.6h0.8M414.7 273.1h0.8M423.0 273.7h0.8M419.0 272.7h0.8M408.6 275.1h0.8M423.2 272.0h0.8M414.2 270.7h0.8M404.0 268.4h0.8M403.6 276.0h0.8M414.3 274.2h0.8M413.4 269.5h0.8M410.1 277.0h0.8M406.6 278.4h0.8M411.1 275.9h0.8M410.5 278.7h0.8M422.0 270.2h0.8M403.5 269.6h0.8M420.0 275.9h0.8M422.0 278.2h0.8M406.1 278.8h0.8M423.9 276.8h0.8M419.2 278.8h0.8M423.3 274.5h0.8M409.9 272.6h0.8M411.7 276.8h0.8M412.1 279.1h0.8M425.5 271.1h0.8M416.5 279.2h0.8M411.4 277.3h0.8M412.9 276.3h0.8M409.6 275.2h0.8M404.6 278.6h0.8M405.7 274.6h0.8M421.9 275.9h0.8M409.8 270.4h0.8M424.1 272.9h0.8M409.0 268.6h0.8M409.3 271.6h0.8M414.7 270.3h0.8M407.7 272.6h0.8M411.7 274.3h0.8M424.5 269.6h0.8M423.0 271.6h0.8M421.4 267.9h0.8M417.4 270.7h0.8M423.6 271.0h0.8M424.2 276.5h0.8M415.6 269.7h0.8M419.3 275.0h0.8M404.6 278.2h0.8M419.6 279.0h0.8M413.4 277.7h0.8M420.1 276.5h0.8M417.7 271.4h0.8M409.8 276.3h0.8M404.6 279.0h0.8M423.9 270.3h0.8M406.3 272.9h0.8M413.9 279.5h0.8M411.1 279.2h0.8M410.1 278.2h0.8M419.8 275.4h0.8M425.0 269.1h0.8M409.2 267.9h0.8M417.9 272.2h0.8M410.1 276.9h0.8M415.8 274.5h0.8M412.2 275.3h0.8M407.2 275.7h0.8M407.1 279.7h0.8M408.1 272.5h0.8M423.4 269.5h0.8M414.4 270.7h0.8M408.3 278.6h0.8M423.4 273.2h0.8M425.4 277.7h0.8M413.4 270.9h0.8M406.6 274.2h0.8M407.7 268.1h0.8M405.5 269.9h0.8M411.0 278.4h0.8M405.5 275.9h0.8M408.8 268.4h0.8M409.2 274.1h0.8M416.0 274.4h0.8M423.0 274.3h0.8M420.0 270.2h0.8M412.6 268.1h0.8M412.6 273.2h0.8M415.0 267.7h0.8M411.8 272.4h0.8M410.9 278.5h0.8M404.9 269.6h0.8M409.6 274.6h0.8M424.8 279.2h0.8M406.3 267.6h0.8M414.6 279.4h0.8M417.4 272.6h0.8M422.5 273.8h0.8M408.3 268.8h0.8M409.5 274.9h0.8M409.0 277.1h0.8M412.3 276.4h0.8M413.3 277.3h0.8M424.5 272.8h0.8M422.2 275.4h0.8M422.7 270.4h0.8M404.0 276.8h0.8M404.2 275.4h0.8M419.1 276.7h0.8M423.2 267.5h0.8M413.9 269.3h0.8M416.4 269.2h0.8M403.5 272.1h0.8M412.1 274.8h0.8M423.9 278.0h0.8M421.7 269.4h0.8M422.3 273.7h0.8M424.9 279.4h0.8M409.0 277.7h0.8M405.9 278.6h0.8M406.9 270.8h0.8M415.0 268.5h0.8M418.5 277.3h0.8M424.2 269.8h0.8M419.4 275.8h0.8M417.7 271.3h0.8M420.3 269.0h0.8M413.6 272.0h0.8M415.6 269.8h0.8M404.4 275.1h0.8M420.7 279.7h0.8M408.6 273.4h0.8M423.7 272.5h0.8M417.7 277.5h0.8M410.2 275.0h0.8M406.3 275.9h0.8M409.0 279.5h0.8M417.5 275.9h0.8M418.9 275.0h0.8M406.0 273.9h0.8M405.0 271.0h0.8M415.0 274.8h0.8M416.3 267.5h0.8M412.0 269.6h0.8M408.4 268.3h0.8M416.7 271.1h0.8M403.7 271.4h0.8M410.1 273.1h0.8M413.6 269.8h0.8M424.6 275.3h0.8M417.7 272.4h0.8M422.9 271.3h0.8M414.0 273.3h0.8M408.7 276.3h0.8M408.9 278.9h0.8M424.6 278.7h0.8M419.0 275.4h0.8M410.3 272.6h0.8M404.0 270.3h0.8M414.5 270.9h0.8M418.3 276.0h0.8M412.7 268.2h0.8M409.2 276.4h0.8M418.2 270.9h0.8M423.9 278.9h0.8M408.5 270.4h0.8M404.3 271.4h0.8M410.9 267.8h0.8M412.8 268.6h0.8M418.5 271.2h0.8M407.9 269.3h0.8M421.0 270.6h0.8M419.8 272.2h0.8M414.6 277.2h0.8M408.0 273.4h0.8M424.8 268.6h0.8M410.4 276.8h0.8M421.5 267.6h0.8M408.6 273.0h0.8M408.4 274.9h0.8M420.2 279.8h0.8M410.0 274.9h0.8M424.4 277.6h0.8M414.4 271.6h0.8M407.6 268.6h0.8M408.4 268.4h0.8M412.7 272.1h0.8M418.1 275.0h0.8M424.4 278.5h0.8M406.7 271.2h0.8M412.2 272.9h0.8M408.2 270.9h0.8M424.9 275.1h0.8M406.6 268.7h0.8M404.6 277.2h0.8M404.8 276.0h0.8M412.2 276.5h0.8M423.3 272.0h0.8M422.9 268.6h0.8M419.6 277.7h0.8M425.4 271.9h0.8M424.0 270.2h0.8M410.7 277.0h0.8M407.6 279.1h0.8M424.1 272.7h0.8M419.9 269.4h0.8M404.2 268.8h0.8M418.1 270.7h0.8M411.8 274.6h0.8M411.7 274.5h0.8M410.8 273.2h0.8M407.2 268.5h0.8M403.6 276.0h0.8M409.7 276.3h0.8M411.2 272.2h0.8M424.5 267.7h0.8M406.2 277.5h0.8M424.7 279.5h0.8M408.1 278.4h0.8M411.3 272.8h0.8M421.6 272.3h0.8M421.6 277.5h0.8M413.0 277.5h0.8M404.6 272.4h0.8M413.9 271.7h0.8M411.7 271.2h0.8M423.7 270.7h0.8M407.7 279.1h0.8M411.5 273.8h0.8M423.2 269.4h0.8M404.2 267.8h0.8M412.5 275.8h0.8M421.4 269.2h0.8M420.4 271.7h0.8M404.4 268.2h0.8M404.3 277.0h0.8M404.9 271.1h0.8M423.7 269.3h0.8M409.2 273.9h0.8M419.9 278.6h0.8M423.3 277.4h0.8M411.0 277.9h0.8M409.5 278.7h0.8M424.6 277.9h0.8M417.1 272.1h0.8M409.3 278.5h0.8M419.3 270.3h0.8M410.5 270.6h0.8M409.6 269.6h0.8M403.6 269.8h0.8M420.1 270.9h0.8M423.7 268.2h0.8M417.4 267.8h0.8M424.3 272.0h0.8M404.0 267.7h0.8M408.6 278.5h0.8M414.0 278.6h0.8M424.5 279.0h0.8M424.5 277.3h0.8M412.0 275.1h0.8M409.0 274.1h0.8M413.0 271.3h0.8M414.4 270.5h0.8M423.9 278.8h0.8M407.5 274.8h0.8M421.2 273.0h0.8M419.7 275.1h0.8M421.6 278.4h0.8M420.5 272.4h0.8M416.9 275.1h0.8M410.7 271.3h0.8M410.5 273.6h0.8M411.5 267.8h0.8M420.7 268.0h0.8M405.2 278.9h0.8M407.8 270.3h0.8M420.1 270.8h0.8M408.9 276.1h0.8M404.9 278.4h0.8M404.2 273.8h0.8M415.7 275.4h0.8M410.7 270.6h0.8M425.1 268.3h0.8M422.9 275.0h0.8M425.2 276.2h0.8M409.3 273.6h0.8M405.3 271.1h0.8M405.6 269.9h0.8M414.5 272.6h0.8M419.1 276.1h0.8M413.3 275.6h0.8M408.7 269.2h0.8M412.7 273.3h0.8M417.1 279.2h0.8M418.3 274.6h0.8M420.0 276.9h0.8M422.1 271.5h0.8M418.1 278.9h0.8M406.2 276.4h0.8M422.0 278.6h0.8M410.0 273.9h0.8M416.0 267.5h0.8M411.7 273.0h0.8M419.7 275.0h0.8M407.9 268.1h0.8M408.9 278.7h0.8M408.9 275.4h0.8M406.9 269.7h0.8M423.0 279.8h0.8M416.2 270.2h0.8M410.7 275.3h0.8M412.2 279.6h0.8M425.3 276.7h0.8M414.7 274.1h0.8M408.6 275.0h0.8M421.3 273.4h0.8M417.9 279.2h0.8M425.3 277.1h0.8M405.8 267.6h0.8M413.9 274.3h0.8M421.5 273.9h0.8M422.0 278.8h0.8M423.6 276.3h0.8M404.4 267.9h0.8M410.0 271.2h0.8M406.1 273.5h0.8M407.7 279.2h0.8M424.9 274.9h0.8M416.3 270.1h0.8M424.0 274.4h0.8M411.7 272.4h0.8M422.6 268.5h0.8M413.4 271.7h0.8M409.2 271.9h0.8M420.6 279.4h0.8M424.3 279.5h0.8M405.8 270.2h0.8M416.6 274.7h0.8M417.1 268.9h0.8M408.3 269.5h0.8M411.6 268.4h0.8M406.6 275.1h0.8M408.0 267.3h0.8M409.1 270.4h0.8M416.7 268.7h0.8M417.8 278.0h0.8M408.0 270.0h0.8M403.8 274.5h0.8M410.7 267.6h0.8M418.4 267.4h0.8M407.6 277.1h0.8M410.4 274.6h0.8M408.0 276.4h0.8M421.0 273.9h0.8M415.6 276.2h0.8M404.9 271.5h0.8M405.7 278.3h0.8M412.2 276.6h0.8M415.6 272.7h0.8M417.6 278.3h0.8M405.5 273.8h0.8M407.1 263.6h0.8M418.8 264.0h0.8M412.5 276.2h0.8M409.7 280.0h0.8M410.3 265.6h0.8M424.5 260.9h0.8M410.4 270.4h0.8M416.0 277.1h0.8M411.4 275.7h0.8M412.7 262.7h0.8M422.5 262.0h0.8M425.4 279.5h0.8M411.5 276.4h0.8M407.8 273.1h0.8M419.5 275.3h0.8M408.0 267.4h0.8M403.6 273.9h0.8M423.3 266.9h0.8M412.8 276.9h0.8M421.5 271.7h0.8M412.4 260.0h0.8M422.9 268.5h0.8M413.6 278.0h0.8M407.1 277.6h0.8M403.8 269.6h0.8M415.6 273.9h0.8M417.6 273.9h0.8M423.5 272.4h0.8M405.5 270.7h0.8M417.2 260.6h0.8M411.7 275.6h0.8M414.6 270.9h0.8M406.7 275.3h0.8M409.7 271.3h0.8M415.0 267.9h0.8M423.9 277.2h0.8M405.9 272.3h0.8M414.3 268.4h0.8M421.2 280.5h0.8M424.8 267.0h0.8M407.8 273.2h0.8M406.3 272.0h0.8M424.2 270.2h0.8M425.0 266.5h0.8M414.1 278.7h0.8M404.7 272.0h0.8M423.9 279.2h0.8M412.0 273.7h0.8M423.4 274.3h0.8M417.1 279.8h0.8M421.6 274.9h0.8M407.0 272.8h0.8M420.8 269.4h0.8M408.4 262.5h0.8M412.4 273.9h0.8M422.1 271.6h0.8M421.7 268.3h0.8M407.5 262.0h0.8M408.3 261.5h0.8M412.3 258.9h0.8M414.9 274.8h0.8M411.9 276.6h0.8M406.2 262.3h0.8M408.9 278.2h0.8M419.4 272.8h0.8M423.2 267.8h0.8M404.4 271.6h0.8M415.9 273.7h0.8M420.2 262.6h0.8M404.3 274.9h0.8M421.9 271.2h0.8M406.1 265.6h0.8M416.7 277.1h0.8M415.6 274.2h0.8M417.3 272.1h0.8M410.2 271.0h0.8M412.7 276.1h0.8M416.3 272.7h0.8M412.9 278.6h0.8M418.0 278.0h0.8M413.3 274.3h0.8M413.1 277.0h0.8M404.0 260.5h0.8M417.1 275.3h0.8M414.3 275.2h0.8M408.7 266.7h0.8M420.3 267.7h0.8M420.7 275.4h0.8M413.6 265.6h0.8M407.5 269.9h0.8M413.9 273.7h0.8M405.9 269.9h0.8M406.3 275.6h0.8M413.0 275.3h0.8M405.5 264.2h0.8M413.2 273.0h0.8M414.7 263.6h0.8M404.4 276.5h0.8M417.5 277.1h0.8M405.3 278.8h0.8M419.6 267.7h0.8M420.6 271.0h0.8M414.8 280.4h0.8M404.7 279.1h0.8M414.6 265.7h0.8M411.8 272.1h0.8M424.4 264.4h0.8M406.5 279.2h0.8M422.4 270.6h0.8M425.4 277.4h0.8M419.6 268.1h0.8M421.4 270.2h0.8M407.8 270.2h0.8M425.1 275.9h0.8M414.3 261.5h0.8M424.5 277.6h0.8M423.7 278.5h0.8M407.1 268.9h0.8M420.8 277.9h0.8M424.0 278.5h0.8M404.9 272.6h0.8M411.2 269.5h0.8M420.1 263.7h0.8M407.0 268.1h0.8M423.2 278.4h0.8M409.5 269.6h0.8M421.4 265.2h0.8M406.7 277.4h0.8M414.5 267.4h0.8M423.7 275.4h0.8M408.1 274.9h0.8M409.3 281.2h0.8M414.6 267.3h0.8M410.5 271.8h0.8M404.3 263.4h0.8M407.5 272.6h0.8M407.0 276.8h0.8M424.1 275.9h0.8M418.5 275.3h0.8M423.2 261.6h0.8M407.2 276.1h0.8M420.8 278.0h0.8M406.0 274.2h0.8M415.2 278.2h0.8M417.5 273.1h0.8M411.4 270.0h0.8M422.7 269.5h0.8M415.7 276.5h0.8M416.3 277.1h0.8M422.9 272.2h0.8M405.8 268.8h0.8M425.3 272.8h0.8M417.4 270.8h0.8M412.2 263.0h0.8M421.0 277.0h0.8M409.3 275.3h0.8M425.3 272.1h0.8M416.2 271.5h0.8M411.4 263.5h0.8M420.3 271.1h0.8M413.2 269.3h0.8M407.4 273.2h0.8M419.9 266.7h0.8M404.6 265.4h0.8M421.5 275.0h0.8M409.1 277.6h0.8M417.6 275.4h0.8M425.1 274.1h0.8M416.4 263.8h0.8M418.1 275.3h0.8M410.4 269.9h0.8M403.5 269.7h0.8M404.2 261.1h0.8M406.8 277.5h0.8M417.1 267.0h0.8M413.0 274.4h0.8M414.8 277.7h0.8M423.2 269.8h0.8M406.4 265.2h0.8M408.5 270.7h0.8M417.9 278.9h0.8M404.0 260.2h0.8M403.6 273.7h0.8M411.3 269.7h0.8M405.8 268.0h0.8M411.4 275.4h0.8M408.4 273.4h0.8M416.3 274.5h0.8M416.5 277.8h0.8M408.0 278.5h0.8M417.2 268.2h0.8M413.9 273.4h0.8M406.5 264.4h0.8M424.1 278.6h0.8M408.9 274.8h0.8M406.8 276.4h0.8M405.6 261.8h0.8M417.5 266.6h0.8M422.7 263.6h0.8M420.7 271.9h0.8M412.3 277.7h0.8M409.3 273.3h0.8M403.8 275.8h0.8M417.7 279.6h0.8M415.9 271.0h0.8M411.2 275.0h0.8M417.7 277.6h0.8M413.3 271.8h0.8M424.1 262.2h0.8M419.6 261.6h0.8M409.0 272.5h0.8M423.4 277.7h0.8M404.5 267.1h0.8M415.2 277.5h0.8M412.4 271.4h0.8M408.7 278.1h0.8M404.8 259.0h0.8M420.6 271.4h0.8M403.8 273.0h0.8M415.6 275.2h0.8M424.2 271.2h0.8M406.6 260.1h0.8M407.9 273.1h0.8M416.9 276.0h0.8M414.7 271.8h0.8M417.6 262.8h0.8M421.4 273.8h0.8M407.3 269.8h0.8M410.3 262.8h0.8M410.1 274.5h0.8M404.6 266.1h0.8M423.1 271.6h0.8M420.7 277.1h0.8M419.2 278.8h0.8M403.6 262.0h0.8M422.1 272.5h0.8M419.9 272.9h0.8M413.7 262.8h0.8M419.8 270.8h0.8M413.5 272.0h0.8M408.5 275.1h0.8M405.8 267.6h0.8M408.6 275.4h0.8M404.4 272.5h0.8M410.9 267.3h0.8M420.0 270.3h0.8M418.8 277.1h0.8M422.1 276.1h0.8M419.2 268.6h0.8M409.4 267.9h0.8M415.7 277.7h0.8M413.1 257.6h0.8M420.8 277.2h0.8M415.0 276.6h0.8M409.3 278.0h0.8M417.6 272.8h0.8M424.7 270.0h0.8M408.3 264.8h0.8M422.9 276.7h0.8M403.8 268.6h0.8M409.2 277.7h0.8M408.7 270.7h0.8M419.9 275.5h0.8M424.3 274.1h0.8M419.9 278.8h0.8M410.7 268.1h0.8M422.9 277.4h0.8M410.7 267.2h0.8M408.8 274.4h0.8M423.5 270.5h0.8M417.4 269.7h0.8M418.7 272.2h0.8M418.1 264.3h0.8M425.0 262.8h0.8M413.8 275.1h0.8M422.0 274.4h0.8M418.8 264.2h0.8M422.4 277.2h0.8M413.1 273.2h0.8M419.4 273.3h0.8M416.0 259.9h0.8M410.3 277.2h0.8M408.2 269.4h0.8M417.2 267.3h0.8M405.2 268.0h0.8M423.5 281.2h0.8M406.7 261.7h0.8M404.1 274.7h0.8M405.8 264.9h0.8M423.9 269.3h0.8M411.1 273.2h0.8M406.6 265.4h0.8M404.1 269.0h0.8M404.4 274.3h0.8M418.7 267.9h0.8M417.4 271.9h0.8M418.8 255.0h0.8M419.7 257.8h0.8M404.9 252.2h0.8M416.5 267.5h0.8M411.5 260.7h0.8M421.5 271.7h0.8M421.5 252.4h0.8M423.1 253.1h0.8M405.0 250.7h0.8M422.6 269.8h0.8M423.6 259.8h0.8M424.3 261.1h0.8M405.9 268.2h0.8M408.0 266.7h0.8M406.0 242.7h0.8M404.3 250.0h0.8M422.1 266.1h0.8M421.4 251.0h0.8M417.5 256.8h0.8M421.7 263.2h0.8M417.4 257.0h0.8M409.8 266.2h0.8M405.7 265.4h0.8M405.7 271.0h0.8M420.2 256.6h0.8M408.0 258.6h0.8M410.5 254.0h0.8M412.8 260.5h0.8M404.0 262.1h0.8M409.1 264.7h0.8M409.7 254.3h0.8M419.2 263.4h0.8M411.6 258.3h0.8M410.6 253.6h0.8M424.7 261.9h0.8M414.6 255.8h0.8M422.2 269.3h0.8M417.1 265.6h0.8M404.2 250.5h0.8M412.6 267.7h0.8M413.1 269.4h0.8M420.5 270.7h0.8M411.1 253.3h0.8M419.0 268.4h0.8M415.3 261.6h0.8M408.3 262.0h0.8M422.5 252.0h0.8M405.5 261.2h0.8M421.5 260.1h0.8M407.2 270.3h0.8M403.5 252.3h0.8M407.9 253.2h0.8M420.3 257.6h0.8M425.0 250.8h0.8M403.6 257.8h0.8M414.3 254.9h0.8M414.3 250.1h0.8M421.0 257.7h0.8M407.6 270.5h0.8M414.4 248.6h0.8M411.1 240.8h0.8M421.8 266.7h0.8M409.2 269.2h0.8M424.3 264.1h0.8M409.7 268.5h0.8M408.2 263.5h0.8M418.9 268.7h0.8M414.5 266.4h0.8M405.9 271.4h0.8M417.5 262.2h0.8M405.3 264.9h0.8M420.8 254.5h0.8M418.8 263.1h0.8M420.8 267.4h0.8M417.3 244.5h0.8M411.3 248.1h0.8M412.3 255.7h0.8M412.2 266.5h0.8M423.1 262.8h0.8M405.4 261.7h0.8M423.0 262.7h0.8M404.1 270.3h0.8M408.0 261.6h0.8M409.3 253.2h0.8M423.3 255.6h0.8M414.5 249.7h0.8M411.8 255.9h0.8M422.9 253.4h0.8M408.6 249.2h0.8M413.6 246.9h0.8M415.2 252.3h0.8M420.1 262.5h0.8M420.1 256.6h0.8M417.7 256.6h0.8M411.2 248.7h0.8M410.7 255.0h0.8M406.9 261.9h0.8M422.0 266.9h0.8M418.1 264.3h0.8M419.8 265.8h0.8M407.2 255.9h0.8M413.2 253.2h0.8M420.5 266.9h0.8M416.2 259.8h0.8M406.3 250.5h0.8M413.7 263.6h0.8M423.0 268.6h0.8M408.7 258.0h0.8M407.7 263.6h0.8M410.1 267.8h0.8M419.0 265.1h0.8M422.1 271.1h0.8M406.9 267.7h0.8M406.9 262.3h0.8M408.9 268.5h0.8M410.7 271.2h0.8M415.0 259.4h0.8M407.0 244.2h0.8M410.7 250.8h0.8M407.7 264.4h0.8" stroke="#2a2a2a" stroke-width="0.8" stroke-opacity="0.6"/>
<path d="M414.5 290V233.84" stroke="#4a4a4a" stroke-width="0.8"/>
<text x="414.5" y="304.2" font-size="7.6" text-anchor="middle" fill="#333" stroke="#333" stroke-width="0.18">AML</text>
<text x="484.4" y="221.8" font-size="7.4" text-anchor="middle" fill="#333" textLength="31" lengthAdjust="spacingAndGlyphs"><tspan font-style="italic">TNF</tspan> (CD4)</text>
<text x="466" y="232.2" font-size="7.6" fill="#333" textLength="37.4" lengthAdjust="spacingAndGlyphs"><tspan font-style="italic">P</tspan> &lt; 2.2×10<tspan font-size="4.2" dy="-3.2">−16</tspan></text>
<path d="M455.5 231.3V292.5H513.3M452.1 289.5H455.5M452.1 278.5H455.5M452.1 268.5H455.5M452.1 257.5H455.5M452.1 246.5H455.5M452.1 235.5H455.5M471.5 292.5V294.7M496.5 292.5V294.7" stroke="#222" stroke-width="1" fill="none"/>
<text x="449.75" y="292.0" font-size="6.8" text-anchor="end" fill="#444" stroke="#444" stroke-width="0.18">0</text>
<text x="449.75" y="281.25" font-size="6.8" text-anchor="end" fill="#444" stroke="#444" stroke-width="0.18">1</text>
<text x="449.75" y="270.5" font-size="6.8" text-anchor="end" fill="#444" stroke="#444" stroke-width="0.18">2</text>
<text x="449.75" y="259.75" font-size="6.8" text-anchor="end" fill="#444" stroke="#444" stroke-width="0.18">3</text>
<text x="449.75" y="249.00000000000003" font-size="6.8" text-anchor="end" fill="#444" stroke="#444" stroke-width="0.18">4</text>
<text x="449.75" y="238.25000000000003" font-size="6.8" text-anchor="end" fill="#444" stroke="#444" stroke-width="0.18">5</text>
<rect x="460.0" y="274.0" width="22.0" height="7.5" fill="#1a1a1a" fill-opacity="0.6" filter="url(#vb)"/>
<rect x="460.0" y="261.7" width="22.0" height="12.4" fill="#1a1a1a" fill-opacity="0.15" filter="url(#vb)"/>
<path d="M460 289.5H482" stroke="#3a3030" stroke-width="0.9"/>
<path d="M465.0 274.1h0.8M481.2 281.4h0.8M462.8 280.8h0.8M475.5 282.0h0.8M461.9 281.6h0.8M465.4 276.9h0.8M482.0 275.6h0.8M464.6 278.0h0.8M474.1 275.2h0.8M470.1 278.2h0.8M470.0 274.2h0.8M470.9 276.8h0.8M464.2 277.5h0.8M478.3 280.6h0.8M462.0 278.4h0.8M465.2 278.3h0.8M460.4 275.0h0.8M465.9 280.1h0.8M469.0 279.5h0.8M479.8 275.1h0.8M468.3 281.5h0.8M462.5 277.5h0.8M465.7 280.2h0.8M481.8 276.4h0.8M461.4 277.0h0.8M473.6 281.3h0.8M468.3 275.8h0.8M474.5 278.6h0.8M467.4 279.3h0.8M475.2 274.7h0.8M470.9 275.4h0.8M474.3 279.4h0.8M479.8 276.2h0.8M472.8 281.0h0.8M463.1 277.6h0.8M461.4 281.4h0.8M480.8 276.6h0.8M470.8 274.2h0.8M464.3 276.6h0.8M480.8 281.7h0.8M472.7 277.7h0.8M476.0 278.0h0.8M479.4 278.3h0.8M466.3 280.8h0.8M467.8 279.7h0.8M479.3 278.2h0.8M463.0 281.5h0.8M476.8 276.3h0.8M462.1 280.0h0.8M475.2 279.6h0.8M475.4 281.3h0.8M480.9 279.5h0.8M478.6 274.1h0.8M471.1 279.6h0.8M464.3 281.2h0.8M463.3 279.1h0.8M471.6 273.9h0.8M471.2 281.3h0.8M461.6 279.1h0.8M479.9 280.3h0.8M471.2 276.2h0.8M475.4 278.1h0.8M464.8 281.2h0.8M465.4 274.7h0.8M460.3 279.3h0.8M467.6 276.2h0.8M465.9 278.2h0.8M469.3 274.6h0.8M468.3 281.6h0.8M478.4 280.1h0.8M479.6 279.6h0.8M463.9 279.8h0.8M468.7 275.0h0.8M463.7 277.8h0.8M474.6 279.1h0.8M481.4 277.7h0.8M464.4 274.8h0.8M476.9 277.2h0.8M466.6 278.2h0.8M460.3 276.4h0.8M476.8 276.8h0.8M467.5 278.6h0.8M463.7 278.4h0.8M469.6 280.9h0.8M465.1 278.3h0.8M469.0 274.5h0.8M469.8 279.4h0.8M469.2 278.9h0.8M472.9 276.9h0.8M466.4 277.0h0.8M462.1 280.6h0.8M461.9 278.2h0.8M462.3 275.8h0.8M471.5 281.7h0.8M467.9 281.1h0.8M477.8 275.6h0.8M471.1 274.3h0.8M475.6 281.5h0.8M481.6 281.4h0.8M461.4 276.7h0.8M460.4 279.6h0.8M463.1 276.4h0.8M468.5 281.8h0.8M472.6 278.1h0.8M476.4 280.7h0.8M467.7 279.2h0.8M481.2 276.1h0.8M460.1 277.7h0.8M478.4 274.7h0.8M464.6 274.8h0.8M479.3 276.7h0.8M460.7 274.8h0.8M481.2 280.5h0.8M476.7 278.0h0.8M481.8 279.3h0.8M472.8 276.7h0.8M463.9 281.1h0.8M481.3 274.5h0.8M469.7 278.9h0.8M461.8 275.3h0.8M473.3 274.0h0.8M470.9 274.0h0.8M470.4 278.7h0.8M463.4 274.7h0.8M462.7 273.5h0.8M472.8 281.0h0.8M470.0 275.6h0.8M462.8 275.8h0.8M469.7 278.1h0.8M476.0 279.7h0.8M475.7 280.6h0.8M470.4 278.5h0.8M468.7 274.1h0.8M467.9 278.6h0.8M465.0 279.9h0.8M464.3 276.7h0.8M469.8 278.3h0.8M462.4 276.8h0.8M476.0 278.2h0.8M475.6 279.6h0.8M473.5 281.8h0.8M460.5 275.0h0.8M468.0 276.4h0.8M469.5 280.0h0.8M462.1 277.8h0.8M481.3 277.1h0.8M476.6 277.7h0.8M471.1 274.3h0.8M475.5 275.4h0.8M464.4 279.4h0.8M465.0 279.2h0.8M471.6 276.8h0.8M476.4 280.7h0.8M474.2 274.0h0.8M460.1 281.7h0.8M473.5 277.8h0.8M480.0 279.7h0.8M476.4 277.6h0.8M480.4 281.7h0.8M481.6 280.1h0.8M464.9 273.6h0.8M466.5 275.3h0.8M472.0 280.2h0.8M481.5 278.2h0.8M468.1 281.8h0.8M480.7 281.0h0.8M478.7 280.4h0.8M471.4 273.6h0.8M473.8 279.4h0.8M481.1 279.9h0.8M477.2 281.5h0.8M466.5 281.1h0.8M478.6 273.5h0.8M464.3 275.7h0.8M468.1 274.2h0.8M481.1 274.9h0.8M478.6 275.3h0.8M466.9 279.9h0.8M466.4 280.6h0.8M473.5 279.8h0.8M478.5 281.5h0.8M475.1 280.6h0.8M480.6 275.9h0.8M476.0 277.9h0.8M478.1 282.0h0.8M473.3 279.5h0.8M468.0 274.8h0.8M469.4 274.8h0.8M470.8 275.8h0.8M471.6 275.8h0.8M478.4 274.2h0.8M465.9 277.3h0.8M461.5 278.8h0.8M476.1 277.1h0.8M466.0 279.6h0.8M469.2 281.8h0.8M462.6 279.8h0.8M478.2 278.1h0.8M466.0 281.0h0.8M466.4 281.4h0.8M477.7 279.9h0.8M471.1 278.9h0.8M466.1 273.8h0.8M479.5 277.9h0.8M469.1 274.9h0.8M467.9 275.7h0.8M481.2 277.0h0.8M477.4 279.3h0.8M476.4 278.7h0.8M465.5 279.3h0.8M477.9 276.6h0.8M473.1 274.7h0.8M478.3 275.3h0.8M468.1 279.5h0.8M477.2 280.8h0.8M477.5 282.0h0.8M468.5 277.0h0.8M474.4 280.1h0.8M477.2 282.0h0.8M481.8 279.5h0.8M480.2 280.1h0.8M477.3 280.3h0.8M463.0 276.4h0.8M473.4 277.0h0.8M475.1 279.7h0.8M461.9 275.8h0.8M470.2 280.3h0.8M479.1 274.2h0.8M479.9 281.1h0.8M480.4 277.0h0.8M462.0 276.0h0.8M473.4 275.8h0.8M479.0 277.9h0.8M474.4 274.6h0.8M467.0 276.7h0.8M460.9 276.1h0.8M480.2 281.4h0.8M478.9 280.5h0.8M474.4 278.1h0.8M468.1 277.4h0.8M478.2 281.3h0.8M477.9 275.7h0.8M475.9 279.1h0.8M473.2 278.0h0.8M467.0 277.6h0.8M466.5 274.9h0.8M467.9 279.5h0.8M467.2 277.3h0.8M471.4 276.9h0.8M462.5 276.4h0.8M475.9 279.4h0.8M467.7 279.7h0.8M463.5 278.0h0.8M465.6 276.9h0.8M468.6 276.5h0.8M469.5 280.9h0.8M477.2 278.2h0.8M462.2 277.3h0.8M464.9 280.4h0.8M466.4 281.2h0.8M463.9 274.1h0.8M476.5 281.9h0.8M462.4 277.8h0.8M461.1 279.5h0.8M472.2 281.8h0.8M476.2 279.8h0.8M478.2 280.7h0.8M472.3 278.6h0.8M467.2 274.3h0.8M479.4 281.4h0.8M476.2 279.1h0.8M470.5 276.1h0.8M472.4 276.7h0.8M480.6 281.9h0.8M481.9 280.1h0.8M480.5 279.7h0.8M462.9 274.4h0.8M467.2 278.3h0.8M469.0 279.9h0.8M463.7 277.9h0.8M476.8 277.9h0.8M461.3 280.8h0.8M479.5 276.3h0.8M472.9 275.9h0.8M473.5 278.0h0.8M469.1 277.5h0.8M480.6 275.4h0.8M472.7 273.9h0.8M479.7 276.8h0.8M480.3 281.7h0.8M475.2 277.7h0.8M481.6 276.4h0.8M470.8 279.2h0.8M468.1 276.2h0.8M478.6 278.9h0.8M471.6 276.8h0.8M466.8 276.8h0.8M475.0 276.3h0.8M470.5 274.1h0.8M462.8 276.0h0.8M478.4 276.0h0.8M471.0 276.0h0.8M481.4 280.1h0.8M471.7 276.8h0.8M480.6 276.7h0.8M466.4 281.6h0.8M464.8 275.6h0.8M471.6 280.1h0.8M476.9 277.8h0.8M478.1 277.6h0.8M474.2 275.9h0.8M462.7 275.5h0.8M468.7 278.0h0.8M460.8 274.0h0.8M468.2 278.3h0.8M480.8 277.2h0.8M467.6 273.5h0.8M475.4 279.3h0.8M473.7 275.9h0.8M463.2 273.9h0.8M475.1 281.3h0.8M461.8 275.4h0.8M464.1 276.5h0.8M472.8 277.4h0.8M462.8 275.3h0.8M481.2 274.7h0.8M469.4 280.8h0.8M473.9 277.9h0.8M481.2 276.8h0.8M462.4 276.1h0.8M482.0 273.8h0.8M460.9 275.2h0.8M473.2 275.0h0.8M474.4 281.5h0.8M481.7 278.4h0.8M467.9 274.2h0.8M480.8 273.9h0.8M474.3 275.6h0.8M470.5 279.2h0.8M463.7 275.5h0.8M465.2 277.5h0.8M468.0 276.3h0.8M467.6 276.6h0.8M468.2 274.6h0.8M477.8 275.9h0.8M468.2 273.7h0.8M473.8 277.8h0.8M460.8 277.8h0.8M463.1 276.4h0.8M475.6 277.2h0.8M479.6 281.7h0.8M466.9 273.8h0.8M460.7 279.3h0.8M465.1 277.8h0.8M467.9 281.7h0.8M468.1 280.4h0.8M472.4 274.1h0.8M466.6 279.7h0.8M474.2 279.5h0.8M477.3 275.1h0.8M477.2 280.0h0.8M476.3 276.3h0.8M472.8 277.2h0.8M465.7 274.4h0.8M478.5 278.0h0.8M466.4 279.2h0.8M478.9 279.8h0.8M469.8 278.9h0.8M473.8 282.1h0.8M471.0 281.0h0.8M474.4 280.8h0.8M467.5 279.4h0.8M472.7 275.5h0.8M476.2 274.0h0.8M468.0 279.0h0.8M473.2 279.9h0.8M470.0 279.6h0.8M470.3 276.7h0.8M468.4 278.0h0.8M472.0 281.1h0.8M475.6 277.6h0.8M463.8 279.8h0.8M463.2 280.8h0.8M478.1 275.3h0.8M461.9 281.2h0.8M477.4 278.3h0.8M476.7 275.5h0.8M464.8 277.4h0.8M474.0 274.6h0.8M465.6 279.3h0.8M479.4 273.9h0.8M464.3 281.7h0.8M462.5 274.4h0.8M460.8 278.4h0.8M475.8 282.0h0.8M464.7 279.8h0.8M466.9 273.6h0.8M481.5 275.9h0.8M476.2 275.7h0.8M476.2 275.1h0.8M472.7 282.0h0.8M474.1 279.4h0.8M460.2 278.1h0.8M477.9 274.3h0.8M467.2 274.3h0.8M478.8 280.8h0.8M469.1 273.6h0.8M480.0 277.3h0.8M460.0 279.5h0.8M481.6 281.4h0.8M462.1 278.4h0.8M471.2 277.6h0.8M470.6 278.2h0.8M481.7 279.4h0.8M475.8 273.9h0.8M481.6 278.0h0.8M479.9 279.4h0.8M469.4 275.4h0.8M463.3 280.0h0.8M463.2 278.4h0.8M475.6 281.2h0.8M480.9 280.0h0.8M474.6 273.5h0.8M467.6 276.7h0.8M473.1 277.6h0.8M474.5 276.3h0.8M465.6 276.3h0.8M475.3 277.6h0.8M464.4 278.9h0.8M460.6 280.8h0.8M461.4 281.8h0.8M470.7 281.0h0.8M475.3 278.6h0.8M465.0 282.0h0.8M468.7 276.3h0.8M475.2 279.2h0.8M465.8 280.1h0.8M471.5 279.4h0.8M473.3 277.8h0.8M468.9 280.3h0.8M464.6 274.7h0.8M475.2 277.9h0.8M475.4 281.5h0.8M464.2 281.3h0.8M477.8 274.4h0.8M474.4 277.1h0.8M479.1 279.6h0.8M477.2 275.9h0.8M470.9 281.7h0.8M475.7 274.4h0.8M466.9 264.5h0.8M474.4 270.9h0.8M461.8 279.6h0.8M467.6 274.4h0.8M471.1 267.5h0.8M479.5 272.1h0.8M475.0 277.0h0.8M480.0 276.7h0.8M479.1 279.3h0.8M481.4 273.1h0.8M473.6 277.4h0.8M473.6 274.2h0.8M470.3 265.9h0.8M464.9 265.7h0.8M477.5 273.5h0.8M473.4 268.7h0.8M463.6 278.0h0.8M465.3 264.0h0.8M464.9 266.7h0.8M475.9 273.7h0.8M473.1 266.2h0.8M464.4 276.0h0.8M475.1 262.3h0.8M472.4 275.7h0.8M465.9 264.9h0.8M469.8 267.5h0.8M481.8 264.5h0.8M463.1 269.8h0.8M465.2 279.1h0.8M473.1 276.2h0.8M478.5 271.1h0.8M480.3 265.5h0.8M468.8 270.6h0.8M476.9 279.9h0.8M462.6 275.4h0.8M468.5 275.4h0.8M478.9 277.5h0.8M474.6 276.8h0.8M469.8 273.2h0.8M473.2 275.1h0.8M470.7 276.4h0.8M472.1 274.6h0.8M479.4 264.0h0.8M481.5 272.0h0.8M464.4 269.3h0.8M476.6 264.6h0.8M480.8 280.1h0.8M473.4 266.3h0.8M471.0 278.7h0.8M468.2 277.2h0.8M470.6 269.6h0.8M472.8 269.3h0.8M473.5 271.7h0.8M462.5 273.8h0.8M482.0 269.9h0.8M466.1 274.4h0.8M472.0 277.2h0.8M464.4 276.9h0.8M473.9 278.4h0.8M461.6 280.0h0.8M467.4 263.8h0.8M468.5 263.9h0.8M466.9 275.4h0.8M470.7 274.6h0.8M463.5 276.2h0.8M470.8 268.7h0.8M477.5 273.5h0.8M473.8 277.5h0.8M481.3 266.2h0.8M480.9 264.8h0.8M470.5 279.7h0.8M470.3 274.0h0.8M476.8 276.9h0.8M479.4 271.3h0.8M471.9 275.3h0.8M474.7 276.0h0.8M475.2 276.0h0.8M471.3 271.8h0.8M471.2 273.4h0.8M468.8 273.6h0.8M469.9 270.6h0.8M470.4 273.8h0.8M477.7 264.0h0.8M463.5 274.3h0.8M462.6 268.5h0.8M480.3 264.7h0.8M471.2 271.6h0.8M475.3 272.1h0.8M480.1 268.5h0.8M476.2 270.1h0.8M472.5 277.2h0.8M480.9 274.5h0.8M473.7 277.7h0.8M469.8 280.5h0.8M464.0 270.5h0.8M463.5 275.6h0.8M477.4 276.5h0.8M479.7 280.3h0.8M467.9 280.4h0.8M471.6 270.8h0.8M474.9 275.3h0.8M473.3 274.3h0.8M466.1 270.7h0.8M480.0 265.5h0.8M472.1 270.3h0.8M475.7 276.9h0.8M475.1 261.6h0.8M469.6 277.4h0.8M475.4 272.3h0.8M464.2 271.3h0.8M472.1 276.1h0.8M474.3 266.1h0.8M473.8 271.8h0.8M466.4 270.1h0.8M464.0 278.0h0.8M462.2 267.6h0.8M462.7 276.1h0.8M464.1 271.7h0.8M470.7 269.6h0.8M472.5 275.7h0.8M475.5 276.4h0.8M469.6 275.6h0.8M476.9 262.4h0.8M460.7 271.0h0.8M467.7 273.8h0.8M462.6 272.5h0.8M471.4 271.1h0.8M472.6 276.4h0.8M472.8 279.0h0.8M469.8 278.4h0.8M468.1 272.2h0.8M467.2 272.0h0.8M462.3 262.4h0.8M464.3 271.6h0.8M470.7 267.1h0.8M472.5 261.8h0.8M462.2 273.5h0.8M478.6 274.5h0.8M460.6 273.8h0.8M462.8 275.1h0.8M469.9 269.2h0.8M467.3 272.3h0.8M471.4 278.2h0.8M475.2 263.7h0.8M473.1 273.1h0.8M477.3 269.4h0.8M470.3 272.8h0.8M474.9 272.1h0.8M469.2 272.3h0.8M462.8 278.3h0.8M461.6 278.1h0.8M464.0 269.7h0.8M469.8 275.4h0.8M466.1 278.1h0.8M472.3 268.0h0.8M474.7 269.4h0.8M480.2 269.1h0.8M463.3 274.9h0.8M481.1 278.1h0.8M460.0 269.2h0.8M479.6 277.0h0.8M481.7 270.9h0.8M468.0 270.4h0.8M477.6 276.3h0.8M471.1 281.6h0.8M472.4 272.1h0.8M478.9 268.5h0.8M480.7 272.1h0.8M466.6 262.0h0.8M464.8 276.8h0.8M480.2 269.7h0.8M473.0 274.3h0.8M479.8 272.3h0.8M464.9 276.0h0.8M478.7 276.8h0.8M463.5 272.7h0.8M463.2 271.8h0.8M466.3 265.4h0.8M480.4 271.9h0.8M468.5 273.4h0.8M469.7 271.1h0.8M466.4 271.5h0.8M461.6 274.7h0.8M469.7 276.4h0.8M470.9 270.6h0.8M467.4 274.9h0.8M476.1 279.9h0.8M466.8 277.5h0.8M481.6 275.3h0.8M480.0 270.5h0.8M472.7 271.1h0.8M462.2 273.6h0.8M472.3 267.9h0.8M473.7 275.7h0.8M474.3 275.4h0.8M469.4 269.3h0.8M476.0 270.7h0.8M481.9 274.4h0.8M475.5 266.1h0.8M460.9 280.3h0.8M473.8 272.9h0.8M473.7 266.9h0.8M472.0 266.4h0.8M480.6 277.2h0.8M461.2 268.2h0.8M460.4 273.0h0.8M475.9 264.5h0.8M462.2 275.7h0.8M463.0 270.9h0.8M478.0 271.3h0.8M468.0 261.4h0.8M479.4 275.5h0.8M477.6 274.9h0.8M474.6 278.2h0.8M467.9 270.6h0.8M461.8 279.2h0.8M481.5 267.2h0.8M479.2 277.9h0.8M480.2 277.3h0.8M471.2 263.9h0.8M466.2 273.5h0.8M473.8 269.3h0.8M469.2 275.4h0.8M464.2 276.7h0.8M462.5 275.2h0.8M469.0 262.1h0.8M463.3 277.2h0.8M465.9 265.6h0.8M481.5 266.2h0.8M480.5 270.6h0.8M479.5 276.4h0.8M471.3 269.7h0.8M476.8 265.6h0.8M463.6 272.1h0.8M473.7 276.9h0.8M481.4 271.8h0.8M477.4 263.6h0.8M481.7 272.1h0.8M473.8 277.8h0.8M466.7 277.1h0.8M460.5 271.5h0.8M466.0 279.7h0.8M478.2 281.7h0.8M471.6 275.1h0.8M473.7 276.5h0.8M477.7 273.5h0.8M466.5 279.1h0.8M463.1 272.6h0.8M479.5 270.7h0.8M473.2 275.8h0.8M460.6 272.2h0.8M475.3 273.1h0.8M475.9 268.5h0.8M476.7 272.3h0.8M462.9 271.4h0.8M466.0 272.5h0.8M475.9 267.8h0.8M474.7 278.7h0.8M467.6 278.4h0.8M481.3 266.7h0.8M466.6 267.5h0.8M479.6 281.1h0.8M463.0 265.9h0.8M470.1 271.8h0.8M481.8 267.0h0.8M475.3 270.3h0.8M476.7 275.1h0.8M479.4 278.4h0.8M473.8 269.1h0.8M472.0 270.1h0.8M478.1 273.8h0.8M471.7 276.3h0.8M481.1 275.2h0.8M476.7 264.5h0.8M460.0 273.9h0.8M466.3 277.0h0.8M479.5 261.8h0.8M462.6 262.4h0.8M460.3 277.4h0.8M472.8 277.2h0.8M475.3 269.7h0.8M481.6 274.9h0.8M481.2 273.8h0.8M473.8 270.6h0.8M475.4 276.3h0.8M471.7 272.0h0.8M478.7 277.1h0.8M475.2 276.9h0.8M462.8 272.8h0.8M473.8 274.4h0.8M461.1 265.9h0.8M467.4 277.9h0.8M467.3 265.2h0.8M480.2 276.4h0.8M464.9 275.5h0.8M468.3 278.5h0.8M472.4 275.8h0.8M464.5 262.2h0.8M470.0 275.2h0.8M466.5 267.5h0.8M475.9 262.5h0.8M477.5 270.4h0.8M472.8 277.3h0.8M479.1 274.4h0.8M470.8 277.6h0.8M476.4 276.6h0.8M462.1 275.6h0.8M468.5 277.6h0.8M467.1 270.7h0.8M479.5 273.1h0.8M471.0 276.1h0.8M468.3 276.5h0.8M474.7 277.9h0.8M481.0 278.3h0.8M478.3 274.3h0.8M477.7 279.1h0.8M474.7 273.1h0.8M477.7 276.5h0.8M472.4 268.9h0.8M468.5 276.4h0.8M467.0 267.0h0.8M465.8 264.1h0.8M467.4 264.7h0.8M471.0 276.8h0.8M479.0 264.7h0.8M465.2 273.8h0.8M468.6 266.2h0.8M465.7 273.9h0.8M470.6 272.9h0.8M461.3 276.5h0.8M473.7 269.2h0.8M478.9 275.2h0.8M480.1 266.2h0.8M467.9 270.2h0.8M463.7 274.4h0.8M476.1 280.1h0.8M476.6 276.4h0.8M464.2 274.5h0.8M461.3 275.1h0.8M474.7 272.2h0.8M468.4 281.3h0.8M471.5 273.9h0.8M472.4 266.0h0.8M479.4 263.8h0.8M462.8 270.5h0.8M465.7 270.5h0.8M460.8 271.9h0.8M475.2 260.0h0.8M461.7 268.5h0.8M478.8 274.0h0.8M473.4 273.5h0.8M471.3 264.3h0.8M465.9 272.7h0.8M479.1 272.0h0.8M462.5 275.9h0.8M472.8 270.9h0.8M478.3 273.6h0.8M474.5 264.2h0.8M461.1 259.8h0.8M462.5 260.7h0.8M466.3 263.9h0.8M476.1 279.8h0.8M463.0 279.1h0.8M481.0 275.5h0.8M479.5 267.7h0.8M472.6 272.6h0.8M479.3 276.5h0.8M474.0 278.6h0.8M463.5 276.6h0.8M468.9 278.1h0.8M460.5 277.9h0.8M469.6 269.5h0.8M481.8 277.2h0.8M468.9 277.6h0.8M474.6 271.6h0.8M467.9 278.1h0.8M474.8 267.5h0.8M467.4 271.2h0.8M480.1 266.4h0.8M469.0 269.8h0.8M465.9 269.7h0.8M469.4 276.4h0.8M461.7 274.5h0.8M467.3 275.0h0.8M476.3 274.9h0.8M468.9 265.3h0.8M469.8 274.3h0.8M465.2 268.3h0.8M478.1 271.5h0.8M479.5 278.9h0.8M469.0 277.0h0.8M460.0 272.3h0.8M469.4 268.5h0.8M479.2 276.8h0.8M474.3 276.6h0.8M465.0 275.1h0.8M462.3 274.0h0.8M479.5 274.5h0.8M461.7 264.9h0.8M473.5 271.8h0.8M473.1 276.2h0.8M464.0 275.5h0.8M469.7 273.3h0.8M479.0 277.7h0.8M481.9 274.9h0.8M461.6 279.3h0.8M460.7 271.1h0.8M465.7 266.7h0.8M461.1 265.8h0.8M480.4 272.0h0.8M461.8 275.0h0.8M468.1 272.6h0.8M478.9 272.6h0.8M470.2 277.4h0.8M465.1 272.9h0.8M461.4 273.5h0.8M465.0 277.2h0.8M466.8 274.2h0.8M478.6 267.5h0.8M469.5 271.3h0.8M472.2 275.6h0.8M465.8 276.7h0.8M469.0 271.5h0.8M480.4 272.7h0.8M462.5 276.0h0.8M475.4 273.8h0.8M466.9 274.7h0.8M469.2 271.5h0.8M475.8 266.4h0.8M467.7 275.1h0.8M470.8 272.9h0.8M470.7 272.5h0.8M470.7 270.9h0.8M461.6 276.6h0.8M468.6 276.6h0.8M468.4 265.0h0.8M469.2 277.9h0.8M466.3 270.6h0.8M469.9 276.4h0.8M476.3 273.6h0.8M461.6 274.1h0.8M461.7 276.7h0.8M471.8 277.5h0.8M472.7 263.6h0.8M477.6 279.9h0.8M460.7 277.9h0.8M460.2 269.6h0.8M473.4 275.1h0.8M464.7 277.2h0.8M470.9 268.8h0.8M466.5 243.4h0.8M461.9 267.2h0.8M472.3 256.2h0.8M466.9 263.6h0.8M470.7 240.6h0.8M479.1 259.1h0.8M469.9 249.3h0.8M478.5 257.4h0.8M466.4 268.5h0.8M464.0 262.7h0.8M468.9 256.2h0.8M466.5 268.2h0.8M476.0 269.4h0.8M462.7 242.1h0.8M475.9 247.8h0.8M464.8 257.7h0.8M469.0 270.0h0.8M464.8 256.4h0.8M463.2 242.4h0.8M463.1 253.8h0.8M481.7 255.9h0.8M462.2 262.7h0.8M480.3 258.2h0.8M470.1 247.6h0.8M479.4 261.4h0.8M463.9 269.8h0.8M472.8 268.3h0.8M475.0 246.0h0.8M466.7 256.1h0.8M473.5 247.1h0.8M479.9 268.2h0.8M469.2 269.1h0.8M460.6 256.9h0.8M473.4 263.0h0.8M477.2 262.2h0.8M470.0 266.8h0.8M478.5 254.5h0.8M467.8 253.8h0.8M469.9 255.6h0.8M469.5 262.9h0.8M462.1 261.6h0.8M461.6 263.6h0.8M474.0 262.2h0.8M479.6 265.0h0.8M464.0 262.1h0.8M479.9 245.2h0.8M467.2 253.2h0.8M469.2 268.5h0.8M460.9 257.2h0.8M460.2 252.5h0.8M472.7 264.7h0.8M479.5 249.6h0.8M474.0 246.8h0.8M462.9 269.9h0.8M474.6 258.4h0.8M462.9 263.9h0.8M470.3 262.2h0.8M476.5 260.3h0.8M468.5 250.9h0.8M467.0 258.3h0.8M467.0 249.6h0.8M466.4 266.5h0.8M460.3 253.3h0.8M476.0 263.7h0.8M468.6 267.6h0.8M464.1 253.1h0.8M466.8 259.6h0.8M460.9 266.9h0.8M470.3 249.4h0.8M472.8 261.6h0.8M473.7 257.1h0.8M469.8 242.9h0.8M481.8 265.0h0.8M463.3 260.4h0.8M464.3 260.4h0.8M472.4 265.8h0.8M469.1 260.6h0.8M466.7 244.9h0.8M476.0 256.5h0.8M471.3 266.2h0.8M472.5 256.9h0.8M475.2 258.7h0.8M469.3 264.2h0.8M471.3 257.2h0.8M481.7 264.0h0.8M463.6 253.9h0.8M470.2 263.8h0.8M473.5 252.3h0.8M476.8 265.6h0.8M462.0 267.8h0.8M462.5 265.0h0.8M465.9 268.7h0.8M474.7 250.2h0.8M464.6 241.2h0.8M460.8 263.2h0.8M469.2 266.6h0.8M463.4 249.9h0.8M475.1 251.3h0.8M480.9 266.5h0.8M476.6 265.4h0.8" stroke="#2a2a2a" stroke-width="0.8" stroke-opacity="0.65"/>
<path d="M471.5 289.6V235.85" stroke="#4a4a4a" stroke-width="1"/>
<text x="471" y="303.8" font-size="7.6" text-anchor="middle" fill="#333" stroke="#333" stroke-width="0.18">HD</text>
<rect x="486.3" y="250.9" width="21.0" height="31.2" fill="#1a1a1a" fill-opacity="0.72" filter="url(#vb)"/>
<rect x="486.3" y="244.5" width="21.0" height="6.5" fill="#1a1a1a" fill-opacity="0.2" filter="url(#vb)"/>
<path d="M485.8 289.5H507.8" stroke="#3a3030" stroke-width="0.9"/>
<path d="M486.3 290.1C491.8 289.6 493.8 286.40000000000003 496.8 286.40000000000003C499.8 286.40000000000003 501.8 289.6 507.3 290.1Z" fill="#e8781e"/>
<path d="M498.2 266.2h0.8M494.8 278.2h0.8M486.9 275.6h0.8M495.4 269.5h0.8M497.2 278.6h0.8M492.6 277.8h0.8M494.9 262.7h0.8M506.1 272.7h0.8M494.1 252.6h0.8M491.8 251.1h0.8M495.6 260.6h0.8M505.9 273.5h0.8M487.2 257.7h0.8M496.1 271.4h0.8M507.1 254.1h0.8M497.4 268.7h0.8M493.0 259.9h0.8M493.3 258.0h0.8M500.8 259.5h0.8M489.1 257.9h0.8M506.3 271.3h0.8M500.8 277.5h0.8M505.4 270.5h0.8M489.7 251.2h0.8M486.7 281.3h0.8M493.0 273.3h0.8M496.1 272.4h0.8M497.4 268.1h0.8M499.4 254.1h0.8M487.0 276.9h0.8M506.0 279.1h0.8M489.5 281.9h0.8M490.2 271.4h0.8M489.0 258.8h0.8M494.3 267.7h0.8M489.7 261.4h0.8M501.3 265.7h0.8M493.7 270.7h0.8M488.9 269.2h0.8M494.0 281.2h0.8M503.6 251.4h0.8M497.8 258.6h0.8M487.7 279.3h0.8M498.6 275.9h0.8M496.6 256.9h0.8M497.2 265.9h0.8M502.0 258.0h0.8M489.3 257.9h0.8M501.0 277.7h0.8M502.5 255.6h0.8M505.5 275.9h0.8M494.4 278.0h0.8M491.0 258.1h0.8M501.2 255.9h0.8M507.2 272.6h0.8M506.7 269.9h0.8M498.8 258.5h0.8M493.0 272.9h0.8M505.7 268.0h0.8M489.5 250.1h0.8M499.8 278.3h0.8M504.3 251.7h0.8M498.1 253.5h0.8M501.9 249.9h0.8M495.3 274.5h0.8M501.1 276.0h0.8M490.8 268.2h0.8M500.6 276.9h0.8M489.2 252.3h0.8M490.0 263.8h0.8M488.8 255.0h0.8M493.1 266.4h0.8M486.4 266.2h0.8M501.0 251.3h0.8M505.5 278.4h0.8M503.9 275.1h0.8M487.2 254.5h0.8M496.7 263.3h0.8M489.1 256.9h0.8M498.3 250.0h0.8M486.6 257.3h0.8M506.3 262.6h0.8M495.8 257.9h0.8M490.0 265.1h0.8M495.0 275.3h0.8M492.8 271.9h0.8M496.5 252.3h0.8M495.0 265.3h0.8M506.6 281.5h0.8M492.9 261.5h0.8M487.7 250.0h0.8M497.9 262.0h0.8M496.3 266.4h0.8M493.8 267.6h0.8M506.5 261.9h0.8M504.0 262.4h0.8M494.9 266.5h0.8M489.2 253.0h0.8M504.8 253.5h0.8M503.2 256.9h0.8M505.7 258.8h0.8M494.7 259.0h0.8M491.2 276.1h0.8M497.3 266.5h0.8M497.4 273.8h0.8M501.7 275.8h0.8M489.2 251.5h0.8M506.6 275.0h0.8M497.6 255.9h0.8M492.4 255.3h0.8M498.9 269.3h0.8M487.7 281.7h0.8M503.7 276.7h0.8M497.6 261.4h0.8M490.6 259.3h0.8M487.4 270.9h0.8M497.5 262.9h0.8M503.1 277.2h0.8M491.3 261.0h0.8M506.4 257.0h0.8M499.1 256.9h0.8M497.1 264.1h0.8M506.6 263.8h0.8M493.7 282.4h0.8M501.0 273.8h0.8M494.2 269.2h0.8M493.6 280.1h0.8M497.3 280.1h0.8M506.3 251.2h0.8M488.3 260.2h0.8M494.7 264.1h0.8M487.4 260.0h0.8M495.0 254.1h0.8M487.7 261.8h0.8M503.2 268.6h0.8M500.6 269.7h0.8M506.5 250.8h0.8M501.7 251.3h0.8M493.6 277.5h0.8M499.3 255.8h0.8M489.7 261.5h0.8M495.4 271.3h0.8M488.5 259.8h0.8M506.6 273.5h0.8M500.3 258.1h0.8M491.6 264.2h0.8M497.6 263.4h0.8M494.5 280.7h0.8M505.0 253.0h0.8M500.5 251.3h0.8M501.1 257.6h0.8M499.4 272.9h0.8M489.5 258.9h0.8M498.3 278.7h0.8M504.1 264.6h0.8M494.1 271.2h0.8M486.4 267.1h0.8M492.8 273.0h0.8M486.7 280.2h0.8M498.2 268.3h0.8M496.3 274.7h0.8M488.6 276.8h0.8M504.5 271.7h0.8M491.6 278.4h0.8M495.6 281.8h0.8M489.4 250.7h0.8M497.3 280.7h0.8M498.3 253.3h0.8M501.1 268.8h0.8M486.6 278.6h0.8M489.6 268.5h0.8M489.5 265.9h0.8M492.7 280.7h0.8M503.3 264.8h0.8M504.2 282.3h0.8M501.8 272.7h0.8M498.1 259.3h0.8M486.8 254.9h0.8M492.3 276.7h0.8M497.0 269.2h0.8M501.7 251.5h0.8M494.3 272.2h0.8M495.8 278.6h0.8M492.9 274.4h0.8M497.4 254.2h0.8M495.4 271.2h0.8M494.0 260.8h0.8M505.7 251.9h0.8M499.1 262.2h0.8M500.2 276.0h0.8M504.3 266.8h0.8M501.9 271.9h0.8M491.7 266.8h0.8M502.1 262.4h0.8M499.2 250.6h0.8M497.3 260.0h0.8M501.0 265.9h0.8M503.8 256.0h0.8M492.4 265.9h0.8M492.4 276.2h0.8M497.5 260.6h0.8M488.3 273.7h0.8M502.8 275.6h0.8M490.5 269.8h0.8M492.8 266.7h0.8M502.7 281.5h0.8M505.0 270.7h0.8M491.8 251.1h0.8M488.9 265.8h0.8M500.4 270.5h0.8M499.2 267.6h0.8M494.8 259.7h0.8M490.0 266.1h0.8M506.7 269.3h0.8M488.4 263.5h0.8M504.4 273.5h0.8M491.2 260.2h0.8M491.5 268.6h0.8M495.0 259.5h0.8M489.1 271.1h0.8M502.3 261.6h0.8M490.3 276.1h0.8M492.0 266.6h0.8M493.5 266.4h0.8M503.2 282.0h0.8M487.1 278.4h0.8M501.8 267.5h0.8M492.2 257.5h0.8M500.0 256.0h0.8M506.6 254.9h0.8M490.2 256.2h0.8M486.9 250.9h0.8M492.6 276.1h0.8M501.2 277.6h0.8M491.2 278.0h0.8M493.1 256.6h0.8M506.9 276.3h0.8M504.4 272.2h0.8M506.5 278.0h0.8M490.8 252.8h0.8M500.9 275.7h0.8M492.8 274.8h0.8M501.1 263.1h0.8M503.6 259.5h0.8M500.2 281.2h0.8M496.8 263.6h0.8M500.0 265.2h0.8M500.7 264.4h0.8M489.7 265.7h0.8M501.2 256.4h0.8M489.0 255.6h0.8M504.2 254.4h0.8M493.5 271.7h0.8M488.2 281.1h0.8M486.7 267.1h0.8M499.0 281.6h0.8M487.8 261.7h0.8M494.8 266.8h0.8M487.2 258.1h0.8M500.8 255.3h0.8M504.4 258.6h0.8M486.8 259.8h0.8M499.2 271.6h0.8M499.9 258.8h0.8M498.0 261.6h0.8M506.6 275.3h0.8M492.8 254.1h0.8M505.1 267.1h0.8M497.6 265.1h0.8M491.0 276.0h0.8M492.1 255.3h0.8M488.4 267.0h0.8M502.3 258.2h0.8M491.0 255.0h0.8M498.6 265.5h0.8M502.6 263.4h0.8M491.7 267.4h0.8M500.0 274.7h0.8M500.6 256.4h0.8M495.3 252.4h0.8M502.7 281.4h0.8M495.3 281.4h0.8M489.3 267.2h0.8M488.2 279.9h0.8M489.4 268.2h0.8M501.5 271.3h0.8M496.9 274.6h0.8M489.3 257.2h0.8M506.2 263.5h0.8M486.5 252.4h0.8M498.7 276.2h0.8M496.3 270.1h0.8M505.0 262.3h0.8M498.9 257.3h0.8M504.0 268.5h0.8M491.0 276.4h0.8M497.5 269.9h0.8M502.7 263.9h0.8M494.1 250.9h0.8M501.6 261.2h0.8M495.0 254.9h0.8M493.5 255.3h0.8M492.0 268.5h0.8M500.6 266.0h0.8M507.0 255.3h0.8M487.1 258.9h0.8M490.8 269.4h0.8M487.7 276.3h0.8M489.9 258.6h0.8M496.9 272.9h0.8M498.1 273.9h0.8M500.9 274.3h0.8M489.0 260.1h0.8M504.1 261.4h0.8M490.4 251.9h0.8M502.7 263.2h0.8M494.6 266.7h0.8M497.1 253.6h0.8M503.9 278.0h0.8M505.5 263.3h0.8M497.6 250.2h0.8M487.6 271.6h0.8M492.8 277.5h0.8M501.3 278.8h0.8M503.5 281.6h0.8M505.0 258.6h0.8M498.0 269.0h0.8M488.5 255.7h0.8M492.2 255.2h0.8M495.2 281.7h0.8M489.1 272.5h0.8M493.6 273.9h0.8M492.8 273.9h0.8M501.5 281.6h0.8M496.0 274.2h0.8M498.4 271.4h0.8M492.5 267.7h0.8M501.5 265.1h0.8M497.9 250.3h0.8M488.0 279.0h0.8M505.7 278.1h0.8M488.6 253.0h0.8M491.5 273.1h0.8M488.1 264.9h0.8M503.1 272.5h0.8M504.3 253.2h0.8M495.9 252.0h0.8M502.3 263.9h0.8M503.1 279.4h0.8M504.3 270.4h0.8M506.1 259.5h0.8M499.9 264.0h0.8M498.9 273.3h0.8M487.0 269.5h0.8M490.9 280.5h0.8M507.1 269.3h0.8M497.4 255.6h0.8M506.0 269.9h0.8M491.0 267.3h0.8M503.5 277.0h0.8M503.0 259.2h0.8M501.7 268.9h0.8M492.8 269.9h0.8M507.2 257.2h0.8M493.3 272.8h0.8M507.2 280.0h0.8M506.0 261.5h0.8M488.2 258.4h0.8M487.9 280.8h0.8M494.9 271.2h0.8M491.8 253.6h0.8M494.6 265.9h0.8M490.1 269.2h0.8M502.1 278.3h0.8M488.3 273.1h0.8M498.9 263.3h0.8M493.2 252.6h0.8M493.4 260.9h0.8M499.0 250.9h0.8M486.6 269.2h0.8M502.1 280.3h0.8M496.1 271.4h0.8M501.8 270.5h0.8M503.6 280.6h0.8M505.6 279.8h0.8M486.5 252.7h0.8M491.8 253.2h0.8M493.5 278.2h0.8M497.7 279.8h0.8M492.5 250.5h0.8M495.4 277.1h0.8M496.9 272.6h0.8M502.4 275.1h0.8M488.1 275.7h0.8M494.2 281.5h0.8M491.3 267.4h0.8M495.2 257.2h0.8M493.8 280.2h0.8M491.4 266.4h0.8M505.9 278.2h0.8M486.3 256.8h0.8M487.0 253.0h0.8M501.6 253.9h0.8M490.8 265.1h0.8M505.6 277.9h0.8M499.7 259.1h0.8M503.7 280.2h0.8M506.4 257.2h0.8M502.1 272.7h0.8M506.6 253.3h0.8M490.0 273.2h0.8M490.6 258.3h0.8M486.8 266.3h0.8M486.3 274.7h0.8M503.1 266.5h0.8M501.2 268.4h0.8M492.6 277.4h0.8M489.3 264.6h0.8M488.4 265.1h0.8M497.1 259.6h0.8M507.1 271.4h0.8M486.3 262.4h0.8M498.1 276.0h0.8M501.0 265.4h0.8M491.6 274.7h0.8M489.6 256.8h0.8M505.6 276.3h0.8M502.7 273.0h0.8M493.3 280.2h0.8M506.4 272.7h0.8M495.8 264.8h0.8M504.0 275.0h0.8M501.1 278.6h0.8M496.0 253.3h0.8M494.0 272.4h0.8M488.3 275.4h0.8M494.1 269.5h0.8M501.6 255.0h0.8M493.1 258.1h0.8M492.8 253.0h0.8M493.2 264.7h0.8M488.0 271.6h0.8M504.6 266.1h0.8M499.9 280.6h0.8M499.3 260.2h0.8M504.0 255.1h0.8M499.0 252.6h0.8M495.0 255.4h0.8M504.2 261.4h0.8M491.1 256.2h0.8M502.0 273.0h0.8M506.8 264.1h0.8M488.9 277.2h0.8M491.3 251.9h0.8M494.0 265.8h0.8M501.6 276.7h0.8M497.2 250.3h0.8M494.7 262.2h0.8M505.3 275.6h0.8M495.1 254.9h0.8M491.0 262.0h0.8M487.0 262.2h0.8M506.7 253.8h0.8M507.2 272.2h0.8M506.7 273.4h0.8M498.7 263.9h0.8M497.7 275.9h0.8M506.2 259.7h0.8M497.7 266.9h0.8M493.7 276.0h0.8M500.2 278.4h0.8M491.4 277.2h0.8M497.0 263.7h0.8M490.3 252.6h0.8M491.1 256.5h0.8M494.3 254.8h0.8M500.9 264.0h0.8M503.5 256.3h0.8M487.7 271.7h0.8M496.8 270.5h0.8M504.0 253.0h0.8M488.3 274.1h0.8M491.3 262.1h0.8M499.7 264.0h0.8M492.6 280.8h0.8M505.2 264.0h0.8M487.0 256.5h0.8M500.5 253.5h0.8M498.6 268.8h0.8M491.9 253.1h0.8M501.5 281.3h0.8M492.5 252.9h0.8M487.9 260.3h0.8M496.9 256.0h0.8M487.6 267.9h0.8M498.4 263.3h0.8M490.7 255.5h0.8M496.6 275.2h0.8M506.5 276.5h0.8M500.7 257.9h0.8M498.1 253.9h0.8M502.9 275.1h0.8M495.1 264.6h0.8M498.4 265.9h0.8M506.0 272.3h0.8M506.8 255.0h0.8M486.4 273.3h0.8M499.5 257.0h0.8M502.1 269.0h0.8M504.1 277.7h0.8M497.2 251.1h0.8M488.7 277.7h0.8M495.1 279.2h0.8M491.9 281.5h0.8M496.9 271.0h0.8M488.9 281.6h0.8M488.8 277.4h0.8M506.2 251.8h0.8M496.2 274.2h0.8M502.9 259.1h0.8M499.1 275.5h0.8M494.6 282.1h0.8M499.0 282.3h0.8M505.2 278.5h0.8M489.4 251.3h0.8M500.6 267.6h0.8M506.5 274.3h0.8M506.9 281.0h0.8M498.2 261.5h0.8M487.4 272.2h0.8M500.9 276.6h0.8M496.4 268.2h0.8M506.8 259.3h0.8M491.4 271.3h0.8M488.9 264.2h0.8M488.3 276.3h0.8M498.1 264.2h0.8M499.8 281.1h0.8M496.5 252.4h0.8M504.6 252.2h0.8M507.1 263.7h0.8M489.2 267.0h0.8M497.4 269.5h0.8M495.6 258.0h0.8M488.1 263.6h0.8M490.4 259.3h0.8M497.9 268.0h0.8M495.3 269.4h0.8M492.3 258.9h0.8M487.6 276.6h0.8M501.1 271.3h0.8M505.0 274.6h0.8M489.6 275.8h0.8M504.5 254.3h0.8M494.7 272.3h0.8M505.8 258.4h0.8M506.2 280.9h0.8M506.5 252.3h0.8M486.8 267.2h0.8M501.9 258.2h0.8M487.2 279.0h0.8M487.2 262.8h0.8M498.4 256.0h0.8M492.1 273.1h0.8M506.5 279.5h0.8M497.1 270.0h0.8M492.1 257.4h0.8M497.1 257.6h0.8M496.5 280.4h0.8M486.6 271.9h0.8M504.7 252.6h0.8M498.9 273.1h0.8M501.3 279.7h0.8M503.9 254.1h0.8M502.6 255.7h0.8M486.6 267.9h0.8M500.8 259.7h0.8M499.5 258.0h0.8M500.1 255.2h0.8M498.5 276.3h0.8M504.7 258.6h0.8M488.0 252.3h0.8M494.2 256.7h0.8M503.0 265.4h0.8M494.4 269.6h0.8M505.8 250.5h0.8M505.8 250.0h0.8M498.1 256.2h0.8M501.5 266.0h0.8M487.6 253.3h0.8M492.2 253.9h0.8M497.5 266.0h0.8M486.3 278.2h0.8M499.9 262.5h0.8M497.2 278.1h0.8M489.2 271.6h0.8M500.3 263.9h0.8M495.7 266.1h0.8M487.8 261.5h0.8M490.9 255.7h0.8M490.3 251.5h0.8M497.3 272.4h0.8M497.1 251.3h0.8M494.9 272.0h0.8M504.9 271.1h0.8M487.1 257.8h0.8M503.7 250.6h0.8M495.7 265.9h0.8M490.0 256.5h0.8M491.9 255.5h0.8M491.3 272.2h0.8M507.2 262.3h0.8M498.5 251.8h0.8M492.4 281.8h0.8M492.3 278.4h0.8M505.3 254.0h0.8M491.9 264.0h0.8M504.1 268.8h0.8M493.2 256.6h0.8M486.7 268.0h0.8M486.4 278.0h0.8M505.4 271.1h0.8M506.0 257.6h0.8M504.3 261.5h0.8M497.6 266.3h0.8M486.6 282.1h0.8M497.6 249.9h0.8M491.6 279.9h0.8M495.9 273.4h0.8M504.6 256.7h0.8M490.2 251.9h0.8M501.1 260.0h0.8M488.9 270.0h0.8M487.2 258.1h0.8M488.8 260.7h0.8M494.2 263.6h0.8M488.7 256.8h0.8M501.9 264.4h0.8M495.3 264.9h0.8M496.6 274.1h0.8M490.9 257.1h0.8M498.5 279.0h0.8M486.8 279.4h0.8M488.8 261.9h0.8M489.7 281.0h0.8M492.7 253.9h0.8M503.8 276.2h0.8M492.3 267.2h0.8M490.7 274.0h0.8M496.3 266.8h0.8M486.4 262.4h0.8M493.8 276.1h0.8M499.2 264.7h0.8M498.4 250.7h0.8M504.6 277.6h0.8M495.9 275.4h0.8M497.6 276.1h0.8M489.1 279.0h0.8M497.7 282.1h0.8M505.0 251.2h0.8M499.0 251.0h0.8M487.6 281.2h0.8M494.9 255.3h0.8M502.1 263.6h0.8M486.9 275.7h0.8M505.5 253.7h0.8M502.6 278.7h0.8M499.5 261.6h0.8M502.3 260.5h0.8M496.6 259.7h0.8M500.0 274.8h0.8M496.5 277.6h0.8M501.0 261.9h0.8M490.3 272.9h0.8M492.8 262.7h0.8M492.5 258.3h0.8M498.2 281.4h0.8M504.7 258.8h0.8M496.4 250.5h0.8M497.4 269.3h0.8M505.1 263.7h0.8M489.4 271.7h0.8M491.9 253.7h0.8M500.1 275.2h0.8M503.1 279.2h0.8M497.4 266.1h0.8M491.7 268.0h0.8M503.3 263.9h0.8M497.0 275.8h0.8M486.9 252.2h0.8M489.2 265.0h0.8M503.5 269.8h0.8M492.6 258.1h0.8M488.8 281.2h0.8M492.3 252.4h0.8M502.7 255.2h0.8M488.8 274.1h0.8M494.4 267.7h0.8M503.8 281.2h0.8M494.9 256.6h0.8M495.5 250.7h0.8M488.7 263.0h0.8M489.8 250.5h0.8M491.9 267.1h0.8M491.8 254.1h0.8M491.6 254.9h0.8M488.7 252.3h0.8M491.8 267.5h0.8M499.1 265.9h0.8M506.1 281.4h0.8M493.9 251.4h0.8M497.1 279.6h0.8M490.2 263.5h0.8M494.6 262.8h0.8M491.0 276.8h0.8M493.9 271.1h0.8M489.6 272.7h0.8M505.5 282.2h0.8M503.4 269.4h0.8M489.8 270.0h0.8M487.0 259.0h0.8M495.6 259.6h0.8M493.7 251.5h0.8M505.1 254.0h0.8M490.6 274.1h0.8M504.9 262.5h0.8M505.0 259.9h0.8M497.2 256.7h0.8M504.7 277.9h0.8M503.4 271.6h0.8M489.4 262.4h0.8M504.9 272.2h0.8M506.3 252.6h0.8M495.5 269.0h0.8M503.3 259.4h0.8M487.6 280.3h0.8M505.4 253.2h0.8M507.1 250.7h0.8M507.2 251.0h0.8M505.3 271.4h0.8M501.3 255.3h0.8M499.7 250.4h0.8M495.4 279.0h0.8M495.8 280.1h0.8M495.0 260.8h0.8M490.0 250.2h0.8M487.1 281.5h0.8M493.8 255.1h0.8M506.5 260.9h0.8M488.2 267.0h0.8M493.7 277.8h0.8M498.3 265.9h0.8M502.8 266.2h0.8M505.3 275.9h0.8M498.9 253.1h0.8M496.9 258.3h0.8M505.2 277.1h0.8M492.2 262.2h0.8M498.2 263.0h0.8M495.4 251.8h0.8M495.0 250.4h0.8M493.8 253.4h0.8M496.7 280.7h0.8M505.0 268.7h0.8M505.5 277.5h0.8M487.9 258.0h0.8M495.3 279.8h0.8M491.1 255.4h0.8M506.3 262.4h0.8M498.1 261.5h0.8M498.7 251.6h0.8M495.1 254.1h0.8M489.9 258.6h0.8M495.4 262.0h0.8M493.2 264.6h0.8M503.9 265.6h0.8M502.0 281.6h0.8M493.1 276.1h0.8M494.0 260.0h0.8M491.4 268.9h0.8M506.1 267.8h0.8M500.2 254.9h0.8M499.1 269.9h0.8M490.2 258.7h0.8M506.7 256.2h0.8M504.8 255.3h0.8M489.6 274.8h0.8M491.3 262.7h0.8M504.7 267.2h0.8M487.5 263.3h0.8M496.6 279.7h0.8M493.9 276.3h0.8M501.7 274.5h0.8M496.4 256.9h0.8M495.3 256.9h0.8M491.6 270.0h0.8M494.3 262.7h0.8M486.4 268.1h0.8M488.1 264.9h0.8M499.7 273.8h0.8M496.5 271.3h0.8M489.5 251.2h0.8M498.3 253.6h0.8M498.2 278.5h0.8M491.1 278.6h0.8M493.8 254.2h0.8M494.4 268.0h0.8M491.3 261.6h0.8M492.3 262.8h0.8M498.3 262.8h0.8M488.6 252.9h0.8M504.3 277.5h0.8M493.7 254.4h0.8M490.2 274.0h0.8M501.0 280.0h0.8M489.1 272.8h0.8M500.2 265.7h0.8M486.7 256.3h0.8M504.4 263.5h0.8M489.9 250.8h0.8M489.8 276.3h0.8M497.3 270.1h0.8M500.1 263.8h0.8M495.4 263.2h0.8M493.5 259.8h0.8M496.3 266.0h0.8M503.0 279.2h0.8M497.7 257.0h0.8M490.4 256.5h0.8M503.9 280.2h0.8M489.1 255.9h0.8M497.9 282.3h0.8M490.9 260.1h0.8M492.4 262.2h0.8M486.8 272.8h0.8M498.1 279.6h0.8M488.2 274.1h0.8M507.0 262.1h0.8M502.2 265.1h0.8M505.3 255.9h0.8M496.5 276.9h0.8M504.5 262.2h0.8M489.0 272.6h0.8M496.4 281.1h0.8M501.6 276.4h0.8M497.6 278.9h0.8M489.6 277.3h0.8M491.7 281.3h0.8M501.8 250.6h0.8M487.1 270.7h0.8M486.4 257.8h0.8M501.7 268.7h0.8M492.2 265.8h0.8M498.1 274.3h0.8M490.7 251.6h0.8M491.3 275.6h0.8M506.4 251.1h0.8M506.2 257.0h0.8M504.9 254.3h0.8M496.1 279.3h0.8M492.1 250.3h0.8M501.7 261.2h0.8M495.4 263.6h0.8M502.7 264.0h0.8M495.6 267.9h0.8M499.4 251.3h0.8M495.9 250.4h0.8M499.3 251.4h0.8M494.7 277.9h0.8M496.5 265.2h0.8M488.7 259.6h0.8M497.3 276.5h0.8M506.7 253.4h0.8M488.7 257.9h0.8M489.0 278.6h0.8M489.1 272.8h0.8M490.1 260.3h0.8M502.1 253.7h0.8M504.6 249.9h0.8M493.4 273.5h0.8M492.7 255.2h0.8M489.2 263.3h0.8M495.5 270.7h0.8M502.6 274.7h0.8M505.6 279.1h0.8M495.4 281.4h0.8M503.8 268.4h0.8M490.2 278.6h0.8M505.8 275.8h0.8M500.6 272.0h0.8M491.5 278.1h0.8M496.5 275.9h0.8M501.5 274.1h0.8M503.8 250.6h0.8M493.3 268.6h0.8M501.6 262.3h0.8M505.5 264.8h0.8M490.0 251.1h0.8M488.7 255.5h0.8M491.3 252.2h0.8M501.7 254.0h0.8M506.5 258.4h0.8M501.5 253.9h0.8M505.2 271.7h0.8M496.4 262.6h0.8M498.1 271.7h0.8M497.0 252.3h0.8M495.1 273.8h0.8M500.7 249.8h0.8M486.9 274.8h0.8M489.9 271.4h0.8M492.0 258.2h0.8M492.3 263.8h0.8M489.8 275.5h0.8M487.4 278.4h0.8M490.9 253.9h0.8M488.2 275.7h0.8M494.0 265.8h0.8M502.5 255.1h0.8M502.3 266.6h0.8M490.0 266.9h0.8M492.2 277.1h0.8M492.7 251.9h0.8M487.6 262.8h0.8M505.4 260.7h0.8M501.7 269.6h0.8M495.7 259.2h0.8M491.3 270.1h0.8M494.7 276.7h0.8M486.3 270.9h0.8M488.5 257.6h0.8M495.8 254.3h0.8M490.5 265.7h0.8M494.3 260.9h0.8M502.2 252.0h0.8M503.1 261.3h0.8M502.2 250.6h0.8M490.2 274.2h0.8M507.2 254.0h0.8M505.8 258.0h0.8M492.6 263.9h0.8M498.0 263.1h0.8M488.1 277.0h0.8M495.5 282.0h0.8M497.2 281.5h0.8M503.5 253.4h0.8M488.4 269.5h0.8M488.6 262.8h0.8M495.6 268.0h0.8M492.4 253.8h0.8M486.9 258.4h0.8M501.4 270.3h0.8M487.7 261.6h0.8M503.8 275.5h0.8M501.5 251.7h0.8M489.1 277.3h0.8M502.8 252.7h0.8M497.8 265.0h0.8M496.3 277.7h0.8M493.6 250.4h0.8M495.2 276.0h0.8M493.1 260.3h0.8M493.8 274.0h0.8M492.3 278.1h0.8M500.7 256.6h0.8M487.9 253.4h0.8M502.4 253.4h0.8M492.3 260.5h0.8M503.6 261.5h0.8M487.1 277.4h0.8M503.2 249.9h0.8M490.1 271.8h0.8M496.2 261.6h0.8M501.0 281.7h0.8M494.1 272.2h0.8M494.1 265.4h0.8M492.9 267.0h0.8M494.9 269.0h0.8M492.6 270.0h0.8M495.1 281.9h0.8M491.3 261.4h0.8M486.5 270.9h0.8M503.4 278.8h0.8M495.0 270.5h0.8M490.8 260.6h0.8M497.4 258.2h0.8M496.7 268.9h0.8M506.9 278.7h0.8M489.7 262.0h0.8M487.5 262.9h0.8M493.6 266.7h0.8M505.6 250.8h0.8M487.2 270.5h0.8M490.8 265.4h0.8M490.3 281.5h0.8M504.0 278.2h0.8M493.1 276.2h0.8M495.4 276.4h0.8M497.8 276.8h0.8M506.0 279.0h0.8M499.5 252.5h0.8M501.5 263.3h0.8M493.2 266.5h0.8M490.2 264.1h0.8M505.4 273.3h0.8M497.8 254.2h0.8M499.0 258.5h0.8M494.3 268.6h0.8M494.8 281.8h0.8M498.7 282.5h0.8M500.2 281.4h0.8M489.9 258.8h0.8M487.4 281.5h0.8M492.9 267.8h0.8M506.9 265.6h0.8M490.7 270.4h0.8M494.6 272.8h0.8M487.4 251.8h0.8M493.6 251.3h0.8M504.5 257.8h0.8M503.3 264.9h0.8M493.0 251.4h0.8M507.1 259.6h0.8M495.4 275.0h0.8M505.5 277.9h0.8M492.7 277.7h0.8M492.8 279.1h0.8M507.0 269.8h0.8M501.6 262.6h0.8M495.4 275.7h0.8M503.0 279.8h0.8M496.3 271.5h0.8M504.9 267.5h0.8M501.7 253.8h0.8M491.2 253.4h0.8M498.6 255.6h0.8M506.8 274.0h0.8M496.0 255.6h0.8M494.4 273.3h0.8M504.2 263.4h0.8M497.3 265.0h0.8M487.9 274.9h0.8M498.1 264.8h0.8M490.6 273.9h0.8M492.2 256.5h0.8M491.1 274.8h0.8M498.2 257.0h0.8M498.3 276.3h0.8M489.0 282.2h0.8M489.5 268.2h0.8M498.4 253.7h0.8M499.9 261.8h0.8M487.7 274.3h0.8M487.2 266.0h0.8M488.6 271.7h0.8M498.8 260.9h0.8M487.3 273.1h0.8M491.8 277.0h0.8M493.4 249.9h0.8M488.5 281.2h0.8M500.7 278.1h0.8M506.4 272.1h0.8M499.9 271.6h0.8M497.3 264.4h0.8M506.9 266.3h0.8M494.2 277.4h0.8M506.4 255.4h0.8M489.8 259.3h0.8M490.4 276.5h0.8M500.4 277.0h0.8M490.3 278.8h0.8M505.9 265.8h0.8M494.7 261.7h0.8M489.7 259.0h0.8M506.4 274.7h0.8M501.9 254.2h0.8M499.2 253.0h0.8M498.5 267.0h0.8M499.5 278.6h0.8M491.1 276.8h0.8M494.4 259.0h0.8M501.8 280.3h0.8M504.4 262.1h0.8M497.9 259.1h0.8M499.0 281.8h0.8M498.4 277.7h0.8M491.1 274.6h0.8M491.3 268.2h0.8M489.3 254.7h0.8M504.2 256.4h0.8M500.0 269.8h0.8M502.5 282.1h0.8M504.7 264.8h0.8M499.6 276.1h0.8M492.8 273.1h0.8M488.6 252.1h0.8M497.7 273.1h0.8M488.2 269.6h0.8M504.8 260.5h0.8M504.0 252.0h0.8M489.4 280.5h0.8M493.7 263.2h0.8M497.5 260.9h0.8M502.5 278.4h0.8M496.0 279.2h0.8M505.9 271.6h0.8M490.0 271.4h0.8M498.1 259.7h0.8M488.1 250.9h0.8M490.5 260.9h0.8M489.1 268.5h0.8M492.2 249.9h0.8M494.5 252.0h0.8M501.2 268.1h0.8M486.8 267.1h0.8M505.4 265.6h0.8M490.2 279.1h0.8M500.3 261.5h0.8M489.5 259.2h0.8M487.0 267.0h0.8M496.1 263.4h0.8M496.0 252.8h0.8M506.3 262.2h0.8M489.4 260.0h0.8M504.9 253.6h0.8M495.4 258.5h0.8M506.8 267.5h0.8M488.2 251.2h0.8M496.5 251.6h0.8M504.9 279.9h0.8M493.4 249.8h0.8M493.8 277.1h0.8M490.5 253.8h0.8M491.6 261.5h0.8M492.3 257.0h0.8M489.8 271.2h0.8M500.8 273.1h0.8M505.8 276.7h0.8M490.7 278.5h0.8M493.4 278.8h0.8M496.2 277.0h0.8M497.5 255.7h0.8M498.7 264.9h0.8M505.4 254.4h0.8M503.4 250.3h0.8M487.6 268.1h0.8M493.6 276.7h0.8M502.3 253.2h0.8M502.9 278.8h0.8M493.7 265.7h0.8M504.7 254.9h0.8M487.8 278.4h0.8M493.1 273.7h0.8M496.4 261.2h0.8M490.4 279.3h0.8M500.2 254.2h0.8M486.7 258.1h0.8M506.2 264.4h0.8M502.1 257.1h0.8M490.5 277.9h0.8M504.1 254.8h0.8M498.1 264.9h0.8M503.8 270.0h0.8M507.1 255.9h0.8M490.6 267.6h0.8M505.4 281.1h0.8M489.4 259.7h0.8M489.0 281.3h0.8M491.1 264.1h0.8M494.3 275.4h0.8M496.8 269.1h0.8M500.2 268.8h0.8M491.5 259.7h0.8M500.0 261.7h0.8M499.2 271.0h0.8M495.4 275.0h0.8M506.8 257.1h0.8M495.3 280.4h0.8M489.9 263.4h0.8M486.8 258.7h0.8M495.9 262.0h0.8M494.2 281.6h0.8M501.0 279.8h0.8M501.1 261.5h0.8M490.6 256.8h0.8M490.0 261.8h0.8M489.6 250.3h0.8M492.7 259.6h0.8M492.6 268.6h0.8M502.2 251.2h0.8M496.5 274.7h0.8M488.2 278.9h0.8M504.9 269.7h0.8M491.8 281.6h0.8M507.3 264.0h0.8M501.9 265.1h0.8M498.7 276.3h0.8M491.0 262.6h0.8M490.1 267.2h0.8M495.8 259.7h0.8M504.1 256.7h0.8M497.5 256.4h0.8M500.6 260.2h0.8M501.4 279.3h0.8M500.9 263.7h0.8M502.6 260.7h0.8M506.9 276.1h0.8M500.9 270.4h0.8M498.2 265.5h0.8M493.1 273.6h0.8M506.8 279.8h0.8M490.6 273.2h0.8M492.5 269.0h0.8M493.6 257.2h0.8M493.7 250.3h0.8M486.3 254.9h0.8M502.2 253.3h0.8M494.7 250.4h0.8M489.9 265.8h0.8M494.7 262.3h0.8M502.8 281.6h0.8M507.0 259.0h0.8M498.7 255.2h0.8M497.9 271.2h0.8M488.0 262.6h0.8M503.5 279.4h0.8M505.9 251.9h0.8M504.7 268.5h0.8M499.3 267.5h0.8M494.2 275.3h0.8M493.4 254.1h0.8M503.1 251.4h0.8M490.4 269.0h0.8M486.8 265.4h0.8M486.6 273.1h0.8M502.1 259.5h0.8M506.7 262.3h0.8M489.0 254.8h0.8M494.4 281.9h0.8M504.9 266.0h0.8M496.5 250.8h0.8M490.9 281.7h0.8M502.8 262.1h0.8M507.1 270.2h0.8M486.9 278.7h0.8M497.6 272.7h0.8M494.9 251.0h0.8M496.7 275.5h0.8M498.9 267.0h0.8M494.3 254.2h0.8M495.9 278.9h0.8M498.9 281.8h0.8M505.5 262.8h0.8M493.9 262.1h0.8M505.0 281.3h0.8M506.1 255.1h0.8M499.7 257.4h0.8M501.6 263.0h0.8M504.0 274.6h0.8M494.5 252.3h0.8M498.3 275.3h0.8M496.6 249.8h0.8M488.9 264.5h0.8M503.6 252.8h0.8M487.7 264.7h0.8M495.3 262.7h0.8M496.3 251.7h0.8M501.1 268.2h0.8M488.3 272.3h0.8M499.2 250.9h0.8M486.9 250.0h0.8M499.0 278.3h0.8M501.7 254.4h0.8M506.0 257.6h0.8M486.9 275.6h0.8M502.8 274.9h0.8M506.8 280.6h0.8M491.8 255.2h0.8M505.8 279.9h0.8M503.5 255.2h0.8M492.5 256.5h0.8M495.8 250.3h0.8M500.6 278.8h0.8M505.5 256.0h0.8M498.9 279.8h0.8M491.9 278.9h0.8M488.8 254.9h0.8M491.8 277.9h0.8M495.8 258.4h0.8M492.2 250.3h0.8M496.8 266.7h0.8M494.3 268.7h0.8M487.6 253.3h0.8M486.5 261.7h0.8M500.6 250.3h0.8M494.9 259.9h0.8M505.1 267.9h0.8M506.2 281.0h0.8M494.5 253.3h0.8M488.2 257.8h0.8M504.8 278.0h0.8M504.7 259.9h0.8M502.6 273.7h0.8M503.8 268.1h0.8M486.3 277.3h0.8M494.2 279.8h0.8M500.4 267.2h0.8M504.0 259.2h0.8M495.9 259.3h0.8M492.8 254.7h0.8M497.2 252.7h0.8M502.5 258.1h0.8M489.7 274.3h0.8M493.0 257.2h0.8M491.1 258.5h0.8M489.9 278.7h0.8M490.2 282.0h0.8M486.7 252.7h0.8M494.2 276.9h0.8M491.5 254.0h0.8M503.2 251.6h0.8M504.0 268.8h0.8M490.5 265.2h0.8M498.5 280.1h0.8M495.5 280.0h0.8M500.0 254.7h0.8M495.6 262.1h0.8M506.2 274.0h0.8M499.8 276.2h0.8M506.4 280.0h0.8M503.4 257.5h0.8M498.3 273.6h0.8M489.7 280.7h0.8M503.8 255.6h0.8M504.4 272.2h0.8M496.6 277.0h0.8M502.6 264.0h0.8M494.3 270.5h0.8M501.9 265.3h0.8M497.8 267.5h0.8M491.7 264.8h0.8M487.2 273.8h0.8M494.8 266.1h0.8M494.4 251.3h0.8M499.1 275.6h0.8M503.4 268.8h0.8M492.8 267.4h0.8M501.2 267.8h0.8M489.6 271.3h0.8M488.6 262.0h0.8M505.0 252.0h0.8M505.5 277.6h0.8M492.4 267.9h0.8M491.7 250.5h0.8M502.0 282.5h0.8M492.3 259.9h0.8M500.1 270.5h0.8M489.7 266.0h0.8M502.3 258.8h0.8M505.8 274.1h0.8M490.2 280.3h0.8M488.4 261.6h0.8M492.5 250.2h0.8M501.0 267.6h0.8M490.7 251.9h0.8M495.7 265.7h0.8M505.9 260.3h0.8M498.5 260.9h0.8M495.9 257.4h0.8M489.5 261.2h0.8M499.0 260.1h0.8M496.9 259.2h0.8M493.2 274.3h0.8M495.9 253.7h0.8M493.1 262.6h0.8M503.0 266.1h0.8M498.4 261.9h0.8M498.3 271.2h0.8M489.5 274.7h0.8M495.5 252.6h0.8M503.6 275.6h0.8M505.4 270.8h0.8M491.7 263.2h0.8M497.1 266.3h0.8M495.5 279.5h0.8M504.8 273.6h0.8M499.3 257.5h0.8M498.4 278.0h0.8M494.5 266.8h0.8M497.3 278.9h0.8M503.8 280.0h0.8M489.4 250.5h0.8M487.2 268.1h0.8M506.8 267.2h0.8M505.7 280.1h0.8M491.8 277.3h0.8M507.0 265.7h0.8M499.6 252.1h0.8M507.0 251.8h0.8M491.3 269.5h0.8M506.6 265.8h0.8M491.3 275.3h0.8M501.3 255.2h0.8M491.1 278.0h0.8M494.7 272.5h0.8M488.4 276.2h0.8M506.7 258.3h0.8M496.4 254.1h0.8M497.7 268.1h0.8M490.3 271.7h0.8M494.2 252.5h0.8M496.9 279.3h0.8M505.6 257.5h0.8M495.1 272.1h0.8M493.9 252.8h0.8M487.7 274.1h0.8M500.3 254.0h0.8M496.4 254.7h0.8M500.3 272.3h0.8M503.4 275.8h0.8M487.4 261.8h0.8M492.6 280.0h0.8M500.1 263.7h0.8M493.9 272.4h0.8M501.3 260.7h0.8M490.9 279.1h0.8M495.0 260.0h0.8M496.3 273.8h0.8M493.5 263.7h0.8M502.8 258.9h0.8M497.4 277.0h0.8M506.3 271.9h0.8M495.8 259.2h0.8M504.8 260.0h0.8M501.6 253.4h0.8M490.2 281.5h0.8M498.9 269.8h0.8M504.9 271.1h0.8M486.4 253.6h0.8M493.6 266.2h0.8M490.5 271.8h0.8M496.7 277.3h0.8M497.9 268.0h0.8M490.0 271.4h0.8M498.5 281.8h0.8M498.3 261.9h0.8M502.7 253.5h0.8M490.1 269.2h0.8M494.5 267.8h0.8M505.5 253.8h0.8M499.7 251.3h0.8M492.3 251.1h0.8M503.7 258.1h0.8M504.2 276.5h0.8M501.4 270.7h0.8M491.2 271.4h0.8M496.1 256.3h0.8M500.2 256.8h0.8M497.7 255.8h0.8M492.8 277.5h0.8M490.8 275.1h0.8M494.4 250.0h0.8M503.3 271.4h0.8M502.3 263.1h0.8M497.5 268.5h0.8M486.5 259.1h0.8M495.2 282.3h0.8M499.7 256.1h0.8M491.0 252.8h0.8M495.7 259.8h0.8M497.7 271.0h0.8M489.9 259.9h0.8M489.9 275.6h0.8M491.8 257.3h0.8M506.6 256.4h0.8M506.2 263.1h0.8M487.4 257.9h0.8M500.4 259.9h0.8M504.8 257.4h0.8M494.9 253.0h0.8M499.3 257.7h0.8M494.5 252.7h0.8M506.3 259.2h0.8M499.8 279.8h0.8M493.9 276.0h0.8M495.9 252.7h0.8M506.6 279.6h0.8M502.4 254.1h0.8M489.4 259.0h0.8M504.1 277.9h0.8M494.7 253.5h0.8M504.5 259.1h0.8M505.3 275.4h0.8M501.1 271.3h0.8M496.2 260.3h0.8M492.6 262.1h0.8M494.5 263.5h0.8M504.6 254.6h0.8M494.0 272.1h0.8M495.5 254.5h0.8M506.6 245.9h0.8M505.1 252.1h0.8M487.2 263.4h0.8M504.6 268.2h0.8M499.3 262.0h0.8M503.4 264.3h0.8M489.2 258.0h0.8M507.3 273.9h0.8M507.1 266.8h0.8M490.8 273.8h0.8M497.6 272.4h0.8M496.2 266.4h0.8M502.4 261.1h0.8M499.5 254.3h0.8M503.5 264.8h0.8M487.5 250.5h0.8M499.4 262.1h0.8M493.7 246.5h0.8M490.7 265.8h0.8M506.4 266.0h0.8M491.2 270.9h0.8M498.3 254.3h0.8M504.9 259.9h0.8M497.1 247.1h0.8M490.9 262.1h0.8M498.0 255.1h0.8M490.4 270.8h0.8M489.6 248.2h0.8M489.3 274.7h0.8M494.6 269.9h0.8M505.4 243.3h0.8M506.8 274.8h0.8M506.9 246.5h0.8M494.2 242.6h0.8M486.3 275.2h0.8M502.8 263.8h0.8M501.5 254.2h0.8M505.5 245.5h0.8M486.7 261.1h0.8M505.3 249.6h0.8M504.5 263.6h0.8M505.2 255.7h0.8M486.5 274.9h0.8M505.3 258.3h0.8M488.7 269.2h0.8M497.6 256.4h0.8M492.6 267.1h0.8M498.5 277.7h0.8M496.2 263.1h0.8M505.6 268.6h0.8M486.4 261.9h0.8M502.5 280.1h0.8M498.2 263.5h0.8M493.1 268.9h0.8M504.2 265.1h0.8M492.2 259.4h0.8M502.6 255.9h0.8M495.9 262.4h0.8M496.1 263.6h0.8M505.3 267.0h0.8M502.4 259.5h0.8M491.1 255.9h0.8M488.2 268.3h0.8M495.2 272.2h0.8M490.2 257.0h0.8M507.3 267.5h0.8M495.7 255.4h0.8M505.2 260.8h0.8M507.1 273.7h0.8M504.5 265.5h0.8M493.9 248.2h0.8M490.1 252.8h0.8M495.3 258.4h0.8M491.4 242.0h0.8M501.3 242.8h0.8M502.4 254.5h0.8M506.1 251.2h0.8M493.9 262.0h0.8M502.2 250.2h0.8M501.7 267.0h0.8M500.6 247.5h0.8M490.3 244.4h0.8M503.7 253.3h0.8M493.8 246.3h0.8M496.0 257.6h0.8M502.1 257.6h0.8M506.8 272.8h0.8M504.5 256.3h0.8M506.7 274.0h0.8M506.9 249.9h0.8M503.9 253.8h0.8M493.1 251.0h0.8M492.5 255.9h0.8M504.7 267.2h0.8M489.4 259.7h0.8M498.2 262.3h0.8M488.0 251.0h0.8M494.1 259.8h0.8M498.9 264.0h0.8M491.9 256.6h0.8M500.7 254.7h0.8M493.0 258.8h0.8M506.9 264.9h0.8M491.9 258.0h0.8M505.2 260.4h0.8M505.0 273.1h0.8M490.5 267.4h0.8M489.1 271.4h0.8M498.7 261.7h0.8M505.0 272.8h0.8M498.9 255.2h0.8M493.7 259.9h0.8M486.3 271.8h0.8M487.1 257.0h0.8M494.9 254.5h0.8M494.7 277.3h0.8M487.2 256.1h0.8M486.5 262.6h0.8M499.2 250.0h0.8M503.2 249.1h0.8M497.4 259.3h0.8M503.7 254.1h0.8M498.3 270.0h0.8M500.4 256.0h0.8M497.2 257.1h0.8M506.5 255.7h0.8M505.9 263.1h0.8M496.7 268.5h0.8M503.7 264.7h0.8M500.2 270.7h0.8M489.2 258.1h0.8M505.8 257.7h0.8M491.6 259.2h0.8M496.6 254.4h0.8M496.9 267.0h0.8M496.0 259.5h0.8M502.9 254.1h0.8M501.7 259.0h0.8M499.1 270.4h0.8M506.8 267.0h0.8M502.0 266.4h0.8M499.9 266.3h0.8M502.1 257.5h0.8M487.8 264.7h0.8M501.0 269.3h0.8M503.6 247.2h0.8M503.3 260.2h0.8M489.8 249.4h0.8M486.8 263.5h0.8M506.5 272.6h0.8M495.8 274.8h0.8M501.7 249.3h0.8M504.1 277.8h0.8M489.0 274.6h0.8M490.0 259.8h0.8M491.2 264.0h0.8M494.0 276.8h0.8M497.7 265.6h0.8M503.9 260.0h0.8M494.6 270.8h0.8M502.1 264.8h0.8M487.1 268.2h0.8M489.8 261.9h0.8M503.9 250.5h0.8M489.0 260.0h0.8M499.3 255.4h0.8M502.0 253.4h0.8M491.1 279.1h0.8M504.7 273.4h0.8M501.3 253.3h0.8M489.3 262.2h0.8M492.7 263.8h0.8M488.4 251.6h0.8M488.4 267.9h0.8M489.4 262.5h0.8M495.7 254.0h0.8M490.6 256.8h0.8M493.5 275.0h0.8M486.3 267.7h0.8M487.7 251.7h0.8M503.3 259.4h0.8M490.6 264.3h0.8M490.5 250.0h0.8M503.4 261.4h0.8M492.1 250.8h0.8M497.1 267.4h0.8M499.6 259.4h0.8M500.7 264.7h0.8M496.3 280.8h0.8M500.1 258.2h0.8M496.2 261.7h0.8M499.0 266.0h0.8M507.1 266.2h0.8M500.8 263.8h0.8M490.6 258.9h0.8M504.6 245.7h0.8M494.1 256.3h0.8M498.3 247.5h0.8M497.9 266.5h0.8M491.7 277.9h0.8M487.9 271.1h0.8M500.1 252.5h0.8M497.5 273.3h0.8M491.6 255.3h0.8M497.1 243.2h0.8M487.5 254.4h0.8M490.3 262.2h0.8M503.4 269.4h0.8M504.9 252.5h0.8M492.2 269.9h0.8M487.7 280.1h0.8M496.6 262.5h0.8M491.7 248.7h0.8M490.1 242.1h0.8M486.9 261.7h0.8M491.7 276.7h0.8M492.4 262.8h0.8M493.1 263.3h0.8M507.1 258.3h0.8M499.9 264.7h0.8M502.8 264.0h0.8M505.7 251.9h0.8M500.4 254.1h0.8M506.1 268.0h0.8M506.5 261.0h0.8M502.6 276.4h0.8M499.4 262.0h0.8M497.5 279.2h0.8M502.2 258.9h0.8M502.4 264.5h0.8M489.8 248.2h0.8M495.1 261.9h0.8M497.3 270.7h0.8M503.1 255.4h0.8M491.0 264.4h0.8M502.2 260.8h0.8M505.5 256.3h0.8M493.1 264.2h0.8M489.0 261.4h0.8M495.6 276.1h0.8M505.9 266.4h0.8M506.2 274.7h0.8M501.3 262.1h0.8M492.9 262.4h0.8M489.0 269.2h0.8M500.5 265.1h0.8M487.2 279.6h0.8M492.2 247.2h0.8M507.0 251.4h0.8M504.5 266.3h0.8M492.3 235.6h0.8M500.5 244.2h0.8M496.3 247.8h0.8M489.6 250.5h0.8M506.5 244.7h0.8M495.4 242.0h0.8M505.5 243.0h0.8M498.2 248.7h0.8M497.2 240.9h0.8M486.6 251.6h0.8M502.9 242.9h0.8M495.0 236.5h0.8M501.2 254.8h0.8M504.5 252.3h0.8M490.4 245.2h0.8M488.1 245.2h0.8M494.3 252.7h0.8M493.1 255.5h0.8M499.8 239.1h0.8M505.3 235.8h0.8M487.3 239.7h0.8M500.5 254.3h0.8M489.2 243.9h0.8M495.1 248.7h0.8M501.1 249.7h0.8M497.2 250.6h0.8M494.4 244.6h0.8M503.8 249.4h0.8M490.3 252.3h0.8M493.4 255.1h0.8M507.2 254.6h0.8M504.3 249.0h0.8M495.4 244.3h0.8M502.2 246.9h0.8M497.6 237.5h0.8M495.6 240.5h0.8M496.7 240.3h0.8M506.8 247.4h0.8M496.1 247.7h0.8M492.2 244.9h0.8M500.5 245.9h0.8M504.4 252.2h0.8M487.2 247.3h0.8M491.1 248.6h0.8M489.9 248.0h0.8M489.9 248.1h0.8M493.4 247.8h0.8M494.6 246.4h0.8M502.8 250.4h0.8M498.9 252.5h0.8M504.9 234.9h0.8M496.4 243.7h0.8M502.1 250.8h0.8M497.0 242.1h0.8M496.8 243.1h0.8M487.5 250.2h0.8M489.2 250.8h0.8M489.4 251.9h0.8M486.4 255.7h0.8M507.1 251.2h0.8M490.5 239.7h0.8M502.0 237.1h0.8M503.7 245.9h0.8M495.1 236.9h0.8M488.4 254.5h0.8M501.5 247.3h0.8M505.4 237.2h0.8M501.6 251.0h0.8M502.0 255.5h0.8M493.6 239.0h0.8M489.1 246.3h0.8M493.1 238.8h0.8M502.6 253.8h0.8M489.5 242.0h0.8M503.8 246.7h0.8M507.1 241.1h0.8M506.2 250.4h0.8M506.2 255.3h0.8M488.2 245.9h0.8M488.8 250.1h0.8" stroke="#2a2a2a" stroke-width="0.8" stroke-opacity="0.7"/>
<path d="M496.5 289.6V231.55" stroke="#4a4a4a" stroke-width="1"/>
<text x="496.8" y="303.8" font-size="7.6" text-anchor="middle" fill="#333" stroke="#333" stroke-width="0.18">AML</text>
<text x="446.2" y="318" font-size="7.4" text-anchor="middle" fill="#333" textLength="36" lengthAdjust="spacingAndGlyphs"><tspan font-style="italic">TBX21</tspan> (CD4)</text>
<text x="427" y="329" font-size="7.6" textLength="38.2" lengthAdjust="spacingAndGlyphs" fill="#333" stroke="#333" stroke-width="0.18"><tspan font-style="italic">P</tspan> = .0007178</text>
<path d="M417.5 327.8V390.5H474.7M414.1 387.5H417.5M414.1 375.5H417.5M414.1 364.5H417.5M414.1 353.5H417.5M414.1 342.5H417.5M414.1 331.5H417.5M432.5 390.5V392.7M458.5 390.5V392.7" stroke="#222" stroke-width="1" fill="none"/>
<text x="411" y="389.4" font-size="6.8" text-anchor="end" fill="#444" stroke="#444" stroke-width="0.18">0</text>
<text x="411" y="378.29999999999995" font-size="6.8" text-anchor="end" fill="#444" stroke="#444" stroke-width="0.18">0.5</text>
<text x="411" y="367.2" font-size="6.8" text-anchor="end" fill="#444" stroke="#444" stroke-width="0.18">1.0</text>
<text x="411" y="356.09999999999997" font-size="6.8" text-anchor="end" fill="#444" stroke="#444" stroke-width="0.18">1.5</text>
<text x="411" y="345.0" font-size="6.8" text-anchor="end" fill="#444" stroke="#444" stroke-width="0.18">2.0</text>
<text x="411" y="333.9" font-size="6.8" text-anchor="end" fill="#444" stroke="#444" stroke-width="0.18">2.5</text>
<rect x="421.1" y="357.0" width="22.6" height="10.0" fill="#1a1a1a" fill-opacity="0.18" filter="url(#vb)"/>
<path d="M421.4 387.5H443.4" stroke="#3a3030" stroke-width="0.9"/>
<path d="M431.6 366.2h0.8M429.5 366.2h0.8M424.2 367.4h0.8M440.7 360.8h0.8M421.2 358.5h0.8M432.5 367.4h0.8M441.4 365.6h0.8M422.9 357.7h0.8M433.6 364.9h0.8M435.0 361.0h0.8M422.0 365.7h0.8M429.7 357.8h0.8M437.0 361.1h0.8M431.3 367.5h0.8M437.5 363.7h0.8M424.7 360.0h0.8M426.5 365.0h0.8M423.6 366.6h0.8M432.5 363.1h0.8M442.0 369.5h0.8M434.4 368.3h0.8M438.6 366.9h0.8M429.8 364.2h0.8M438.0 357.9h0.8M423.4 356.3h0.8M427.7 363.1h0.8M436.3 359.1h0.8M437.5 357.7h0.8M430.6 353.9h0.8M423.1 365.2h0.8M427.1 359.6h0.8M425.8 356.3h0.8M427.5 359.0h0.8M439.4 368.7h0.8M425.6 357.5h0.8M441.1 358.6h0.8M441.0 360.9h0.8M422.3 368.8h0.8M429.7 367.7h0.8M432.2 370.3h0.8M421.6 361.4h0.8M430.7 360.9h0.8M441.6 367.2h0.8M423.6 357.5h0.8M434.6 362.9h0.8M423.8 366.5h0.8M434.2 361.1h0.8M441.3 364.6h0.8M425.7 365.3h0.8M421.3 365.3h0.8M423.0 358.3h0.8M433.3 367.3h0.8M421.5 365.0h0.8M423.0 366.5h0.8M432.3 360.1h0.8M441.9 359.9h0.8M430.6 362.7h0.8M430.1 366.2h0.8M435.5 369.6h0.8M423.2 355.5h0.8M434.2 360.9h0.8M425.0 368.2h0.8M434.9 360.4h0.8M442.8 357.6h0.8M422.3 365.4h0.8M433.6 355.0h0.8M434.8 366.0h0.8M424.5 362.6h0.8M427.2 362.7h0.8M443.6 354.3h0.8M443.7 362.2h0.8M423.8 359.1h0.8M437.0 359.3h0.8M442.6 364.4h0.8M426.5 362.4h0.8M434.9 362.4h0.8M422.1 363.8h0.8M429.4 365.5h0.8M436.3 366.1h0.8M434.4 353.1h0.8M438.6 355.5h0.8M423.1 366.1h0.8M428.9 352.7h0.8M440.6 363.7h0.8M434.3 358.8h0.8M431.3 362.3h0.8M430.2 362.3h0.8M443.4 362.8h0.8M434.1 369.0h0.8M421.5 361.8h0.8M439.2 364.8h0.8M428.5 355.7h0.8M430.9 360.5h0.8M425.9 364.4h0.8M431.1 357.5h0.8M428.4 361.1h0.8M423.1 360.5h0.8M435.3 359.1h0.8M423.4 359.2h0.8M438.8 365.3h0.8M421.7 356.9h0.8M438.7 359.0h0.8M439.4 358.8h0.8M432.3 359.0h0.8M437.1 365.0h0.8M426.7 353.5h0.8M437.8 359.3h0.8M430.7 355.8h0.8M426.3 364.4h0.8M442.9 364.1h0.8M430.2 356.6h0.8M429.5 352.2h0.8M440.5 359.7h0.8M429.4 366.3h0.8M436.2 364.3h0.8M425.0 361.5h0.8M440.2 370.2h0.8M427.0 363.7h0.8M422.2 361.3h0.8M443.1 355.5h0.8M425.0 359.8h0.8M442.5 356.4h0.8M443.4 365.4h0.8M434.8 356.8h0.8M421.4 365.2h0.8M422.5 364.8h0.8M425.8 360.2h0.8M429.9 364.9h0.8M434.9 370.0h0.8M442.9 359.6h0.8M429.1 369.0h0.8M424.3 355.3h0.8M433.8 367.4h0.8M424.2 358.2h0.8M423.1 347.2h0.8M433.7 359.9h0.8M436.8 364.4h0.8M422.6 347.6h0.8M431.3 346.4h0.8M437.0 358.8h0.8M438.4 352.7h0.8M429.8 363.4h0.8M441.2 371.6h0.8M424.9 363.9h0.8M437.3 356.3h0.8M438.5 351.4h0.8M441.0 366.0h0.8M432.3 366.2h0.8M423.3 362.2h0.8M422.2 363.1h0.8M433.1 361.2h0.8M425.0 352.4h0.8M435.3 360.9h0.8M423.0 352.6h0.8M438.7 354.9h0.8M426.1 346.5h0.8M421.4 356.4h0.8M425.1 342.9h0.8M431.4 360.7h0.8M433.7 357.4h0.8M429.9 364.5h0.8M425.0 364.4h0.8M432.0 361.2h0.8M442.5 349.1h0.8M433.2 347.1h0.8M442.4 359.2h0.8M421.8 361.1h0.8M443.5 361.6h0.8M441.2 356.9h0.8M433.4 359.1h0.8M432.9 340.6h0.8M433.2 354.1h0.8M441.7 361.0h0.8M422.6 357.0h0.8M435.6 359.0h0.8M433.4 343.9h0.8M427.9 364.9h0.8M437.5 350.8h0.8M437.4 362.6h0.8M423.4 360.4h0.8M436.9 370.2h0.8M431.3 363.3h0.8M432.2 361.8h0.8M435.5 363.0h0.8M422.3 355.4h0.8M434.7 366.8h0.8M429.5 362.1h0.8M441.0 357.4h0.8M426.3 357.7h0.8M439.7 356.5h0.8M437.6 365.2h0.8M435.2 363.1h0.8M440.9 351.8h0.8M421.9 340.9h0.8M434.6 365.4h0.8M435.0 368.1h0.8M436.4 348.0h0.8M430.3 339.5h0.8M422.7 360.2h0.8M425.4 343.6h0.8M434.8 356.3h0.8M425.2 347.1h0.8M422.6 370.0h0.8M429.1 371.4h0.8M431.7 349.6h0.8M433.2 359.0h0.8M421.7 367.2h0.8M438.6 351.7h0.8M428.6 374.0h0.8M438.8 364.7h0.8M421.3 352.6h0.8M442.7 352.6h0.8M434.4 358.0h0.8M443.2 356.0h0.8M443.4 356.3h0.8M439.9 363.1h0.8M423.5 361.2h0.8M429.0 355.7h0.8M426.3 363.7h0.8M438.7 351.2h0.8M425.4 346.4h0.8M426.1 355.6h0.8M423.6 365.4h0.8M423.8 362.5h0.8M442.3 356.5h0.8M443.2 359.4h0.8M429.5 360.4h0.8M437.8 371.7h0.8M431.7 360.4h0.8M432.9 360.7h0.8" stroke="#2a2a2a" stroke-width="0.8" stroke-opacity="0.6"/>
<path d="M432.5 387V331.50" stroke="#4a4a4a" stroke-width="0.8"/>
<text x="432.4" y="401.2" font-size="7.6" text-anchor="middle" fill="#333" stroke="#333" stroke-width="0.18">HD</text>
<rect x="447.4" y="358.1" width="22.0" height="11.1" fill="#1a1a1a" fill-opacity="0.18" filter="url(#vb)"/>
<path d="M447.4 387.5H469.4" stroke="#3a3030" stroke-width="0.9"/>
<path d="M455.5 367.8h0.8M461.4 355.3h0.8M452.6 360.4h0.8M453.0 356.3h0.8M458.8 366.1h0.8M451.7 361.6h0.8M457.1 361.1h0.8M468.2 366.1h0.8M447.9 362.6h0.8M449.7 361.1h0.8M465.0 362.7h0.8M448.7 363.2h0.8M452.9 366.0h0.8M466.1 365.9h0.8M460.7 365.3h0.8M452.3 363.6h0.8M448.7 364.4h0.8M453.5 366.5h0.8M454.0 368.9h0.8M465.0 355.0h0.8M468.9 365.0h0.8M464.7 358.4h0.8M467.2 358.3h0.8M467.9 367.1h0.8M466.7 366.8h0.8M467.6 366.2h0.8M468.7 370.9h0.8M449.5 366.3h0.8M454.4 362.4h0.8M452.8 361.4h0.8M460.7 366.9h0.8M458.2 363.4h0.8M455.0 362.1h0.8M465.8 361.1h0.8M456.2 361.6h0.8M452.0 360.6h0.8M453.5 368.3h0.8M457.6 367.5h0.8M460.8 361.1h0.8M459.9 364.1h0.8M457.1 361.3h0.8M451.5 361.0h0.8M456.2 360.4h0.8M454.6 361.2h0.8M451.2 364.3h0.8M459.4 358.1h0.8M451.5 361.8h0.8M463.1 363.8h0.8M461.9 359.6h0.8M450.4 365.1h0.8M461.2 365.1h0.8M454.8 362.6h0.8M457.2 355.7h0.8M460.7 366.7h0.8M464.2 365.6h0.8M466.8 368.0h0.8M463.5 362.0h0.8M452.0 363.9h0.8M459.3 363.8h0.8M454.8 365.0h0.8M447.8 364.9h0.8M459.6 362.8h0.8M457.8 367.1h0.8M466.5 363.8h0.8M454.5 367.3h0.8M465.7 363.5h0.8M458.7 363.7h0.8M449.6 364.5h0.8M463.2 365.4h0.8M453.7 360.0h0.8M459.1 366.2h0.8M449.0 363.4h0.8M447.6 356.3h0.8M467.7 364.9h0.8M448.3 364.4h0.8M450.7 361.6h0.8M451.0 363.7h0.8M449.5 360.3h0.8M465.5 358.4h0.8M469.3 366.2h0.8M461.7 363.6h0.8M456.1 363.9h0.8M466.9 364.0h0.8M458.5 362.2h0.8M450.4 366.7h0.8M462.6 365.7h0.8M455.3 366.1h0.8M453.3 364.2h0.8M454.4 365.4h0.8M455.9 365.5h0.8M451.4 357.0h0.8M460.9 362.4h0.8M466.5 365.3h0.8M460.0 368.1h0.8M447.6 362.2h0.8M462.5 362.6h0.8M447.8 362.9h0.8M457.9 369.1h0.8M466.4 362.5h0.8M462.3 360.0h0.8M467.4 363.0h0.8M464.0 361.8h0.8M453.4 365.0h0.8M450.6 364.8h0.8M457.3 365.9h0.8M462.4 360.5h0.8M452.5 360.8h0.8M454.7 363.2h0.8M463.9 363.5h0.8M455.0 365.6h0.8M460.6 356.0h0.8M459.4 369.3h0.8M467.8 363.0h0.8M448.0 365.4h0.8M451.5 359.9h0.8M464.5 356.2h0.8M462.1 362.7h0.8M449.5 361.1h0.8M450.4 366.5h0.8M452.0 355.1h0.8M459.3 364.1h0.8M467.3 358.7h0.8M452.2 369.7h0.8M451.9 365.2h0.8M462.5 361.4h0.8M456.7 366.9h0.8M466.0 370.4h0.8M469.4 365.2h0.8M468.0 361.4h0.8M463.1 358.9h0.8M458.3 365.4h0.8M448.7 356.4h0.8M465.2 347.6h0.8M456.2 351.6h0.8M457.6 355.3h0.8M461.3 358.9h0.8M468.6 364.4h0.8M459.6 363.4h0.8M467.6 357.2h0.8M468.6 362.8h0.8M449.3 353.5h0.8M455.2 363.9h0.8M466.9 355.7h0.8M464.3 364.8h0.8M468.7 354.0h0.8M451.5 346.9h0.8M459.1 346.6h0.8M467.9 360.5h0.8M459.3 344.6h0.8M462.1 366.7h0.8M468.8 361.0h0.8M451.2 363.2h0.8M448.6 361.1h0.8M466.2 369.7h0.8M460.2 361.7h0.8M451.8 356.4h0.8M465.7 352.0h0.8M453.6 359.9h0.8M450.3 344.9h0.8M453.9 354.3h0.8M448.2 352.3h0.8M456.3 348.9h0.8M464.6 361.8h0.8M457.4 351.6h0.8M468.6 359.1h0.8M448.3 363.1h0.8M451.2 354.4h0.8M450.6 353.4h0.8M460.0 370.0h0.8M451.8 353.2h0.8M462.1 342.8h0.8M458.9 370.8h0.8M460.2 343.4h0.8M466.0 360.3h0.8M464.8 344.4h0.8M467.7 361.0h0.8M450.7 359.7h0.8M455.7 354.8h0.8M468.5 362.8h0.8M456.1 364.3h0.8M453.7 354.8h0.8M458.0 362.1h0.8M451.4 371.3h0.8M466.1 363.0h0.8M461.4 346.3h0.8M449.5 352.5h0.8M468.6 366.8h0.8M458.8 358.5h0.8M453.0 356.3h0.8M460.9 365.7h0.8M468.3 349.5h0.8M455.0 341.1h0.8M447.7 354.8h0.8M451.7 350.8h0.8M448.7 360.8h0.8M459.0 363.9h0.8M454.3 354.2h0.8M466.1 347.3h0.8M451.9 352.5h0.8M447.7 366.3h0.8M457.6 337.5h0.8M450.1 345.8h0.8M454.2 353.8h0.8M452.4 364.7h0.8M451.3 365.8h0.8M461.4 367.3h0.8M468.0 350.9h0.8M455.5 357.5h0.8M461.4 339.4h0.8M454.5 365.7h0.8M467.5 361.7h0.8M459.6 363.3h0.8M448.0 348.4h0.8M463.7 351.5h0.8M452.0 352.7h0.8M448.4 358.8h0.8M447.8 363.5h0.8M465.9 360.9h0.8M463.0 367.4h0.8M455.3 353.2h0.8M459.7 356.2h0.8M462.9 357.8h0.8M449.1 347.5h0.8M462.9 366.9h0.8M463.0 355.5h0.8M468.1 367.6h0.8M448.7 363.8h0.8M460.0 354.9h0.8M458.6 358.4h0.8M466.0 347.4h0.8" stroke="#2a2a2a" stroke-width="0.8" stroke-opacity="0.6"/>
<path d="M458.5 387V331.50" stroke="#4a4a4a" stroke-width="0.8"/>
<text x="458.4" y="401.2" font-size="7.6" text-anchor="middle" fill="#333" stroke="#333" stroke-width="0.18">AML</text>
<text x="348.2" y="260.5" font-size="7.8" text-anchor="middle" textLength="55.5" lengthAdjust="spacingAndGlyphs" fill="#333" stroke="#333" stroke-width="0.18" transform="rotate(-90 348.2 260.5)">Normalized gene</text>
<text x="357.8" y="262" font-size="7.8" text-anchor="middle" textLength="70.3" lengthAdjust="spacingAndGlyphs" fill="#333" stroke="#333" stroke-width="0.18" transform="rotate(-90 357.8 262)">expression (scRNA-seq)</text>
<text x="386.3" y="358.7" font-size="7.8" text-anchor="middle" textLength="52.5" lengthAdjust="spacingAndGlyphs" fill="#333" stroke="#333" stroke-width="0.18" transform="rotate(-90 386.3 358.7)">Normalized gene</text>
<text x="396.3" y="358.7" font-size="7.8" text-anchor="middle" textLength="70.6" lengthAdjust="spacingAndGlyphs" fill="#333" stroke="#333" stroke-width="0.18" transform="rotate(-90 396.3 358.7)">expression (scRNA-seq)</text>
<text x="311.2" y="428.8" font-size="12" font-weight="bold" fill="#111">F</text>
<text x="374.2" y="457.7" font-size="8.6" text-anchor="middle" textLength="34.5" lengthAdjust="spacingAndGlyphs" fill="#222" stroke="#222" stroke-width="0.18">Th1 CD4</text>
<text x="333" y="468.2" font-size="8" fill="#222" textLength="83.2" lengthAdjust="spacingAndGlyphs">(<tspan font-style="italic">IFNG</tspan><tspan font-size="4.6" dy="-3">+</tspan><tspan dy="3">/</tspan><tspan font-style="italic">TNF</tspan><tspan font-size="4.6" dy="-3">+</tspan><tspan dy="3">/</tspan><tspan font-style="italic">BX21</tspan><tspan font-size="4.6" dy="-3">+</tspan><tspan dy="3">)</tspan></text>
<text x="356.3" y="482.6" font-size="7" fill="#333" textLength="36" lengthAdjust="spacingAndGlyphs"><tspan font-style="italic">P</tspan> = 3.6×10<tspan font-size="4.2" dy="-3">−4</tspan></text>
<path d="M362.3 517.4V486.2H386.2V488.4" stroke="#555" stroke-width="0.8" fill="none"/>
<rect x="354.6" y="531.5" width="15.1" height="13.1" fill="#33a6dc"/>
<rect x="379.2" y="510" width="14.6" height="34.6" fill="#c8102e"/>
<path d="M346.9 487.9V544.6H402.8M344.3 492.4H346.9M344.3 502.8H346.9M344.3 513.4H346.9M344.3 523.8H346.9M344.3 534.2H346.9M344.3 544.6H346.9M362.3 544.6V546.8M386.6 544.6V546.8" stroke="#222" stroke-width="0.9" fill="none"/>
<text x="341.3" y="495.0" font-size="7" text-anchor="end" fill="#333" stroke="#333" stroke-width="0.18">50</text>
<text x="341.3" y="505.5" font-size="7" text-anchor="end" fill="#333" stroke="#333" stroke-width="0.18">40</text>
<text x="341.3" y="515.9" font-size="7" text-anchor="end" fill="#333" stroke="#333" stroke-width="0.18">30</text>
<text x="341.3" y="526.4" font-size="7" text-anchor="end" fill="#333" stroke="#333" stroke-width="0.18">20</text>
<text x="341.3" y="536.7" font-size="7" text-anchor="end" fill="#333" stroke="#333" stroke-width="0.18">10</text>
<text x="341.3" y="547.2" font-size="7" text-anchor="end" fill="#333" stroke="#333" stroke-width="0.18">0</text>
<path d="M362.3 531.5V527.6M360.8 527.6H363.8M386.6 510V506.5M385.1 506.5H388.1" stroke="#111" stroke-width="0.6"/>
<circle cx="361.2" cy="522.3" r="0.9" fill="#111"/><circle cx="363.4" cy="522.3" r="0.9" fill="#111"/><circle cx="360" cy="529.2" r="0.9" fill="#111"/><circle cx="363" cy="528.5" r="0.9" fill="#111"/><circle cx="362.3" cy="531" r="0.9" fill="#111"/><circle cx="360.8" cy="536.9" r="0.9" fill="#111"/><circle cx="363.4" cy="537.7" r="0.9" fill="#111"/><circle cx="364.6" cy="536.9" r="0.9" fill="#111"/><circle cx="361.5" cy="539.2" r="0.9" fill="#111"/><circle cx="358.5" cy="535.5" r="0.9" fill="#111"/><circle cx="386.2" cy="489.2" r="0.9" fill="#111"/><circle cx="386.2" cy="491.5" r="0.9" fill="#111"/><circle cx="386.4" cy="493.8" r="0.9" fill="#111"/><circle cx="384.1" cy="497.8" r="0.9" fill="#111"/><circle cx="386.7" cy="497.3" r="0.9" fill="#111"/><circle cx="388.7" cy="498.4" r="0.9" fill="#111"/><circle cx="384.7" cy="500.7" r="0.9" fill="#111"/><circle cx="387.8" cy="500.1" r="0.9" fill="#111"/><circle cx="384.7" cy="503.6" r="0.9" fill="#111"/><circle cx="387" cy="503" r="0.9" fill="#111"/><circle cx="388.2" cy="504.2" r="0.9" fill="#111"/><circle cx="386.2" cy="504.7" r="0.9" fill="#111"/><circle cx="385.9" cy="507.6" r="0.9" fill="#111"/><circle cx="387.6" cy="508.2" r="0.9" fill="#111"/><circle cx="386" cy="519" r="0.9" fill="#111"/><circle cx="388" cy="518.5" r="0.9" fill="#111"/><circle cx="385.4" cy="524.6" r="0.9" fill="#111"/><circle cx="386.9" cy="523.8" r="0.9" fill="#111"/><circle cx="388.5" cy="524.6" r="0.9" fill="#111"/><circle cx="386.2" cy="530.8" r="0.9" fill="#111"/><circle cx="384.5" cy="510.8" r="0.9" fill="#111"/><circle cx="388.8" cy="511.5" r="0.9" fill="#111"/>
<text x="362.3" y="556.6" font-size="7.4" text-anchor="middle" fill="#333" stroke="#333" stroke-width="0.18">HD</text>
<text x="386.6" y="556.6" font-size="7.4" text-anchor="middle" fill="#333" stroke="#333" stroke-width="0.18">AML</text>
<text x="317.3" y="515.3" font-size="8" text-anchor="middle" textLength="65.4" lengthAdjust="spacingAndGlyphs" fill="#333" stroke="#333" stroke-width="0.18" transform="rotate(-90 317.3 515.3)">Proportion in CD4 (%)</text>
<text x="328.4" y="515.8" font-size="8.6" text-anchor="middle" textLength="35.6" lengthAdjust="spacingAndGlyphs" fill="#333" stroke="#333" stroke-width="0.18" transform="rotate(-90 328.4 515.8)">(<tspan font-style="italic">sc</tspan>RNA-<tspan font-style="italic">seq</tspan>)</text>
<text x="459.4" y="457.7" font-size="8.6" text-anchor="middle" textLength="16.8" lengthAdjust="spacingAndGlyphs" fill="#222" stroke="#222" stroke-width="0.18">Treg</text>
<text x="440.2" y="468.2" font-size="8" fill="#222" textLength="37.5" lengthAdjust="spacingAndGlyphs">(<tspan font-style="italic">FOXP3</tspan><tspan font-size="4.6" dy="-3">+</tspan><tspan dy="3">)</tspan></text>
<text x="449.4" y="482.6" font-size="7" textLength="20.6" lengthAdjust="spacingAndGlyphs" fill="#333" stroke="#333" stroke-width="0.18"><tspan font-style="italic">P</tspan> = .08</text>
<path d="M446.5 524.6V485.4H471.1V486.9" stroke="#555" stroke-width="0.8" fill="none"/>
<rect x="440.8" y="533.1" width="11.8" height="11.2" fill="#33a6dc"/>
<rect x="464.9" y="527.7" width="12.3" height="16.6" fill="#c8102e"/>
<path d="M431.5 486.9V544.3H486.9M428.9 495.8H431.5M428.9 512.3H431.5M428.9 528.5H431.5M428.9 544.3H431.5M446.5 544.3V546.5M471.1 544.3V546.5" stroke="#222" stroke-width="0.9" fill="none"/>
<text x="426" y="498.3" font-size="7" text-anchor="end" fill="#333" stroke="#333" stroke-width="0.18">15</text>
<text x="426" y="514.8" font-size="7" text-anchor="end" fill="#333" stroke="#333" stroke-width="0.18">10</text>
<text x="426" y="531.0" font-size="7" text-anchor="end" fill="#333" stroke="#333" stroke-width="0.18">5</text>
<text x="426" y="546.8" font-size="7" text-anchor="end" fill="#333" stroke="#333" stroke-width="0.18">0</text>
<circle cx="445.5" cy="532.5" r="0.9" fill="#111"/><circle cx="447.5" cy="532" r="0.9" fill="#111"/><circle cx="446.5" cy="533.5" r="0.9" fill="#111"/><circle cx="445" cy="534.5" r="0.9" fill="#111"/><circle cx="448" cy="534.2" r="0.9" fill="#111"/><circle cx="446.8" cy="535.5" r="0.9" fill="#111"/><circle cx="444.5" cy="533.2" r="0.9" fill="#111"/><circle cx="471.1" cy="492" r="0.9" fill="#111"/><circle cx="469.5" cy="510.6" r="0.9" fill="#111"/><circle cx="472.2" cy="512" r="0.9" fill="#111"/><circle cx="468.2" cy="514.6" r="0.9" fill="#111"/><circle cx="466.5" cy="525.5" r="0.9" fill="#111"/><circle cx="468.5" cy="525" r="0.9" fill="#111"/><circle cx="470.5" cy="526" r="0.9" fill="#111"/><circle cx="472.5" cy="525.5" r="0.9" fill="#111"/><circle cx="474.5" cy="526.2" r="0.9" fill="#111"/><circle cx="470" cy="531" r="0.9" fill="#111"/><circle cx="468" cy="535" r="0.9" fill="#111"/><circle cx="473" cy="537" r="0.9" fill="#111"/><circle cx="470" cy="540" r="0.9" fill="#111"/><circle cx="472" cy="533" r="0.9" fill="#111"/>
<text x="446.5" y="556.6" font-size="7.4" text-anchor="middle" fill="#333" stroke="#333" stroke-width="0.18">HD</text>
<text x="471.1" y="556.6" font-size="7.4" text-anchor="middle" fill="#333" stroke="#333" stroke-width="0.18">AML</text>
<rect x="0.5" y="0.5" width="519" height="607" fill="none" stroke="#555" stroke-width="1"/>
<rect x="1.5" y="1.5" width="517" height="605" fill="none" stroke="#c8c8c8" stroke-width="0.6"/>
</svg></div></body></html>
